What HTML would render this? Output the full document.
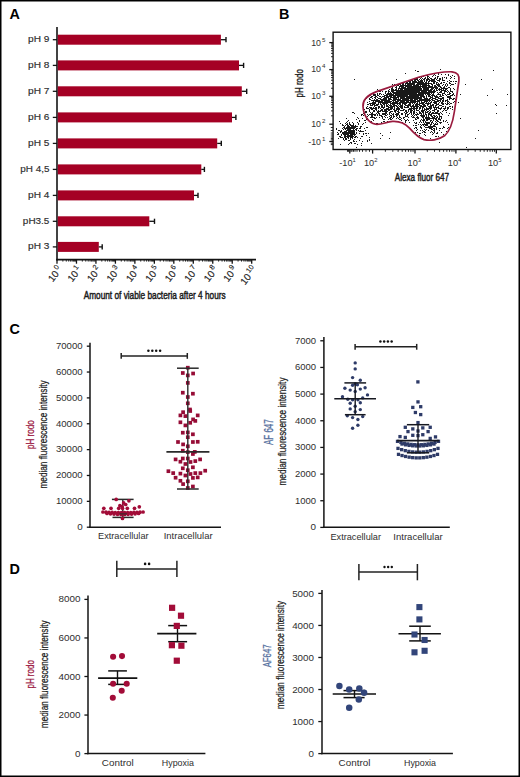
<!DOCTYPE html>
<html><head><meta charset="utf-8"><style>
html,body{margin:0;padding:0;background:#fff;}
.fig{position:relative;width:520px;height:777px;overflow:hidden;background:#fff;}
svg{position:absolute;left:0;top:0;}
svg text{font-family:"Liberation Sans", sans-serif;}
</style></head><body><div class="fig">
<svg width="520" height="777" viewBox="0 0 520 777">
<rect x="0.75" y="0.75" width="518.5" height="775.5" fill="none" stroke="#000" stroke-width="1.5"/>
<text x="9.40" y="19.40" font-size="14.4" fill="#000" font-weight="bold">A</text>
<line x1="57.00" y1="27.00" x2="57.00" y2="260.50" stroke="#141414" stroke-width="1.6"/>
<line x1="56.20" y1="259.60" x2="256.00" y2="259.60" stroke="#141414" stroke-width="1.8"/>
<rect x="57.8" y="34.70" width="163.10" height="10" fill="#a50024"/>
<line x1="220.90" y1="39.70" x2="226.00" y2="39.70" stroke="#111" stroke-width="1.3"/>
<line x1="226.00" y1="37.10" x2="226.00" y2="42.30" stroke="#111" stroke-width="1.4"/>
<line x1="52.80" y1="39.70" x2="57.00" y2="39.70" stroke="#141414" stroke-width="1.3"/>
<text x="28.09" y="42.20" font-size="8.5" fill="#2e2e2e" textLength="21.32" lengthAdjust="spacingAndGlyphs" stroke="#2e2e2e" stroke-width="0.15">pH 9</text>
<rect x="57.8" y="60.40" width="181.20" height="10" fill="#a50024"/>
<line x1="239.00" y1="65.40" x2="243.60" y2="65.40" stroke="#111" stroke-width="1.3"/>
<line x1="243.60" y1="62.80" x2="243.60" y2="68.00" stroke="#111" stroke-width="1.4"/>
<line x1="52.80" y1="65.40" x2="57.00" y2="65.40" stroke="#141414" stroke-width="1.3"/>
<text x="28.09" y="67.90" font-size="8.5" fill="#2e2e2e" textLength="21.32" lengthAdjust="spacingAndGlyphs" stroke="#2e2e2e" stroke-width="0.15">pH 8</text>
<rect x="57.8" y="86.30" width="184.00" height="10" fill="#a50024"/>
<line x1="241.80" y1="91.30" x2="246.70" y2="91.30" stroke="#111" stroke-width="1.3"/>
<line x1="246.70" y1="88.70" x2="246.70" y2="93.90" stroke="#111" stroke-width="1.4"/>
<line x1="52.80" y1="91.30" x2="57.00" y2="91.30" stroke="#141414" stroke-width="1.3"/>
<text x="28.09" y="93.80" font-size="8.5" fill="#2e2e2e" textLength="21.32" lengthAdjust="spacingAndGlyphs" stroke="#2e2e2e" stroke-width="0.15">pH 7</text>
<rect x="57.8" y="112.40" width="174.20" height="10" fill="#a50024"/>
<line x1="232.00" y1="117.40" x2="235.90" y2="117.40" stroke="#111" stroke-width="1.3"/>
<line x1="235.90" y1="114.80" x2="235.90" y2="120.00" stroke="#111" stroke-width="1.4"/>
<line x1="52.80" y1="117.40" x2="57.00" y2="117.40" stroke="#141414" stroke-width="1.3"/>
<text x="28.09" y="119.90" font-size="8.5" fill="#2e2e2e" textLength="21.32" lengthAdjust="spacingAndGlyphs" stroke="#2e2e2e" stroke-width="0.15">pH 6</text>
<rect x="57.8" y="138.40" width="159.40" height="10" fill="#a50024"/>
<line x1="217.20" y1="143.40" x2="221.30" y2="143.40" stroke="#111" stroke-width="1.3"/>
<line x1="221.30" y1="140.80" x2="221.30" y2="146.00" stroke="#111" stroke-width="1.4"/>
<line x1="52.80" y1="143.40" x2="57.00" y2="143.40" stroke="#141414" stroke-width="1.3"/>
<text x="28.09" y="145.90" font-size="8.5" fill="#2e2e2e" textLength="21.32" lengthAdjust="spacingAndGlyphs" stroke="#2e2e2e" stroke-width="0.15">pH 5</text>
<rect x="57.8" y="164.40" width="143.50" height="10" fill="#a50024"/>
<line x1="201.30" y1="169.40" x2="204.40" y2="169.40" stroke="#111" stroke-width="1.3"/>
<line x1="204.40" y1="166.80" x2="204.40" y2="172.00" stroke="#111" stroke-width="1.4"/>
<line x1="52.80" y1="169.40" x2="57.00" y2="169.40" stroke="#141414" stroke-width="1.3"/>
<text x="20.29" y="171.90" font-size="8.5" fill="#2e2e2e" textLength="29.12" lengthAdjust="spacingAndGlyphs" stroke="#2e2e2e" stroke-width="0.15">pH 4,5</text>
<rect x="57.8" y="190.40" width="136.20" height="10" fill="#a50024"/>
<line x1="194.00" y1="195.40" x2="198.00" y2="195.40" stroke="#111" stroke-width="1.3"/>
<line x1="198.00" y1="192.80" x2="198.00" y2="198.00" stroke="#111" stroke-width="1.4"/>
<line x1="52.80" y1="195.40" x2="57.00" y2="195.40" stroke="#141414" stroke-width="1.3"/>
<text x="28.09" y="197.90" font-size="8.5" fill="#2e2e2e" textLength="21.32" lengthAdjust="spacingAndGlyphs" stroke="#2e2e2e" stroke-width="0.15">pH 4</text>
<rect x="57.8" y="216.30" width="91.50" height="10" fill="#a50024"/>
<line x1="149.30" y1="221.30" x2="154.50" y2="221.30" stroke="#111" stroke-width="1.3"/>
<line x1="154.50" y1="218.70" x2="154.50" y2="223.90" stroke="#111" stroke-width="1.4"/>
<line x1="52.80" y1="221.30" x2="57.00" y2="221.30" stroke="#141414" stroke-width="1.3"/>
<text x="22.89" y="223.80" font-size="8.5" fill="#2e2e2e" textLength="26.52" lengthAdjust="spacingAndGlyphs" stroke="#2e2e2e" stroke-width="0.15">pH3.5</text>
<rect x="57.8" y="241.90" width="41.00" height="10" fill="#a50024"/>
<line x1="98.80" y1="246.90" x2="102.20" y2="246.90" stroke="#111" stroke-width="1.3"/>
<line x1="102.20" y1="244.30" x2="102.20" y2="249.50" stroke="#111" stroke-width="1.4"/>
<line x1="52.80" y1="246.90" x2="57.00" y2="246.90" stroke="#141414" stroke-width="1.3"/>
<text x="28.09" y="249.40" font-size="8.5" fill="#2e2e2e" textLength="21.32" lengthAdjust="spacingAndGlyphs" stroke="#2e2e2e" stroke-width="0.15">pH 3</text>
<line x1="57.00" y1="259.60" x2="57.00" y2="263.70" stroke="#141414" stroke-width="1.3"/>
<line x1="62.86" y1="259.60" x2="62.86" y2="261.60" stroke="#141414" stroke-width="0.9"/>
<line x1="66.29" y1="259.60" x2="66.29" y2="261.60" stroke="#141414" stroke-width="0.9"/>
<line x1="68.72" y1="259.60" x2="68.72" y2="261.60" stroke="#141414" stroke-width="0.9"/>
<line x1="70.61" y1="259.60" x2="70.61" y2="261.60" stroke="#141414" stroke-width="0.9"/>
<line x1="72.15" y1="259.60" x2="72.15" y2="261.60" stroke="#141414" stroke-width="0.9"/>
<line x1="73.45" y1="259.60" x2="73.45" y2="261.60" stroke="#141414" stroke-width="0.9"/>
<line x1="74.58" y1="259.60" x2="74.58" y2="261.60" stroke="#141414" stroke-width="0.9"/>
<line x1="75.58" y1="259.60" x2="75.58" y2="261.60" stroke="#141414" stroke-width="0.9"/>
<text transform="translate(62.80,269.60) rotate(-52)" x="0" y="0" font-size="9.8" fill="#222" stroke="#222" stroke-width="0.15" text-anchor="end">10<tspan font-size="7.2" dx="1.4" dy="-4.2">0</tspan></text>
<line x1="76.47" y1="259.60" x2="76.47" y2="263.70" stroke="#141414" stroke-width="1.3"/>
<line x1="82.33" y1="259.60" x2="82.33" y2="261.60" stroke="#141414" stroke-width="0.9"/>
<line x1="85.76" y1="259.60" x2="85.76" y2="261.60" stroke="#141414" stroke-width="0.9"/>
<line x1="88.19" y1="259.60" x2="88.19" y2="261.60" stroke="#141414" stroke-width="0.9"/>
<line x1="90.08" y1="259.60" x2="90.08" y2="261.60" stroke="#141414" stroke-width="0.9"/>
<line x1="91.62" y1="259.60" x2="91.62" y2="261.60" stroke="#141414" stroke-width="0.9"/>
<line x1="92.92" y1="259.60" x2="92.92" y2="261.60" stroke="#141414" stroke-width="0.9"/>
<line x1="94.05" y1="259.60" x2="94.05" y2="261.60" stroke="#141414" stroke-width="0.9"/>
<line x1="95.05" y1="259.60" x2="95.05" y2="261.60" stroke="#141414" stroke-width="0.9"/>
<text transform="translate(82.27,269.60) rotate(-52)" x="0" y="0" font-size="9.8" fill="#222" stroke="#222" stroke-width="0.15" text-anchor="end">10<tspan font-size="7.2" dx="1.4" dy="-4.2">1</tspan></text>
<line x1="95.94" y1="259.60" x2="95.94" y2="263.70" stroke="#141414" stroke-width="1.3"/>
<line x1="101.80" y1="259.60" x2="101.80" y2="261.60" stroke="#141414" stroke-width="0.9"/>
<line x1="105.23" y1="259.60" x2="105.23" y2="261.60" stroke="#141414" stroke-width="0.9"/>
<line x1="107.66" y1="259.60" x2="107.66" y2="261.60" stroke="#141414" stroke-width="0.9"/>
<line x1="109.55" y1="259.60" x2="109.55" y2="261.60" stroke="#141414" stroke-width="0.9"/>
<line x1="111.09" y1="259.60" x2="111.09" y2="261.60" stroke="#141414" stroke-width="0.9"/>
<line x1="112.39" y1="259.60" x2="112.39" y2="261.60" stroke="#141414" stroke-width="0.9"/>
<line x1="113.52" y1="259.60" x2="113.52" y2="261.60" stroke="#141414" stroke-width="0.9"/>
<line x1="114.52" y1="259.60" x2="114.52" y2="261.60" stroke="#141414" stroke-width="0.9"/>
<text transform="translate(101.74,269.60) rotate(-52)" x="0" y="0" font-size="9.8" fill="#222" stroke="#222" stroke-width="0.15" text-anchor="end">10<tspan font-size="7.2" dx="1.4" dy="-4.2">2</tspan></text>
<line x1="115.41" y1="259.60" x2="115.41" y2="263.70" stroke="#141414" stroke-width="1.3"/>
<line x1="121.27" y1="259.60" x2="121.27" y2="261.60" stroke="#141414" stroke-width="0.9"/>
<line x1="124.70" y1="259.60" x2="124.70" y2="261.60" stroke="#141414" stroke-width="0.9"/>
<line x1="127.13" y1="259.60" x2="127.13" y2="261.60" stroke="#141414" stroke-width="0.9"/>
<line x1="129.02" y1="259.60" x2="129.02" y2="261.60" stroke="#141414" stroke-width="0.9"/>
<line x1="130.56" y1="259.60" x2="130.56" y2="261.60" stroke="#141414" stroke-width="0.9"/>
<line x1="131.86" y1="259.60" x2="131.86" y2="261.60" stroke="#141414" stroke-width="0.9"/>
<line x1="132.99" y1="259.60" x2="132.99" y2="261.60" stroke="#141414" stroke-width="0.9"/>
<line x1="133.99" y1="259.60" x2="133.99" y2="261.60" stroke="#141414" stroke-width="0.9"/>
<text transform="translate(121.21,269.60) rotate(-52)" x="0" y="0" font-size="9.8" fill="#222" stroke="#222" stroke-width="0.15" text-anchor="end">10<tspan font-size="7.2" dx="1.4" dy="-4.2">3</tspan></text>
<line x1="134.88" y1="259.60" x2="134.88" y2="263.70" stroke="#141414" stroke-width="1.3"/>
<line x1="140.74" y1="259.60" x2="140.74" y2="261.60" stroke="#141414" stroke-width="0.9"/>
<line x1="144.17" y1="259.60" x2="144.17" y2="261.60" stroke="#141414" stroke-width="0.9"/>
<line x1="146.60" y1="259.60" x2="146.60" y2="261.60" stroke="#141414" stroke-width="0.9"/>
<line x1="148.49" y1="259.60" x2="148.49" y2="261.60" stroke="#141414" stroke-width="0.9"/>
<line x1="150.03" y1="259.60" x2="150.03" y2="261.60" stroke="#141414" stroke-width="0.9"/>
<line x1="151.33" y1="259.60" x2="151.33" y2="261.60" stroke="#141414" stroke-width="0.9"/>
<line x1="152.46" y1="259.60" x2="152.46" y2="261.60" stroke="#141414" stroke-width="0.9"/>
<line x1="153.46" y1="259.60" x2="153.46" y2="261.60" stroke="#141414" stroke-width="0.9"/>
<text transform="translate(140.68,269.60) rotate(-52)" x="0" y="0" font-size="9.8" fill="#222" stroke="#222" stroke-width="0.15" text-anchor="end">10<tspan font-size="7.2" dx="1.4" dy="-4.2">4</tspan></text>
<line x1="154.35" y1="259.60" x2="154.35" y2="263.70" stroke="#141414" stroke-width="1.3"/>
<line x1="160.21" y1="259.60" x2="160.21" y2="261.60" stroke="#141414" stroke-width="0.9"/>
<line x1="163.64" y1="259.60" x2="163.64" y2="261.60" stroke="#141414" stroke-width="0.9"/>
<line x1="166.07" y1="259.60" x2="166.07" y2="261.60" stroke="#141414" stroke-width="0.9"/>
<line x1="167.96" y1="259.60" x2="167.96" y2="261.60" stroke="#141414" stroke-width="0.9"/>
<line x1="169.50" y1="259.60" x2="169.50" y2="261.60" stroke="#141414" stroke-width="0.9"/>
<line x1="170.80" y1="259.60" x2="170.80" y2="261.60" stroke="#141414" stroke-width="0.9"/>
<line x1="171.93" y1="259.60" x2="171.93" y2="261.60" stroke="#141414" stroke-width="0.9"/>
<line x1="172.93" y1="259.60" x2="172.93" y2="261.60" stroke="#141414" stroke-width="0.9"/>
<text transform="translate(160.15,269.60) rotate(-52)" x="0" y="0" font-size="9.8" fill="#222" stroke="#222" stroke-width="0.15" text-anchor="end">10<tspan font-size="7.2" dx="1.4" dy="-4.2">5</tspan></text>
<line x1="173.82" y1="259.60" x2="173.82" y2="263.70" stroke="#141414" stroke-width="1.3"/>
<line x1="179.68" y1="259.60" x2="179.68" y2="261.60" stroke="#141414" stroke-width="0.9"/>
<line x1="183.11" y1="259.60" x2="183.11" y2="261.60" stroke="#141414" stroke-width="0.9"/>
<line x1="185.54" y1="259.60" x2="185.54" y2="261.60" stroke="#141414" stroke-width="0.9"/>
<line x1="187.43" y1="259.60" x2="187.43" y2="261.60" stroke="#141414" stroke-width="0.9"/>
<line x1="188.97" y1="259.60" x2="188.97" y2="261.60" stroke="#141414" stroke-width="0.9"/>
<line x1="190.27" y1="259.60" x2="190.27" y2="261.60" stroke="#141414" stroke-width="0.9"/>
<line x1="191.40" y1="259.60" x2="191.40" y2="261.60" stroke="#141414" stroke-width="0.9"/>
<line x1="192.40" y1="259.60" x2="192.40" y2="261.60" stroke="#141414" stroke-width="0.9"/>
<text transform="translate(179.62,269.60) rotate(-52)" x="0" y="0" font-size="9.8" fill="#222" stroke="#222" stroke-width="0.15" text-anchor="end">10<tspan font-size="7.2" dx="1.4" dy="-4.2">6</tspan></text>
<line x1="193.29" y1="259.60" x2="193.29" y2="263.70" stroke="#141414" stroke-width="1.3"/>
<line x1="199.15" y1="259.60" x2="199.15" y2="261.60" stroke="#141414" stroke-width="0.9"/>
<line x1="202.58" y1="259.60" x2="202.58" y2="261.60" stroke="#141414" stroke-width="0.9"/>
<line x1="205.01" y1="259.60" x2="205.01" y2="261.60" stroke="#141414" stroke-width="0.9"/>
<line x1="206.90" y1="259.60" x2="206.90" y2="261.60" stroke="#141414" stroke-width="0.9"/>
<line x1="208.44" y1="259.60" x2="208.44" y2="261.60" stroke="#141414" stroke-width="0.9"/>
<line x1="209.74" y1="259.60" x2="209.74" y2="261.60" stroke="#141414" stroke-width="0.9"/>
<line x1="210.87" y1="259.60" x2="210.87" y2="261.60" stroke="#141414" stroke-width="0.9"/>
<line x1="211.87" y1="259.60" x2="211.87" y2="261.60" stroke="#141414" stroke-width="0.9"/>
<text transform="translate(199.09,269.60) rotate(-52)" x="0" y="0" font-size="9.8" fill="#222" stroke="#222" stroke-width="0.15" text-anchor="end">10<tspan font-size="7.2" dx="1.4" dy="-4.2">7</tspan></text>
<line x1="212.76" y1="259.60" x2="212.76" y2="263.70" stroke="#141414" stroke-width="1.3"/>
<line x1="218.62" y1="259.60" x2="218.62" y2="261.60" stroke="#141414" stroke-width="0.9"/>
<line x1="222.05" y1="259.60" x2="222.05" y2="261.60" stroke="#141414" stroke-width="0.9"/>
<line x1="224.48" y1="259.60" x2="224.48" y2="261.60" stroke="#141414" stroke-width="0.9"/>
<line x1="226.37" y1="259.60" x2="226.37" y2="261.60" stroke="#141414" stroke-width="0.9"/>
<line x1="227.91" y1="259.60" x2="227.91" y2="261.60" stroke="#141414" stroke-width="0.9"/>
<line x1="229.21" y1="259.60" x2="229.21" y2="261.60" stroke="#141414" stroke-width="0.9"/>
<line x1="230.34" y1="259.60" x2="230.34" y2="261.60" stroke="#141414" stroke-width="0.9"/>
<line x1="231.34" y1="259.60" x2="231.34" y2="261.60" stroke="#141414" stroke-width="0.9"/>
<text transform="translate(218.56,269.60) rotate(-52)" x="0" y="0" font-size="9.8" fill="#222" stroke="#222" stroke-width="0.15" text-anchor="end">10<tspan font-size="7.2" dx="1.4" dy="-4.2">8</tspan></text>
<line x1="232.23" y1="259.60" x2="232.23" y2="263.70" stroke="#141414" stroke-width="1.3"/>
<line x1="238.09" y1="259.60" x2="238.09" y2="261.60" stroke="#141414" stroke-width="0.9"/>
<line x1="241.52" y1="259.60" x2="241.52" y2="261.60" stroke="#141414" stroke-width="0.9"/>
<line x1="243.95" y1="259.60" x2="243.95" y2="261.60" stroke="#141414" stroke-width="0.9"/>
<line x1="245.84" y1="259.60" x2="245.84" y2="261.60" stroke="#141414" stroke-width="0.9"/>
<line x1="247.38" y1="259.60" x2="247.38" y2="261.60" stroke="#141414" stroke-width="0.9"/>
<line x1="248.68" y1="259.60" x2="248.68" y2="261.60" stroke="#141414" stroke-width="0.9"/>
<line x1="249.81" y1="259.60" x2="249.81" y2="261.60" stroke="#141414" stroke-width="0.9"/>
<line x1="250.81" y1="259.60" x2="250.81" y2="261.60" stroke="#141414" stroke-width="0.9"/>
<text transform="translate(238.03,269.60) rotate(-52)" x="0" y="0" font-size="9.8" fill="#222" stroke="#222" stroke-width="0.15" text-anchor="end">10<tspan font-size="7.2" dx="1.4" dy="-4.2">9</tspan></text>
<line x1="251.70" y1="259.60" x2="251.70" y2="263.70" stroke="#141414" stroke-width="1.3"/>
<text transform="translate(257.50,269.60) rotate(-52)" x="0" y="0" font-size="9.8" fill="#222" stroke="#222" stroke-width="0.15" text-anchor="end">10<tspan font-size="7.2" dx="1.4" dy="-4.2">10</tspan></text>
<text x="83.67" y="298.50" font-size="10.5" fill="#1a1a1a" textLength="141.96" lengthAdjust="spacingAndGlyphs" stroke="#1a1a1a" stroke-width="0.45">Amount of viable bacteria after 4 hours</text>
<text x="278.90" y="19.40" font-size="14.4" fill="#000" font-weight="bold">B</text>
<rect x="333.1" y="32.2" width="177.8" height="117.3" fill="none" stroke="#111" stroke-width="1.4"/>
<line x1="329.30" y1="42.60" x2="333.10" y2="42.60" stroke="#141414" stroke-width="1.3"/>
<text x="321.0" y="45.60" font-size="8.8" fill="#2e2e2e" text-anchor="end">10</text>
<text x="321.9" y="41.70" font-size="6.2" fill="#2e2e2e">5</text>
<line x1="329.30" y1="69.60" x2="333.10" y2="69.60" stroke="#141414" stroke-width="1.3"/>
<text x="321.0" y="71.90" font-size="8.8" fill="#2e2e2e" text-anchor="end">10</text>
<text x="321.9" y="68.00" font-size="6.2" fill="#2e2e2e">4</text>
<line x1="329.30" y1="96.30" x2="333.10" y2="96.30" stroke="#141414" stroke-width="1.3"/>
<text x="321.0" y="98.50" font-size="8.8" fill="#2e2e2e" text-anchor="end">10</text>
<text x="321.9" y="94.60" font-size="6.2" fill="#2e2e2e">3</text>
<line x1="329.30" y1="124.20" x2="333.10" y2="124.20" stroke="#141414" stroke-width="1.3"/>
<text x="321.0" y="126.80" font-size="8.8" fill="#2e2e2e" text-anchor="end">10</text>
<text x="321.9" y="122.90" font-size="6.2" fill="#2e2e2e">2</text>
<line x1="329.30" y1="141.50" x2="333.10" y2="141.50" stroke="#141414" stroke-width="1.3"/>
<text x="321.0" y="144.50" font-size="8.8" fill="#2e2e2e" text-anchor="end">-10</text>
<text x="321.9" y="140.60" font-size="6.2" fill="#2e2e2e">1</text>
<line x1="331.00" y1="61.47" x2="333.00" y2="61.47" stroke="#141414" stroke-width="0.9"/>
<line x1="331.00" y1="56.72" x2="333.00" y2="56.72" stroke="#141414" stroke-width="0.9"/>
<line x1="331.00" y1="53.34" x2="333.00" y2="53.34" stroke="#141414" stroke-width="0.9"/>
<line x1="331.00" y1="50.73" x2="333.00" y2="50.73" stroke="#141414" stroke-width="0.9"/>
<line x1="331.00" y1="48.59" x2="333.00" y2="48.59" stroke="#141414" stroke-width="0.9"/>
<line x1="331.00" y1="46.78" x2="333.00" y2="46.78" stroke="#141414" stroke-width="0.9"/>
<line x1="331.00" y1="45.22" x2="333.00" y2="45.22" stroke="#141414" stroke-width="0.9"/>
<line x1="331.00" y1="43.84" x2="333.00" y2="43.84" stroke="#141414" stroke-width="0.9"/>
<line x1="331.00" y1="88.26" x2="333.00" y2="88.26" stroke="#141414" stroke-width="0.9"/>
<line x1="331.00" y1="83.56" x2="333.00" y2="83.56" stroke="#141414" stroke-width="0.9"/>
<line x1="331.00" y1="80.22" x2="333.00" y2="80.22" stroke="#141414" stroke-width="0.9"/>
<line x1="331.00" y1="77.64" x2="333.00" y2="77.64" stroke="#141414" stroke-width="0.9"/>
<line x1="331.00" y1="75.52" x2="333.00" y2="75.52" stroke="#141414" stroke-width="0.9"/>
<line x1="331.00" y1="73.74" x2="333.00" y2="73.74" stroke="#141414" stroke-width="0.9"/>
<line x1="331.00" y1="72.19" x2="333.00" y2="72.19" stroke="#141414" stroke-width="0.9"/>
<line x1="331.00" y1="70.82" x2="333.00" y2="70.82" stroke="#141414" stroke-width="0.9"/>
<line x1="331.00" y1="115.80" x2="333.00" y2="115.80" stroke="#141414" stroke-width="0.9"/>
<line x1="331.00" y1="110.89" x2="333.00" y2="110.89" stroke="#141414" stroke-width="0.9"/>
<line x1="331.00" y1="107.40" x2="333.00" y2="107.40" stroke="#141414" stroke-width="0.9"/>
<line x1="331.00" y1="104.70" x2="333.00" y2="104.70" stroke="#141414" stroke-width="0.9"/>
<line x1="331.00" y1="102.49" x2="333.00" y2="102.49" stroke="#141414" stroke-width="0.9"/>
<line x1="331.00" y1="100.62" x2="333.00" y2="100.62" stroke="#141414" stroke-width="0.9"/>
<line x1="331.00" y1="99.00" x2="333.00" y2="99.00" stroke="#141414" stroke-width="0.9"/>
<line x1="331.00" y1="97.58" x2="333.00" y2="97.58" stroke="#141414" stroke-width="0.9"/>
<line x1="330.80" y1="127.50" x2="333.00" y2="127.50" stroke="#141414" stroke-width="0.9"/>
<line x1="330.80" y1="130.50" x2="333.00" y2="130.50" stroke="#141414" stroke-width="0.9"/>
<line x1="330.80" y1="133.00" x2="333.00" y2="133.00" stroke="#141414" stroke-width="0.9"/>
<line x1="330.80" y1="135.00" x2="333.00" y2="135.00" stroke="#141414" stroke-width="0.9"/>
<line x1="330.80" y1="137.00" x2="333.00" y2="137.00" stroke="#141414" stroke-width="0.9"/>
<line x1="330.80" y1="138.60" x2="333.00" y2="138.60" stroke="#141414" stroke-width="0.9"/>
<line x1="330.80" y1="139.90" x2="333.00" y2="139.90" stroke="#141414" stroke-width="0.9"/>
<line x1="330.80" y1="143.20" x2="333.00" y2="143.20" stroke="#141414" stroke-width="0.9"/>
<line x1="330.80" y1="144.60" x2="333.00" y2="144.60" stroke="#141414" stroke-width="0.9"/>
<text transform="translate(302.60,83.35) rotate(-90)" x="0" y="0" font-size="11.6" fill="#1a1a1a" text-anchor="middle" textLength="28.46" lengthAdjust="spacingAndGlyphs" stroke="#1a1a1a" stroke-width="0.35">pH rodo</text>
<line x1="349.80" y1="149.50" x2="349.80" y2="153.60" stroke="#141414" stroke-width="1.3"/>
<line x1="372.60" y1="149.50" x2="372.60" y2="153.60" stroke="#141414" stroke-width="1.3"/>
<line x1="415.00" y1="149.50" x2="415.00" y2="153.60" stroke="#141414" stroke-width="1.3"/>
<line x1="455.90" y1="149.50" x2="455.90" y2="153.60" stroke="#141414" stroke-width="1.3"/>
<line x1="496.30" y1="149.50" x2="496.30" y2="153.60" stroke="#141414" stroke-width="1.3"/>
<line x1="385.36" y1="149.50" x2="385.36" y2="151.80" stroke="#141414" stroke-width="0.9"/>
<line x1="392.83" y1="149.50" x2="392.83" y2="151.80" stroke="#141414" stroke-width="0.9"/>
<line x1="398.13" y1="149.50" x2="398.13" y2="151.80" stroke="#141414" stroke-width="0.9"/>
<line x1="402.24" y1="149.50" x2="402.24" y2="151.80" stroke="#141414" stroke-width="0.9"/>
<line x1="405.59" y1="149.50" x2="405.59" y2="151.80" stroke="#141414" stroke-width="0.9"/>
<line x1="408.43" y1="149.50" x2="408.43" y2="151.80" stroke="#141414" stroke-width="0.9"/>
<line x1="410.89" y1="149.50" x2="410.89" y2="151.80" stroke="#141414" stroke-width="0.9"/>
<line x1="413.06" y1="149.50" x2="413.06" y2="151.80" stroke="#141414" stroke-width="0.9"/>
<line x1="427.31" y1="149.50" x2="427.31" y2="151.80" stroke="#141414" stroke-width="0.9"/>
<line x1="434.51" y1="149.50" x2="434.51" y2="151.80" stroke="#141414" stroke-width="0.9"/>
<line x1="439.62" y1="149.50" x2="439.62" y2="151.80" stroke="#141414" stroke-width="0.9"/>
<line x1="443.59" y1="149.50" x2="443.59" y2="151.80" stroke="#141414" stroke-width="0.9"/>
<line x1="446.83" y1="149.50" x2="446.83" y2="151.80" stroke="#141414" stroke-width="0.9"/>
<line x1="449.56" y1="149.50" x2="449.56" y2="151.80" stroke="#141414" stroke-width="0.9"/>
<line x1="451.94" y1="149.50" x2="451.94" y2="151.80" stroke="#141414" stroke-width="0.9"/>
<line x1="454.03" y1="149.50" x2="454.03" y2="151.80" stroke="#141414" stroke-width="0.9"/>
<line x1="468.06" y1="149.50" x2="468.06" y2="151.80" stroke="#141414" stroke-width="0.9"/>
<line x1="475.18" y1="149.50" x2="475.18" y2="151.80" stroke="#141414" stroke-width="0.9"/>
<line x1="480.22" y1="149.50" x2="480.22" y2="151.80" stroke="#141414" stroke-width="0.9"/>
<line x1="484.14" y1="149.50" x2="484.14" y2="151.80" stroke="#141414" stroke-width="0.9"/>
<line x1="487.34" y1="149.50" x2="487.34" y2="151.80" stroke="#141414" stroke-width="0.9"/>
<line x1="490.04" y1="149.50" x2="490.04" y2="151.80" stroke="#141414" stroke-width="0.9"/>
<line x1="492.38" y1="149.50" x2="492.38" y2="151.80" stroke="#141414" stroke-width="0.9"/>
<line x1="494.45" y1="149.50" x2="494.45" y2="151.80" stroke="#141414" stroke-width="0.9"/>
<line x1="347.50" y1="149.50" x2="347.50" y2="151.80" stroke="#141414" stroke-width="0.9"/>
<line x1="348.50" y1="149.50" x2="348.50" y2="151.80" stroke="#141414" stroke-width="0.9"/>
<line x1="351.00" y1="149.50" x2="351.00" y2="151.80" stroke="#141414" stroke-width="0.9"/>
<line x1="352.00" y1="149.50" x2="352.00" y2="151.80" stroke="#141414" stroke-width="0.9"/>
<line x1="353.50" y1="149.50" x2="353.50" y2="151.80" stroke="#141414" stroke-width="0.9"/>
<line x1="355.00" y1="149.50" x2="355.00" y2="151.80" stroke="#141414" stroke-width="0.9"/>
<line x1="357.00" y1="149.50" x2="357.00" y2="151.80" stroke="#141414" stroke-width="0.9"/>
<line x1="359.50" y1="149.50" x2="359.50" y2="151.80" stroke="#141414" stroke-width="0.9"/>
<line x1="362.50" y1="149.50" x2="362.50" y2="151.80" stroke="#141414" stroke-width="0.9"/>
<line x1="366.00" y1="149.50" x2="366.00" y2="151.80" stroke="#141414" stroke-width="0.9"/>
<line x1="369.50" y1="149.50" x2="369.50" y2="151.80" stroke="#141414" stroke-width="0.9"/>
<text x="339.30" y="166.2" font-size="9.2" fill="#2e2e2e">-10<tspan font-size="5.8" dy="-4.6">1</tspan></text>
<text x="363.90" y="166.2" font-size="9.2" fill="#2e2e2e">10<tspan font-size="5.8" dy="-4.6">2</tspan></text>
<text x="407.60" y="166.2" font-size="9.2" fill="#2e2e2e">10<tspan font-size="5.8" dy="-4.6">3</tspan></text>
<text x="447.80" y="166.2" font-size="9.2" fill="#2e2e2e">10<tspan font-size="5.8" dy="-4.6">4</tspan></text>
<text x="488.00" y="166.2" font-size="9.2" fill="#2e2e2e">10<tspan font-size="5.8" dy="-4.6">5</tspan></text>
<text x="394.75" y="180.50" font-size="10.8" fill="#1a1a1a" textLength="54.40" lengthAdjust="spacingAndGlyphs" stroke="#1a1a1a" stroke-width="0.45">Alexa fluor 647</text>
<path d="M426 85h1v1h-1zM426 92h1v1h-1zM404 89h1v1h-1zM405 92h1v1h-1zM417 88h1v1h-1zM411 95h1v1h-1zM420 92h1v1h-1zM389 94h1v1h-1zM429 87h1v1h-1zM420 93h1v1h-1zM409 91h1v1h-1zM408 96h1v1h-1zM417 94h1v1h-1zM420 85h1v1h-1zM408 89h1v1h-1zM407 85h1v1h-1zM400 91h1v1h-1zM393 95h1v1h-1zM414 82h1v1h-1zM404 95h1v1h-1zM388 96h1v1h-1zM402 94h1v1h-1zM404 87h1v1h-1zM394 84h1v1h-1zM394 98h1v1h-1zM412 93h1v1h-1zM421 86h1v1h-1zM407 88h1v1h-1zM401 90h1v1h-1zM415 87h1v1h-1zM418 84h1v1h-1zM418 92h1v1h-1zM420 78h1v1h-1zM408 88h1v1h-1zM401 90h1v1h-1zM415 90h1v1h-1zM411 80h1v1h-1zM425 92h1v1h-1zM397 97h1v1h-1zM404 96h1v1h-1zM403 99h1v1h-1zM389 91h1v1h-1zM417 90h1v1h-1zM404 99h1v1h-1zM428 91h1v1h-1zM419 84h1v1h-1zM418 87h1v1h-1zM416 90h1v1h-1zM419 77h1v1h-1zM394 90h1v1h-1zM417 84h1v1h-1zM420 96h1v1h-1zM389 91h1v1h-1zM417 97h1v1h-1zM408 90h1v1h-1zM417 78h1v1h-1zM409 103h1v1h-1zM409 84h1v1h-1zM415 92h1v1h-1zM403 101h1v1h-1zM417 85h1v1h-1zM408 83h1v1h-1zM418 94h1v1h-1zM405 91h1v1h-1zM421 80h1v1h-1zM416 82h1v1h-1zM408 88h1v1h-1zM419 93h1v1h-1zM425 84h1v1h-1zM432 87h1v1h-1zM395 103h1v1h-1zM423 94h1v1h-1zM418 96h1v1h-1zM411 96h1v1h-1zM397 84h1v1h-1zM427 92h1v1h-1zM396 95h1v1h-1zM417 87h1v1h-1zM424 80h1v1h-1zM405 85h1v1h-1zM395 93h1v1h-1zM412 82h1v1h-1zM427 80h1v1h-1zM433 80h1v1h-1zM391 99h1v1h-1zM403 90h1v1h-1zM418 87h1v1h-1zM431 92h1v1h-1zM415 86h1v1h-1zM403 95h1v1h-1zM412 83h1v1h-1zM411 91h1v1h-1zM408 91h1v1h-1zM402 93h1v1h-1zM414 86h1v1h-1zM413 83h1v1h-1zM409 88h1v1h-1zM407 88h1v1h-1zM397 99h1v1h-1zM406 96h1v1h-1zM423 79h1v1h-1zM409 93h1v1h-1zM393 91h1v1h-1zM427 88h1v1h-1zM416 85h1v1h-1zM433 75h1v1h-1zM413 95h1v1h-1zM406 93h1v1h-1zM392 87h1v1h-1zM440 79h1v1h-1zM399 86h1v1h-1zM402 90h1v1h-1zM418 91h1v1h-1zM403 100h1v1h-1zM407 88h1v1h-1zM408 98h1v1h-1zM414 95h1v1h-1zM423 84h1v1h-1zM408 81h1v1h-1zM422 91h1v1h-1zM407 94h1v1h-1zM418 101h1v1h-1zM388 104h1v1h-1zM395 98h1v1h-1zM422 96h1v1h-1zM402 86h1v1h-1zM418 89h1v1h-1zM416 86h1v1h-1zM428 95h1v1h-1zM421 90h1v1h-1zM411 97h1v1h-1zM401 87h1v1h-1zM403 96h1v1h-1zM404 89h1v1h-1zM398 94h1v1h-1zM405 95h1v1h-1zM410 91h1v1h-1zM412 84h1v1h-1zM409 98h1v1h-1zM389 98h1v1h-1zM410 90h1v1h-1zM414 93h1v1h-1zM422 83h1v1h-1zM420 98h1v1h-1zM403 93h1v1h-1zM403 94h1v1h-1zM434 85h1v1h-1zM418 82h1v1h-1zM430 78h1v1h-1zM436 84h1v1h-1zM402 94h1v1h-1zM417 96h1v1h-1zM416 91h1v1h-1zM415 82h1v1h-1zM418 91h1v1h-1zM414 93h1v1h-1zM414 94h1v1h-1zM394 96h1v1h-1zM407 84h1v1h-1zM404 98h1v1h-1zM411 85h1v1h-1zM406 94h1v1h-1zM415 79h1v1h-1zM421 91h1v1h-1zM413 84h1v1h-1zM416 94h1v1h-1zM414 99h1v1h-1zM407 97h1v1h-1zM407 84h1v1h-1zM403 86h1v1h-1zM414 84h1v1h-1zM412 93h1v1h-1zM418 90h1v1h-1zM395 95h1v1h-1zM421 88h1v1h-1zM403 95h1v1h-1zM403 95h1v1h-1zM411 99h1v1h-1zM404 91h1v1h-1zM414 90h1v1h-1zM396 86h1v1h-1zM400 89h1v1h-1zM424 79h1v1h-1zM411 91h1v1h-1zM398 99h1v1h-1zM410 87h1v1h-1zM392 92h1v1h-1zM431 81h1v1h-1zM393 95h1v1h-1zM415 85h1v1h-1zM417 90h1v1h-1zM394 96h1v1h-1zM414 90h1v1h-1zM423 90h1v1h-1zM416 88h1v1h-1zM414 89h1v1h-1zM424 96h1v1h-1zM412 89h1v1h-1zM416 93h1v1h-1zM409 90h1v1h-1zM417 85h1v1h-1zM399 90h1v1h-1zM419 83h1v1h-1zM405 91h1v1h-1zM397 90h1v1h-1zM414 86h1v1h-1zM432 91h1v1h-1zM421 86h1v1h-1zM406 97h1v1h-1zM419 89h1v1h-1zM406 95h1v1h-1zM408 87h1v1h-1zM412 90h1v1h-1zM387 111h1v1h-1zM414 93h1v1h-1zM400 98h1v1h-1zM403 93h1v1h-1zM395 99h1v1h-1zM391 88h1v1h-1zM398 88h1v1h-1zM421 89h1v1h-1zM431 89h1v1h-1zM410 87h1v1h-1zM423 85h1v1h-1zM407 88h1v1h-1zM388 94h1v1h-1zM411 83h1v1h-1zM414 80h1v1h-1zM405 90h1v1h-1zM412 79h1v1h-1zM416 82h1v1h-1zM400 89h1v1h-1zM392 88h1v1h-1zM408 91h1v1h-1zM407 88h1v1h-1zM406 90h1v1h-1zM420 81h1v1h-1zM429 80h1v1h-1zM406 93h1v1h-1zM419 89h1v1h-1zM421 84h1v1h-1zM419 89h1v1h-1zM423 87h1v1h-1zM406 91h1v1h-1zM421 96h1v1h-1zM433 81h1v1h-1zM420 89h1v1h-1zM404 94h1v1h-1zM417 86h1v1h-1zM423 79h1v1h-1zM416 92h1v1h-1zM404 92h1v1h-1zM428 85h1v1h-1zM396 93h1v1h-1zM416 88h1v1h-1zM409 85h1v1h-1zM397 95h1v1h-1zM422 76h1v1h-1zM414 88h1v1h-1zM395 85h1v1h-1zM417 86h1v1h-1zM406 94h1v1h-1zM388 94h1v1h-1zM402 89h1v1h-1zM414 91h1v1h-1zM417 86h1v1h-1zM412 87h1v1h-1zM410 87h1v1h-1zM418 96h1v1h-1zM409 93h1v1h-1zM425 88h1v1h-1zM410 82h1v1h-1zM415 92h1v1h-1zM415 81h1v1h-1zM399 95h1v1h-1zM401 85h1v1h-1zM431 95h1v1h-1zM412 79h1v1h-1zM409 97h1v1h-1zM416 92h1v1h-1zM413 87h1v1h-1zM405 99h1v1h-1zM415 94h1v1h-1zM425 82h1v1h-1zM403 85h1v1h-1zM391 89h1v1h-1zM407 86h1v1h-1zM409 100h1v1h-1zM412 89h1v1h-1zM397 92h1v1h-1zM415 86h1v1h-1zM453 81h1v1h-1zM397 97h1v1h-1zM413 83h1v1h-1zM409 98h1v1h-1zM411 83h1v1h-1zM389 93h1v1h-1zM398 95h1v1h-1zM418 97h1v1h-1zM409 87h1v1h-1zM430 86h1v1h-1zM404 98h1v1h-1zM413 92h1v1h-1zM446 86h1v1h-1zM403 97h1v1h-1zM400 93h1v1h-1zM411 93h1v1h-1zM411 94h1v1h-1zM420 86h1v1h-1zM414 97h1v1h-1zM412 84h1v1h-1zM443 89h1v1h-1zM426 87h1v1h-1zM377 94h1v1h-1zM409 92h1v1h-1zM402 98h1v1h-1zM417 84h1v1h-1zM409 94h1v1h-1zM433 83h1v1h-1zM421 86h1v1h-1zM421 86h1v1h-1zM414 94h1v1h-1zM408 83h1v1h-1zM414 86h1v1h-1zM426 89h1v1h-1zM415 81h1v1h-1zM404 82h1v1h-1zM426 88h1v1h-1zM413 89h1v1h-1zM409 89h1v1h-1zM401 92h1v1h-1zM402 86h1v1h-1zM407 107h1v1h-1zM377 93h1v1h-1zM422 84h1v1h-1zM415 80h1v1h-1zM407 88h1v1h-1zM425 94h1v1h-1zM416 88h1v1h-1zM416 91h1v1h-1zM381 94h1v1h-1zM410 100h1v1h-1zM417 88h1v1h-1zM427 78h1v1h-1zM433 88h1v1h-1zM426 83h1v1h-1zM398 96h1v1h-1zM385 97h1v1h-1zM417 89h1v1h-1zM411 90h1v1h-1zM420 81h1v1h-1zM407 82h1v1h-1zM414 94h1v1h-1zM393 93h1v1h-1zM416 89h1v1h-1zM405 88h1v1h-1zM414 81h1v1h-1zM411 97h1v1h-1zM413 84h1v1h-1zM410 87h1v1h-1zM417 79h1v1h-1zM415 85h1v1h-1zM404 89h1v1h-1zM403 90h1v1h-1zM431 83h1v1h-1zM408 86h1v1h-1zM421 83h1v1h-1zM415 88h1v1h-1zM404 93h1v1h-1zM402 91h1v1h-1zM414 98h1v1h-1zM414 89h1v1h-1zM418 88h1v1h-1zM395 90h1v1h-1zM405 96h1v1h-1zM408 84h1v1h-1zM427 76h1v1h-1zM382 91h1v1h-1zM416 91h1v1h-1zM403 85h1v1h-1zM417 95h1v1h-1zM405 91h1v1h-1zM412 80h1v1h-1zM428 83h1v1h-1zM417 97h1v1h-1zM414 83h1v1h-1zM413 81h1v1h-1zM402 94h1v1h-1zM419 94h1v1h-1zM409 95h1v1h-1zM401 90h1v1h-1zM410 90h1v1h-1zM408 92h1v1h-1zM421 93h1v1h-1zM413 101h1v1h-1zM404 90h1v1h-1zM429 92h1v1h-1zM421 84h1v1h-1zM426 88h1v1h-1zM416 82h1v1h-1zM408 85h1v1h-1zM406 93h1v1h-1zM406 85h1v1h-1zM423 91h1v1h-1zM411 86h1v1h-1zM393 94h1v1h-1zM410 89h1v1h-1zM394 92h1v1h-1zM413 89h1v1h-1zM398 99h1v1h-1zM400 110h1v1h-1zM410 82h1v1h-1zM410 91h1v1h-1zM391 93h1v1h-1zM418 82h1v1h-1zM436 84h1v1h-1zM392 89h1v1h-1zM431 83h1v1h-1zM404 98h1v1h-1zM409 91h1v1h-1zM394 96h1v1h-1zM424 80h1v1h-1zM417 90h1v1h-1zM402 93h1v1h-1zM407 88h1v1h-1zM395 100h1v1h-1zM405 83h1v1h-1zM422 90h1v1h-1zM390 93h1v1h-1zM404 85h1v1h-1zM412 88h1v1h-1zM422 84h1v1h-1zM427 89h1v1h-1zM403 83h1v1h-1zM402 90h1v1h-1zM415 85h1v1h-1zM408 99h1v1h-1zM405 84h1v1h-1zM424 91h1v1h-1zM427 75h1v1h-1zM414 90h1v1h-1zM408 89h1v1h-1zM418 89h1v1h-1zM388 91h1v1h-1zM440 89h1v1h-1zM419 88h1v1h-1zM411 84h1v1h-1zM409 94h1v1h-1zM380 93h1v1h-1zM418 83h1v1h-1zM428 78h1v1h-1zM404 98h1v1h-1zM421 97h1v1h-1zM417 82h1v1h-1zM393 95h1v1h-1zM423 91h1v1h-1zM429 96h1v1h-1zM410 90h1v1h-1zM420 90h1v1h-1zM412 91h1v1h-1zM423 87h1v1h-1zM397 97h1v1h-1zM421 83h1v1h-1zM406 93h1v1h-1zM385 92h1v1h-1zM410 93h1v1h-1zM399 93h1v1h-1zM414 86h1v1h-1zM395 85h1v1h-1zM425 94h1v1h-1zM403 97h1v1h-1zM416 93h1v1h-1zM403 87h1v1h-1zM406 88h1v1h-1zM427 94h1v1h-1zM414 92h1v1h-1zM405 86h1v1h-1zM396 93h1v1h-1zM424 86h1v1h-1zM419 86h1v1h-1zM405 85h1v1h-1zM415 95h1v1h-1zM399 95h1v1h-1zM398 91h1v1h-1zM399 83h1v1h-1zM414 85h1v1h-1zM414 88h1v1h-1zM403 96h1v1h-1zM418 85h1v1h-1zM421 92h1v1h-1zM413 89h1v1h-1zM421 82h1v1h-1zM407 83h1v1h-1zM414 80h1v1h-1zM410 88h1v1h-1zM420 88h1v1h-1zM398 100h1v1h-1zM427 85h1v1h-1zM400 85h1v1h-1zM412 102h1v1h-1zM395 95h1v1h-1zM417 86h1v1h-1zM425 84h1v1h-1zM421 79h1v1h-1zM421 90h1v1h-1zM393 96h1v1h-1zM404 100h1v1h-1zM407 96h1v1h-1zM401 97h1v1h-1zM425 92h1v1h-1zM412 87h1v1h-1zM409 87h1v1h-1zM416 87h1v1h-1zM398 85h1v1h-1zM400 91h1v1h-1zM400 90h1v1h-1zM417 91h1v1h-1zM414 88h1v1h-1zM423 86h1v1h-1zM397 101h1v1h-1zM411 85h1v1h-1zM395 93h1v1h-1zM402 84h1v1h-1zM421 83h1v1h-1zM423 86h1v1h-1zM421 79h1v1h-1zM411 91h1v1h-1zM409 92h1v1h-1zM421 79h1v1h-1zM406 91h1v1h-1zM416 94h1v1h-1zM426 84h1v1h-1zM407 93h1v1h-1zM404 95h1v1h-1zM410 88h1v1h-1zM419 93h1v1h-1zM417 90h1v1h-1zM411 84h1v1h-1zM418 90h1v1h-1zM393 99h1v1h-1zM402 96h1v1h-1zM411 85h1v1h-1zM400 95h1v1h-1zM397 101h1v1h-1zM397 94h1v1h-1zM401 98h1v1h-1zM410 97h1v1h-1zM399 92h1v1h-1zM414 92h1v1h-1zM430 83h1v1h-1zM410 95h1v1h-1zM425 85h1v1h-1zM413 86h1v1h-1zM397 93h1v1h-1zM407 90h1v1h-1zM400 94h1v1h-1zM420 89h1v1h-1zM395 87h1v1h-1zM425 82h1v1h-1zM418 89h1v1h-1zM388 98h1v1h-1zM420 87h1v1h-1zM432 99h1v1h-1zM403 98h1v1h-1zM422 86h1v1h-1zM391 99h1v1h-1zM415 96h1v1h-1zM392 97h1v1h-1zM414 79h1v1h-1zM390 96h1v1h-1zM380 98h1v1h-1zM418 100h1v1h-1zM406 100h1v1h-1zM420 86h1v1h-1zM413 94h1v1h-1zM406 89h1v1h-1zM418 89h1v1h-1zM431 90h1v1h-1zM396 94h1v1h-1zM419 93h1v1h-1zM414 88h1v1h-1zM393 92h1v1h-1zM429 83h1v1h-1zM432 81h1v1h-1zM399 92h1v1h-1zM433 91h1v1h-1zM409 83h1v1h-1zM406 81h1v1h-1zM428 85h1v1h-1zM416 98h1v1h-1zM416 94h1v1h-1zM430 92h1v1h-1zM427 92h1v1h-1zM420 83h1v1h-1zM394 95h1v1h-1zM423 83h1v1h-1zM401 96h1v1h-1zM410 81h1v1h-1zM407 83h1v1h-1zM396 95h1v1h-1zM431 91h1v1h-1zM402 107h1v1h-1zM411 98h1v1h-1zM406 82h1v1h-1zM394 95h1v1h-1zM412 95h1v1h-1zM406 82h1v1h-1zM416 85h1v1h-1zM415 86h1v1h-1zM405 91h1v1h-1zM413 88h1v1h-1zM407 94h1v1h-1zM418 94h1v1h-1zM409 90h1v1h-1zM404 96h1v1h-1zM413 100h1v1h-1zM413 83h1v1h-1zM435 77h1v1h-1zM406 94h1v1h-1zM417 99h1v1h-1zM428 86h1v1h-1zM388 102h1v1h-1zM390 94h1v1h-1zM398 98h1v1h-1zM408 87h1v1h-1zM440 86h1v1h-1zM416 91h1v1h-1zM425 88h1v1h-1zM410 98h1v1h-1zM384 103h1v1h-1zM383 94h1v1h-1zM424 91h1v1h-1zM410 80h1v1h-1zM397 99h1v1h-1zM427 101h1v1h-1zM394 98h1v1h-1zM425 89h1v1h-1zM428 86h1v1h-1zM403 97h1v1h-1zM397 91h1v1h-1zM421 91h1v1h-1zM398 92h1v1h-1zM420 85h1v1h-1zM397 94h1v1h-1zM420 87h1v1h-1zM409 81h1v1h-1zM409 103h1v1h-1zM400 94h1v1h-1zM411 80h1v1h-1zM390 102h1v1h-1zM407 91h1v1h-1zM406 92h1v1h-1zM420 92h1v1h-1zM395 89h1v1h-1zM407 91h1v1h-1zM398 95h1v1h-1zM428 91h1v1h-1zM429 81h1v1h-1zM408 89h1v1h-1zM401 95h1v1h-1zM410 88h1v1h-1zM402 91h1v1h-1zM407 92h1v1h-1zM427 80h1v1h-1zM417 97h1v1h-1zM411 85h1v1h-1zM415 89h1v1h-1zM410 89h1v1h-1zM419 84h1v1h-1zM422 90h1v1h-1zM408 97h1v1h-1zM414 98h1v1h-1zM439 86h1v1h-1zM415 86h1v1h-1zM410 95h1v1h-1zM432 76h1v1h-1zM411 90h1v1h-1zM399 96h1v1h-1zM419 91h1v1h-1zM399 87h1v1h-1zM403 84h1v1h-1zM417 98h1v1h-1zM408 88h1v1h-1zM399 84h1v1h-1zM403 85h1v1h-1zM404 92h1v1h-1zM426 93h1v1h-1zM402 92h1v1h-1zM406 98h1v1h-1zM435 85h1v1h-1zM405 94h1v1h-1zM429 91h1v1h-1zM425 84h1v1h-1zM409 92h1v1h-1zM394 92h1v1h-1zM415 85h1v1h-1zM419 91h1v1h-1zM421 83h1v1h-1zM412 90h1v1h-1zM423 82h1v1h-1zM427 85h1v1h-1zM398 90h1v1h-1zM429 91h1v1h-1zM413 90h1v1h-1zM404 92h1v1h-1zM409 100h1v1h-1zM420 81h1v1h-1zM412 90h1v1h-1zM410 93h1v1h-1zM409 94h1v1h-1zM405 93h1v1h-1zM392 90h1v1h-1zM423 96h1v1h-1zM400 94h1v1h-1zM406 90h1v1h-1zM402 86h1v1h-1zM403 94h1v1h-1zM418 85h1v1h-1zM414 86h1v1h-1zM403 93h1v1h-1zM400 94h1v1h-1zM404 87h1v1h-1zM424 93h1v1h-1zM411 84h1v1h-1zM412 83h1v1h-1zM407 92h1v1h-1zM408 91h1v1h-1zM413 89h1v1h-1zM389 93h1v1h-1zM429 85h1v1h-1zM401 89h1v1h-1zM402 83h1v1h-1zM427 89h1v1h-1zM412 84h1v1h-1zM411 88h1v1h-1zM405 95h1v1h-1zM392 95h1v1h-1zM417 104h1v1h-1zM422 78h1v1h-1zM399 88h1v1h-1zM426 86h1v1h-1zM399 100h1v1h-1zM402 91h1v1h-1zM414 80h1v1h-1zM412 96h1v1h-1zM417 83h1v1h-1zM402 91h1v1h-1zM400 97h1v1h-1zM388 92h1v1h-1zM396 91h1v1h-1zM399 95h1v1h-1zM394 93h1v1h-1zM414 90h1v1h-1zM401 87h1v1h-1zM387 95h1v1h-1zM438 76h1v1h-1zM399 84h1v1h-1zM398 103h1v1h-1zM426 88h1v1h-1zM425 91h1v1h-1zM396 88h1v1h-1zM393 94h1v1h-1zM399 92h1v1h-1zM422 78h1v1h-1zM408 93h1v1h-1zM400 88h1v1h-1zM410 89h1v1h-1zM422 78h1v1h-1zM396 99h1v1h-1zM407 95h1v1h-1zM395 96h1v1h-1zM434 78h1v1h-1zM431 81h1v1h-1zM423 93h1v1h-1zM409 88h1v1h-1zM419 89h1v1h-1zM386 97h1v1h-1zM412 83h1v1h-1zM397 102h1v1h-1zM403 93h1v1h-1zM406 90h1v1h-1zM415 79h1v1h-1zM419 89h1v1h-1zM414 91h1v1h-1zM400 93h1v1h-1zM417 83h1v1h-1zM410 92h1v1h-1zM426 92h1v1h-1zM400 94h1v1h-1zM381 107h1v1h-1zM406 96h1v1h-1zM437 87h1v1h-1zM418 95h1v1h-1zM407 87h1v1h-1zM420 84h1v1h-1zM417 91h1v1h-1zM417 91h1v1h-1zM407 99h1v1h-1zM413 95h1v1h-1zM413 90h1v1h-1zM403 93h1v1h-1zM397 92h1v1h-1zM412 87h1v1h-1zM421 84h1v1h-1zM419 92h1v1h-1zM416 86h1v1h-1zM416 86h1v1h-1zM441 82h1v1h-1zM413 86h1v1h-1zM422 85h1v1h-1zM412 91h1v1h-1zM413 87h1v1h-1zM423 87h1v1h-1zM431 86h1v1h-1zM418 101h1v1h-1zM412 90h1v1h-1zM397 94h1v1h-1zM421 77h1v1h-1zM409 94h1v1h-1zM391 97h1v1h-1zM408 89h1v1h-1zM391 97h1v1h-1zM401 100h1v1h-1zM410 88h1v1h-1zM399 88h1v1h-1zM425 94h1v1h-1zM394 96h1v1h-1zM414 88h1v1h-1zM421 101h1v1h-1zM428 87h1v1h-1zM421 86h1v1h-1zM414 91h1v1h-1zM411 88h1v1h-1zM410 92h1v1h-1zM424 88h1v1h-1zM402 89h1v1h-1zM416 87h1v1h-1zM410 92h1v1h-1zM414 91h1v1h-1zM409 94h1v1h-1zM437 88h1v1h-1zM404 94h1v1h-1zM414 92h1v1h-1zM413 87h1v1h-1zM417 87h1v1h-1zM418 94h1v1h-1zM423 89h1v1h-1zM398 112h1v1h-1zM408 80h1v1h-1zM399 102h1v1h-1zM411 80h1v1h-1zM398 96h1v1h-1zM402 102h1v1h-1zM412 98h1v1h-1zM426 81h1v1h-1zM416 81h1v1h-1zM412 81h1v1h-1zM428 89h1v1h-1zM399 91h1v1h-1zM387 96h1v1h-1zM406 92h1v1h-1zM408 93h1v1h-1zM426 89h1v1h-1zM436 84h1v1h-1zM393 85h1v1h-1zM442 90h1v1h-1zM422 94h1v1h-1zM414 85h1v1h-1zM439 81h1v1h-1zM411 87h1v1h-1zM405 89h1v1h-1zM412 89h1v1h-1zM394 92h1v1h-1zM415 82h1v1h-1zM411 95h1v1h-1zM414 86h1v1h-1zM417 96h1v1h-1zM398 92h1v1h-1zM425 82h1v1h-1zM400 95h1v1h-1zM422 92h1v1h-1zM391 90h1v1h-1zM415 87h1v1h-1zM403 100h1v1h-1zM410 84h1v1h-1zM402 87h1v1h-1zM386 97h1v1h-1zM396 87h1v1h-1zM416 79h1v1h-1zM394 96h1v1h-1zM387 100h1v1h-1zM401 96h1v1h-1zM409 92h1v1h-1zM402 85h1v1h-1zM402 96h1v1h-1zM422 93h1v1h-1zM421 83h1v1h-1zM421 92h1v1h-1zM399 91h1v1h-1zM412 90h1v1h-1zM409 92h1v1h-1zM392 86h1v1h-1zM423 95h1v1h-1zM411 85h1v1h-1zM405 91h1v1h-1zM426 83h1v1h-1zM420 90h1v1h-1zM421 89h1v1h-1zM425 86h1v1h-1zM421 95h1v1h-1zM396 95h1v1h-1zM406 89h1v1h-1zM418 71h1v1h-1zM401 91h1v1h-1zM411 88h1v1h-1zM414 84h1v1h-1zM426 81h1v1h-1zM427 89h1v1h-1zM423 92h1v1h-1zM411 100h1v1h-1zM423 93h1v1h-1zM416 84h1v1h-1zM409 92h1v1h-1zM425 78h1v1h-1zM417 92h1v1h-1zM402 94h1v1h-1zM425 83h1v1h-1zM408 90h1v1h-1zM417 87h1v1h-1zM392 91h1v1h-1zM412 97h1v1h-1zM404 109h1v1h-1zM401 97h1v1h-1zM390 101h1v1h-1zM436 84h1v1h-1zM408 88h1v1h-1zM417 101h1v1h-1zM423 84h1v1h-1zM410 92h1v1h-1zM416 87h1v1h-1zM396 97h1v1h-1zM413 89h1v1h-1zM407 94h1v1h-1zM415 81h1v1h-1zM413 89h1v1h-1zM397 101h1v1h-1zM388 90h1v1h-1zM398 89h1v1h-1zM421 95h1v1h-1zM416 91h1v1h-1zM417 94h1v1h-1zM380 99h1v1h-1zM402 85h1v1h-1zM405 83h1v1h-1zM404 94h1v1h-1zM416 95h1v1h-1zM407 82h1v1h-1zM395 87h1v1h-1zM400 89h1v1h-1zM412 89h1v1h-1zM410 82h1v1h-1zM413 102h1v1h-1zM438 86h1v1h-1zM407 89h1v1h-1zM411 87h1v1h-1zM402 105h1v1h-1zM410 103h1v1h-1zM416 85h1v1h-1zM418 90h1v1h-1zM411 97h1v1h-1zM413 82h1v1h-1zM410 86h1v1h-1zM391 103h1v1h-1zM372 96h1v1h-1zM437 80h1v1h-1zM418 80h1v1h-1zM409 86h1v1h-1zM391 99h1v1h-1zM395 89h1v1h-1zM424 78h1v1h-1zM377 95h1v1h-1zM409 100h1v1h-1zM421 88h1v1h-1zM411 86h1v1h-1zM419 88h1v1h-1zM410 92h1v1h-1zM438 83h1v1h-1zM395 95h1v1h-1zM413 88h1v1h-1zM428 90h1v1h-1zM408 83h1v1h-1zM424 92h1v1h-1zM404 89h1v1h-1zM429 92h1v1h-1zM428 82h1v1h-1zM429 87h1v1h-1zM405 90h1v1h-1zM399 99h1v1h-1zM399 99h1v1h-1zM410 96h1v1h-1zM418 92h1v1h-1zM414 79h1v1h-1zM413 90h1v1h-1zM409 84h1v1h-1zM412 92h1v1h-1zM410 90h1v1h-1zM406 83h1v1h-1zM416 82h1v1h-1zM410 83h1v1h-1zM412 84h1v1h-1zM402 91h1v1h-1zM416 92h1v1h-1zM411 97h1v1h-1zM385 91h1v1h-1zM415 85h1v1h-1zM410 99h1v1h-1zM423 91h1v1h-1zM409 91h1v1h-1zM412 83h1v1h-1zM411 90h1v1h-1zM404 88h1v1h-1zM393 106h1v1h-1zM432 84h1v1h-1zM393 96h1v1h-1zM405 85h1v1h-1zM417 82h1v1h-1zM414 85h1v1h-1zM416 84h1v1h-1zM419 86h1v1h-1zM426 88h1v1h-1zM414 90h1v1h-1zM446 86h1v1h-1zM397 85h1v1h-1zM413 90h1v1h-1zM407 92h1v1h-1zM406 100h1v1h-1zM414 87h1v1h-1zM428 87h1v1h-1zM401 87h1v1h-1zM403 94h1v1h-1zM419 89h1v1h-1zM416 84h1v1h-1zM433 81h1v1h-1zM422 86h1v1h-1zM414 92h1v1h-1zM405 84h1v1h-1zM414 94h1v1h-1zM408 88h1v1h-1zM397 104h1v1h-1zM413 97h1v1h-1zM408 88h1v1h-1zM407 87h1v1h-1zM409 104h1v1h-1zM431 88h1v1h-1zM419 90h1v1h-1zM421 84h1v1h-1zM403 91h1v1h-1zM400 97h1v1h-1zM408 94h1v1h-1zM412 84h1v1h-1zM408 97h1v1h-1zM409 92h1v1h-1zM420 81h1v1h-1zM415 94h1v1h-1zM399 92h1v1h-1zM407 95h1v1h-1zM402 89h1v1h-1zM413 91h1v1h-1zM409 92h1v1h-1zM416 79h1v1h-1zM411 90h1v1h-1zM396 79h1v1h-1zM403 91h1v1h-1zM413 93h1v1h-1zM417 91h1v1h-1zM422 93h1v1h-1zM407 84h1v1h-1zM397 102h1v1h-1zM429 94h1v1h-1zM412 82h1v1h-1zM414 84h1v1h-1zM413 85h1v1h-1zM398 93h1v1h-1zM407 91h1v1h-1zM423 89h1v1h-1zM411 88h1v1h-1zM373 94h1v1h-1zM409 95h1v1h-1zM414 87h1v1h-1zM427 92h1v1h-1zM420 90h1v1h-1zM439 80h1v1h-1zM429 91h1v1h-1zM427 90h1v1h-1zM421 84h1v1h-1zM420 84h1v1h-1zM418 91h1v1h-1zM404 90h1v1h-1zM420 97h1v1h-1zM416 90h1v1h-1zM405 92h1v1h-1zM410 92h1v1h-1zM406 86h1v1h-1zM413 88h1v1h-1zM405 87h1v1h-1zM408 94h1v1h-1zM390 92h1v1h-1zM405 90h1v1h-1zM414 80h1v1h-1zM410 86h1v1h-1zM410 94h1v1h-1zM411 90h1v1h-1zM428 82h1v1h-1zM400 101h1v1h-1zM421 86h1v1h-1zM392 92h1v1h-1zM407 97h1v1h-1zM410 80h1v1h-1zM401 95h1v1h-1zM411 83h1v1h-1zM418 83h1v1h-1zM396 90h1v1h-1zM410 90h1v1h-1zM406 91h1v1h-1zM388 97h1v1h-1zM409 91h1v1h-1zM403 99h1v1h-1zM428 94h1v1h-1zM401 96h1v1h-1zM431 88h1v1h-1zM404 89h1v1h-1zM431 78h1v1h-1zM418 91h1v1h-1zM416 88h1v1h-1zM421 92h1v1h-1zM418 77h1v1h-1zM431 99h1v1h-1zM429 77h1v1h-1zM407 91h1v1h-1zM397 99h1v1h-1zM405 88h1v1h-1zM413 81h1v1h-1zM407 91h1v1h-1zM403 93h1v1h-1zM407 89h1v1h-1zM417 95h1v1h-1zM392 102h1v1h-1zM419 87h1v1h-1zM393 93h1v1h-1zM408 89h1v1h-1zM402 89h1v1h-1zM408 98h1v1h-1zM399 94h1v1h-1zM397 91h1v1h-1zM407 89h1v1h-1zM399 96h1v1h-1zM438 80h1v1h-1zM406 92h1v1h-1zM403 91h1v1h-1zM406 98h1v1h-1zM400 99h1v1h-1zM407 89h1v1h-1zM415 92h1v1h-1zM392 92h1v1h-1zM412 94h1v1h-1zM397 95h1v1h-1zM411 93h1v1h-1zM414 88h1v1h-1zM416 90h1v1h-1zM416 91h1v1h-1zM400 84h1v1h-1zM419 82h1v1h-1zM404 85h1v1h-1zM417 97h1v1h-1zM419 89h1v1h-1zM407 92h1v1h-1zM396 94h1v1h-1zM417 85h1v1h-1zM396 89h1v1h-1zM401 97h1v1h-1zM397 91h1v1h-1zM422 95h1v1h-1zM409 91h1v1h-1zM384 97h1v1h-1zM419 86h1v1h-1zM434 83h1v1h-1zM431 84h1v1h-1zM406 99h1v1h-1zM415 102h1v1h-1zM415 82h1v1h-1zM421 88h1v1h-1zM412 93h1v1h-1zM396 88h1v1h-1zM418 84h1v1h-1zM417 85h1v1h-1zM407 94h1v1h-1zM413 88h1v1h-1zM410 89h1v1h-1zM417 88h1v1h-1zM420 88h1v1h-1zM420 100h1v1h-1zM409 91h1v1h-1zM396 98h1v1h-1zM417 85h1v1h-1zM427 87h1v1h-1zM433 82h1v1h-1zM410 89h1v1h-1zM409 85h1v1h-1zM426 81h1v1h-1zM428 88h1v1h-1zM415 93h1v1h-1zM419 90h1v1h-1zM401 88h1v1h-1zM418 89h1v1h-1zM410 95h1v1h-1zM409 90h1v1h-1zM405 93h1v1h-1zM388 102h1v1h-1zM400 90h1v1h-1zM416 94h1v1h-1zM409 87h1v1h-1zM407 94h1v1h-1zM415 86h1v1h-1zM419 89h1v1h-1zM422 95h1v1h-1zM400 89h1v1h-1zM410 86h1v1h-1zM406 89h1v1h-1zM401 94h1v1h-1zM397 109h1v1h-1zM408 87h1v1h-1zM434 80h1v1h-1zM407 82h1v1h-1zM407 87h1v1h-1zM406 91h1v1h-1zM431 79h1v1h-1zM398 89h1v1h-1zM402 93h1v1h-1zM408 86h1v1h-1zM411 96h1v1h-1zM425 92h1v1h-1zM393 89h1v1h-1zM410 88h1v1h-1zM429 85h1v1h-1zM406 95h1v1h-1zM406 81h1v1h-1zM400 92h1v1h-1zM450 93h1v1h-1zM413 102h1v1h-1zM417 92h1v1h-1zM410 87h1v1h-1zM396 115h1v1h-1zM429 86h1v1h-1zM418 94h1v1h-1zM420 105h1v1h-1zM427 93h1v1h-1zM432 104h1v1h-1zM376 99h1v1h-1zM425 103h1v1h-1zM400 89h1v1h-1zM413 83h1v1h-1zM398 93h1v1h-1zM399 104h1v1h-1zM429 86h1v1h-1zM410 85h1v1h-1zM413 111h1v1h-1zM406 91h1v1h-1zM415 97h1v1h-1zM415 101h1v1h-1zM370 108h1v1h-1zM400 107h1v1h-1zM412 105h1v1h-1zM428 93h1v1h-1zM442 100h1v1h-1zM396 98h1v1h-1zM446 77h1v1h-1zM417 100h1v1h-1zM421 86h1v1h-1zM406 105h1v1h-1zM403 101h1v1h-1zM439 85h1v1h-1zM413 105h1v1h-1zM415 104h1v1h-1zM445 85h1v1h-1zM388 108h1v1h-1zM413 104h1v1h-1zM413 93h1v1h-1zM444 77h1v1h-1zM416 105h1v1h-1zM426 79h1v1h-1zM434 86h1v1h-1zM429 87h1v1h-1zM405 110h1v1h-1zM363 104h1v1h-1zM391 107h1v1h-1zM416 88h1v1h-1zM431 97h1v1h-1zM376 117h1v1h-1zM387 121h1v1h-1zM415 99h1v1h-1zM427 98h1v1h-1zM433 87h1v1h-1zM428 88h1v1h-1zM413 101h1v1h-1zM449 113h1v1h-1zM423 104h1v1h-1zM409 91h1v1h-1zM419 100h1v1h-1zM431 87h1v1h-1zM419 95h1v1h-1zM412 83h1v1h-1zM390 108h1v1h-1zM420 80h1v1h-1zM418 101h1v1h-1zM450 90h1v1h-1zM418 106h1v1h-1zM421 119h1v1h-1zM400 86h1v1h-1zM425 82h1v1h-1zM409 89h1v1h-1zM402 96h1v1h-1zM448 97h1v1h-1zM447 84h1v1h-1zM406 95h1v1h-1zM394 93h1v1h-1zM435 85h1v1h-1zM400 98h1v1h-1zM409 85h1v1h-1zM433 91h1v1h-1zM394 111h1v1h-1zM417 101h1v1h-1zM432 79h1v1h-1zM427 103h1v1h-1zM409 108h1v1h-1zM426 82h1v1h-1zM408 85h1v1h-1zM405 102h1v1h-1zM408 89h1v1h-1zM437 77h1v1h-1zM405 111h1v1h-1zM420 106h1v1h-1zM403 109h1v1h-1zM443 103h1v1h-1zM416 107h1v1h-1zM428 81h1v1h-1zM430 105h1v1h-1zM406 102h1v1h-1zM430 98h1v1h-1zM438 107h1v1h-1zM397 109h1v1h-1zM434 108h1v1h-1zM410 96h1v1h-1zM426 87h1v1h-1zM392 104h1v1h-1zM419 79h1v1h-1zM405 100h1v1h-1zM430 92h1v1h-1zM414 93h1v1h-1zM415 106h1v1h-1zM395 94h1v1h-1zM422 110h1v1h-1zM397 96h1v1h-1zM425 99h1v1h-1zM411 84h1v1h-1zM408 94h1v1h-1zM428 92h1v1h-1zM395 111h1v1h-1zM439 108h1v1h-1zM383 119h1v1h-1zM441 74h1v1h-1zM420 97h1v1h-1zM411 98h1v1h-1zM401 96h1v1h-1zM428 100h1v1h-1zM418 114h1v1h-1zM412 94h1v1h-1zM439 102h1v1h-1zM413 113h1v1h-1zM409 89h1v1h-1zM430 112h1v1h-1zM441 107h1v1h-1zM414 101h1v1h-1zM425 113h1v1h-1zM418 100h1v1h-1zM433 104h1v1h-1zM446 95h1v1h-1zM397 95h1v1h-1zM415 101h1v1h-1zM415 96h1v1h-1zM426 89h1v1h-1zM440 78h1v1h-1zM414 90h1v1h-1zM416 85h1v1h-1zM441 102h1v1h-1zM402 103h1v1h-1zM406 94h1v1h-1zM412 86h1v1h-1zM423 103h1v1h-1zM404 93h1v1h-1zM452 99h1v1h-1zM403 100h1v1h-1zM414 102h1v1h-1zM436 90h1v1h-1zM432 99h1v1h-1zM419 107h1v1h-1zM422 91h1v1h-1zM431 93h1v1h-1zM421 114h1v1h-1zM426 88h1v1h-1zM405 120h1v1h-1zM416 93h1v1h-1zM384 102h1v1h-1zM395 87h1v1h-1zM393 96h1v1h-1zM434 74h1v1h-1zM406 95h1v1h-1zM424 102h1v1h-1zM399 103h1v1h-1zM410 93h1v1h-1zM408 90h1v1h-1zM398 96h1v1h-1zM427 79h1v1h-1zM382 96h1v1h-1zM433 113h1v1h-1zM465 84h1v1h-1zM398 94h1v1h-1zM418 104h1v1h-1zM413 92h1v1h-1zM384 107h1v1h-1zM423 82h1v1h-1zM402 86h1v1h-1zM386 122h1v1h-1zM384 100h1v1h-1zM405 84h1v1h-1zM435 106h1v1h-1zM411 110h1v1h-1zM395 110h1v1h-1zM404 117h1v1h-1zM416 94h1v1h-1zM371 115h1v1h-1zM428 102h1v1h-1zM421 93h1v1h-1zM371 117h1v1h-1zM436 89h1v1h-1zM386 112h1v1h-1zM411 101h1v1h-1zM385 109h1v1h-1zM376 96h1v1h-1zM391 97h1v1h-1zM389 89h1v1h-1zM414 107h1v1h-1zM404 98h1v1h-1zM404 98h1v1h-1zM409 113h1v1h-1zM413 106h1v1h-1zM398 101h1v1h-1zM416 105h1v1h-1zM395 102h1v1h-1zM447 84h1v1h-1zM393 113h1v1h-1zM426 88h1v1h-1zM400 102h1v1h-1zM424 105h1v1h-1zM426 101h1v1h-1zM428 87h1v1h-1zM445 103h1v1h-1zM402 114h1v1h-1zM422 95h1v1h-1zM400 105h1v1h-1zM393 116h1v1h-1zM445 90h1v1h-1zM414 97h1v1h-1zM428 91h1v1h-1zM437 84h1v1h-1zM415 91h1v1h-1zM408 104h1v1h-1zM413 95h1v1h-1zM426 80h1v1h-1zM415 98h1v1h-1zM433 106h1v1h-1zM377 89h1v1h-1zM398 95h1v1h-1zM440 98h1v1h-1zM420 97h1v1h-1zM419 97h1v1h-1zM416 96h1v1h-1zM434 92h1v1h-1zM411 89h1v1h-1zM383 121h1v1h-1zM416 87h1v1h-1zM447 99h1v1h-1zM434 92h1v1h-1zM406 101h1v1h-1zM412 93h1v1h-1zM415 93h1v1h-1zM433 90h1v1h-1zM405 115h1v1h-1zM397 99h1v1h-1zM405 107h1v1h-1zM419 101h1v1h-1zM421 100h1v1h-1zM407 98h1v1h-1zM431 101h1v1h-1zM396 106h1v1h-1zM414 100h1v1h-1zM401 98h1v1h-1zM440 98h1v1h-1zM411 107h1v1h-1zM395 100h1v1h-1zM415 96h1v1h-1zM397 107h1v1h-1zM423 85h1v1h-1zM433 100h1v1h-1zM436 99h1v1h-1zM398 113h1v1h-1zM415 108h1v1h-1zM413 105h1v1h-1zM437 87h1v1h-1zM447 100h1v1h-1zM393 117h1v1h-1zM440 99h1v1h-1zM429 93h1v1h-1zM440 120h1v1h-1zM446 88h1v1h-1zM420 86h1v1h-1zM419 107h1v1h-1zM422 81h1v1h-1zM415 119h1v1h-1zM427 105h1v1h-1zM382 123h1v1h-1zM450 98h1v1h-1zM406 105h1v1h-1zM421 83h1v1h-1zM419 91h1v1h-1zM419 103h1v1h-1zM416 96h1v1h-1zM417 102h1v1h-1zM383 102h1v1h-1zM402 94h1v1h-1zM438 94h1v1h-1zM398 112h1v1h-1zM395 105h1v1h-1zM451 77h1v1h-1zM432 76h1v1h-1zM450 108h1v1h-1zM411 88h1v1h-1zM417 89h1v1h-1zM427 87h1v1h-1zM428 103h1v1h-1zM411 92h1v1h-1zM390 112h1v1h-1zM402 106h1v1h-1zM384 97h1v1h-1zM444 90h1v1h-1zM404 89h1v1h-1zM411 98h1v1h-1zM422 104h1v1h-1zM414 96h1v1h-1zM422 87h1v1h-1zM402 98h1v1h-1zM386 106h1v1h-1zM448 91h1v1h-1zM400 84h1v1h-1zM401 108h1v1h-1zM404 100h1v1h-1zM415 98h1v1h-1zM429 96h1v1h-1zM394 103h1v1h-1zM418 92h1v1h-1zM402 103h1v1h-1zM438 97h1v1h-1zM393 109h1v1h-1zM416 98h1v1h-1zM424 84h1v1h-1zM390 109h1v1h-1zM413 87h1v1h-1zM415 91h1v1h-1zM400 104h1v1h-1zM410 101h1v1h-1zM436 103h1v1h-1zM421 105h1v1h-1zM408 105h1v1h-1zM409 96h1v1h-1zM422 95h1v1h-1zM436 88h1v1h-1zM434 110h1v1h-1zM429 98h1v1h-1zM441 83h1v1h-1zM383 100h1v1h-1zM391 119h1v1h-1zM370 104h1v1h-1zM430 97h1v1h-1zM373 114h1v1h-1zM416 109h1v1h-1zM425 86h1v1h-1zM390 111h1v1h-1zM402 104h1v1h-1zM411 107h1v1h-1zM431 107h1v1h-1zM386 108h1v1h-1zM419 94h1v1h-1zM429 103h1v1h-1zM412 84h1v1h-1zM417 99h1v1h-1zM433 82h1v1h-1zM414 86h1v1h-1zM408 84h1v1h-1zM403 85h1v1h-1zM428 102h1v1h-1zM411 108h1v1h-1zM426 96h1v1h-1zM419 108h1v1h-1zM434 92h1v1h-1zM398 99h1v1h-1zM412 88h1v1h-1zM422 104h1v1h-1zM424 104h1v1h-1zM438 104h1v1h-1zM418 89h1v1h-1zM429 91h1v1h-1zM445 74h1v1h-1zM432 104h1v1h-1zM397 111h1v1h-1zM389 112h1v1h-1zM426 95h1v1h-1zM406 99h1v1h-1zM418 93h1v1h-1zM414 110h1v1h-1zM435 85h1v1h-1zM438 100h1v1h-1zM394 108h1v1h-1zM416 88h1v1h-1zM404 87h1v1h-1zM388 99h1v1h-1zM425 94h1v1h-1zM407 87h1v1h-1zM424 102h1v1h-1zM439 96h1v1h-1zM428 76h1v1h-1zM395 114h1v1h-1zM441 105h1v1h-1zM407 97h1v1h-1zM416 103h1v1h-1zM406 98h1v1h-1zM413 92h1v1h-1zM460 94h1v1h-1zM406 95h1v1h-1zM411 108h1v1h-1zM423 114h1v1h-1zM418 96h1v1h-1zM377 97h1v1h-1zM406 111h1v1h-1zM410 100h1v1h-1zM395 105h1v1h-1zM394 97h1v1h-1zM411 116h1v1h-1zM406 85h1v1h-1zM385 113h1v1h-1zM401 95h1v1h-1zM424 110h1v1h-1zM411 99h1v1h-1zM391 115h1v1h-1zM407 101h1v1h-1zM409 89h1v1h-1zM426 97h1v1h-1zM401 91h1v1h-1zM416 95h1v1h-1zM428 104h1v1h-1zM393 90h1v1h-1zM410 97h1v1h-1zM425 91h1v1h-1zM407 114h1v1h-1zM388 109h1v1h-1zM397 93h1v1h-1zM423 105h1v1h-1zM435 96h1v1h-1zM407 112h1v1h-1zM404 92h1v1h-1zM406 89h1v1h-1zM412 106h1v1h-1zM394 100h1v1h-1zM415 92h1v1h-1zM417 104h1v1h-1zM411 92h1v1h-1zM399 117h1v1h-1zM401 97h1v1h-1zM400 102h1v1h-1zM427 77h1v1h-1zM436 83h1v1h-1zM418 95h1v1h-1zM443 95h1v1h-1zM408 102h1v1h-1zM411 111h1v1h-1zM417 98h1v1h-1zM404 100h1v1h-1zM411 88h1v1h-1zM421 95h1v1h-1zM406 93h1v1h-1zM394 109h1v1h-1zM411 96h1v1h-1zM413 104h1v1h-1zM411 90h1v1h-1zM429 107h1v1h-1zM410 104h1v1h-1zM414 117h1v1h-1zM444 87h1v1h-1zM431 88h1v1h-1zM412 101h1v1h-1zM395 100h1v1h-1zM402 91h1v1h-1zM420 97h1v1h-1zM428 93h1v1h-1zM454 78h1v1h-1zM407 96h1v1h-1zM413 88h1v1h-1zM407 102h1v1h-1zM410 85h1v1h-1zM412 117h1v1h-1zM394 105h1v1h-1zM434 102h1v1h-1zM412 86h1v1h-1zM437 94h1v1h-1zM404 100h1v1h-1zM421 106h1v1h-1zM428 103h1v1h-1zM375 94h1v1h-1zM393 117h1v1h-1zM422 80h1v1h-1zM419 111h1v1h-1zM381 109h1v1h-1zM397 91h1v1h-1zM397 111h1v1h-1zM405 102h1v1h-1zM438 80h1v1h-1zM401 95h1v1h-1zM451 91h1v1h-1zM405 87h1v1h-1zM398 94h1v1h-1zM447 107h1v1h-1zM428 86h1v1h-1zM440 94h1v1h-1zM450 91h1v1h-1zM436 101h1v1h-1zM438 100h1v1h-1zM398 99h1v1h-1zM426 107h1v1h-1zM415 90h1v1h-1zM433 112h1v1h-1zM406 103h1v1h-1zM430 80h1v1h-1zM452 92h1v1h-1zM431 113h1v1h-1zM427 87h1v1h-1zM425 101h1v1h-1zM428 84h1v1h-1zM416 91h1v1h-1zM406 102h1v1h-1zM419 102h1v1h-1zM417 101h1v1h-1zM388 109h1v1h-1zM426 120h1v1h-1zM411 88h1v1h-1zM412 79h1v1h-1zM406 107h1v1h-1zM424 97h1v1h-1zM421 81h1v1h-1zM407 119h1v1h-1zM418 90h1v1h-1zM424 80h1v1h-1zM429 98h1v1h-1zM400 110h1v1h-1zM410 83h1v1h-1zM392 92h1v1h-1zM458 81h1v1h-1zM398 99h1v1h-1zM400 102h1v1h-1zM423 88h1v1h-1zM401 86h1v1h-1zM371 108h1v1h-1zM413 106h1v1h-1zM398 112h1v1h-1zM402 95h1v1h-1zM386 113h1v1h-1zM399 108h1v1h-1zM409 95h1v1h-1zM411 96h1v1h-1zM393 106h1v1h-1zM398 105h1v1h-1zM413 89h1v1h-1zM410 98h1v1h-1zM389 101h1v1h-1zM428 106h1v1h-1zM416 86h1v1h-1zM399 112h1v1h-1zM419 101h1v1h-1zM411 100h1v1h-1zM416 105h1v1h-1zM417 83h1v1h-1zM421 100h1v1h-1zM412 87h1v1h-1zM411 86h1v1h-1zM391 111h1v1h-1zM409 92h1v1h-1zM372 108h1v1h-1zM374 118h1v1h-1zM404 91h1v1h-1zM410 106h1v1h-1zM446 112h1v1h-1zM424 93h1v1h-1zM435 102h1v1h-1zM409 108h1v1h-1zM416 84h1v1h-1zM429 79h1v1h-1zM422 96h1v1h-1zM415 99h1v1h-1zM397 107h1v1h-1zM398 109h1v1h-1zM389 112h1v1h-1zM424 109h1v1h-1zM407 97h1v1h-1zM405 116h1v1h-1zM421 102h1v1h-1zM404 107h1v1h-1zM431 91h1v1h-1zM450 97h1v1h-1zM419 89h1v1h-1zM403 110h1v1h-1zM390 118h1v1h-1zM447 81h1v1h-1zM418 87h1v1h-1zM390 98h1v1h-1zM432 92h1v1h-1zM385 112h1v1h-1zM408 110h1v1h-1zM415 118h1v1h-1zM412 117h1v1h-1zM394 108h1v1h-1zM455 81h1v1h-1zM402 90h1v1h-1zM423 105h1v1h-1zM415 104h1v1h-1zM384 105h1v1h-1zM403 100h1v1h-1zM417 96h1v1h-1zM407 100h1v1h-1zM421 100h1v1h-1zM407 100h1v1h-1zM420 85h1v1h-1zM369 114h1v1h-1zM426 100h1v1h-1zM408 120h1v1h-1zM406 112h1v1h-1zM394 105h1v1h-1zM420 82h1v1h-1zM453 81h1v1h-1zM396 90h1v1h-1zM401 102h1v1h-1zM425 106h1v1h-1zM422 107h1v1h-1zM406 111h1v1h-1zM410 100h1v1h-1zM410 111h1v1h-1zM424 93h1v1h-1zM445 90h1v1h-1zM430 94h1v1h-1zM420 78h1v1h-1zM415 93h1v1h-1zM394 100h1v1h-1zM417 91h1v1h-1zM443 103h1v1h-1zM400 106h1v1h-1zM430 86h1v1h-1zM415 79h1v1h-1zM413 107h1v1h-1zM404 109h1v1h-1zM393 90h1v1h-1zM445 84h1v1h-1zM439 102h1v1h-1zM413 91h1v1h-1zM418 101h1v1h-1zM378 101h1v1h-1zM384 116h1v1h-1zM399 91h1v1h-1zM406 86h1v1h-1zM388 92h1v1h-1zM427 90h1v1h-1zM418 81h1v1h-1zM416 97h1v1h-1zM384 114h1v1h-1zM414 115h1v1h-1zM412 95h1v1h-1zM376 117h1v1h-1zM447 85h1v1h-1zM426 100h1v1h-1zM411 116h1v1h-1zM447 104h1v1h-1zM436 99h1v1h-1zM421 95h1v1h-1zM420 105h1v1h-1zM428 96h1v1h-1zM440 92h1v1h-1zM416 101h1v1h-1zM415 118h1v1h-1zM420 84h1v1h-1zM412 88h1v1h-1zM409 109h1v1h-1zM417 110h1v1h-1zM414 113h1v1h-1zM419 93h1v1h-1zM416 99h1v1h-1zM417 106h1v1h-1zM412 101h1v1h-1zM423 99h1v1h-1zM405 104h1v1h-1zM432 96h1v1h-1zM383 108h1v1h-1zM419 102h1v1h-1zM417 82h1v1h-1zM389 102h1v1h-1zM402 88h1v1h-1zM437 90h1v1h-1zM409 93h1v1h-1zM399 109h1v1h-1zM416 85h1v1h-1zM413 91h1v1h-1zM426 98h1v1h-1zM455 101h1v1h-1zM416 106h1v1h-1zM417 102h1v1h-1zM401 102h1v1h-1zM411 95h1v1h-1zM414 103h1v1h-1zM429 99h1v1h-1zM424 97h1v1h-1zM398 98h1v1h-1zM400 86h1v1h-1zM436 83h1v1h-1zM395 101h1v1h-1zM423 83h1v1h-1zM444 92h1v1h-1zM421 81h1v1h-1zM417 94h1v1h-1zM439 94h1v1h-1zM423 105h1v1h-1zM414 101h1v1h-1zM414 112h1v1h-1zM432 86h1v1h-1zM424 87h1v1h-1zM445 100h1v1h-1zM405 92h1v1h-1zM407 99h1v1h-1zM400 85h1v1h-1zM422 108h1v1h-1zM403 110h1v1h-1zM428 86h1v1h-1zM414 80h1v1h-1zM397 107h1v1h-1zM384 121h1v1h-1zM445 108h1v1h-1zM413 101h1v1h-1zM416 96h1v1h-1zM405 99h1v1h-1zM420 94h1v1h-1zM375 97h1v1h-1zM375 102h1v1h-1zM384 107h1v1h-1zM410 83h1v1h-1zM422 82h1v1h-1zM426 108h1v1h-1zM409 93h1v1h-1zM393 114h1v1h-1zM431 105h1v1h-1zM408 100h1v1h-1zM416 107h1v1h-1zM412 97h1v1h-1zM402 93h1v1h-1zM400 102h1v1h-1zM403 103h1v1h-1zM391 108h1v1h-1zM418 98h1v1h-1zM409 96h1v1h-1zM435 103h1v1h-1zM380 108h1v1h-1zM433 88h1v1h-1zM415 108h1v1h-1zM407 90h1v1h-1zM399 103h1v1h-1zM403 118h1v1h-1zM387 108h1v1h-1zM434 107h1v1h-1zM409 98h1v1h-1zM425 90h1v1h-1zM428 92h1v1h-1zM403 96h1v1h-1zM408 97h1v1h-1zM406 97h1v1h-1zM435 101h1v1h-1zM417 102h1v1h-1zM416 96h1v1h-1zM424 87h1v1h-1zM422 130h1v1h-1zM450 85h1v1h-1zM401 118h1v1h-1zM433 80h1v1h-1zM437 84h1v1h-1zM397 117h1v1h-1zM426 83h1v1h-1zM415 87h1v1h-1zM429 93h1v1h-1zM390 99h1v1h-1zM417 95h1v1h-1zM396 106h1v1h-1zM410 109h1v1h-1zM440 92h1v1h-1zM412 102h1v1h-1zM393 121h1v1h-1zM392 102h1v1h-1zM426 75h1v1h-1zM398 93h1v1h-1zM389 118h1v1h-1zM432 88h1v1h-1zM416 91h1v1h-1zM418 93h1v1h-1zM404 119h1v1h-1zM440 91h1v1h-1zM410 96h1v1h-1zM376 104h1v1h-1zM390 95h1v1h-1zM411 99h1v1h-1zM428 96h1v1h-1zM400 100h1v1h-1zM406 113h1v1h-1zM450 76h1v1h-1zM409 80h1v1h-1zM402 97h1v1h-1zM415 102h1v1h-1zM423 95h1v1h-1zM428 85h1v1h-1zM402 100h1v1h-1zM429 86h1v1h-1zM406 93h1v1h-1zM419 98h1v1h-1zM401 106h1v1h-1zM397 97h1v1h-1zM390 118h1v1h-1zM417 97h1v1h-1zM409 102h1v1h-1zM407 96h1v1h-1zM394 109h1v1h-1zM394 110h1v1h-1zM404 109h1v1h-1zM420 88h1v1h-1zM421 103h1v1h-1zM400 98h1v1h-1zM419 98h1v1h-1zM448 96h1v1h-1zM420 113h1v1h-1zM449 83h1v1h-1zM418 86h1v1h-1zM438 93h1v1h-1zM408 114h1v1h-1zM434 89h1v1h-1zM412 80h1v1h-1zM412 115h1v1h-1zM381 122h1v1h-1zM392 118h1v1h-1zM432 84h1v1h-1zM427 109h1v1h-1zM441 103h1v1h-1zM421 110h1v1h-1zM417 95h1v1h-1zM407 115h1v1h-1zM406 105h1v1h-1zM404 98h1v1h-1zM397 96h1v1h-1zM397 107h1v1h-1zM432 79h1v1h-1zM423 102h1v1h-1zM402 104h1v1h-1zM401 87h1v1h-1zM433 98h1v1h-1zM424 108h1v1h-1zM418 100h1v1h-1zM387 94h1v1h-1zM404 96h1v1h-1zM396 114h1v1h-1zM375 98h1v1h-1zM429 90h1v1h-1zM411 112h1v1h-1zM405 99h1v1h-1zM394 99h1v1h-1zM430 102h1v1h-1zM425 99h1v1h-1zM426 81h1v1h-1zM386 91h1v1h-1zM416 96h1v1h-1zM412 80h1v1h-1zM440 89h1v1h-1zM417 108h1v1h-1zM412 98h1v1h-1zM407 105h1v1h-1zM438 85h1v1h-1zM427 99h1v1h-1zM421 102h1v1h-1zM420 108h1v1h-1zM437 120h1v1h-1zM406 105h1v1h-1zM394 96h1v1h-1zM376 100h1v1h-1zM431 80h1v1h-1zM425 103h1v1h-1zM426 99h1v1h-1zM416 103h1v1h-1zM444 91h1v1h-1zM401 120h1v1h-1zM439 102h1v1h-1zM401 114h1v1h-1zM403 95h1v1h-1zM390 103h1v1h-1zM411 86h1v1h-1zM406 95h1v1h-1zM421 97h1v1h-1zM399 91h1v1h-1zM386 101h1v1h-1zM430 115h1v1h-1zM436 90h1v1h-1zM422 80h1v1h-1zM408 87h1v1h-1zM420 96h1v1h-1zM385 117h1v1h-1zM407 100h1v1h-1zM437 101h1v1h-1zM423 99h1v1h-1zM394 93h1v1h-1zM432 104h1v1h-1zM409 96h1v1h-1zM432 113h1v1h-1zM386 102h1v1h-1zM403 101h1v1h-1zM417 92h1v1h-1zM418 95h1v1h-1zM425 100h1v1h-1zM412 97h1v1h-1zM413 112h1v1h-1zM423 100h1v1h-1zM434 109h1v1h-1zM386 109h1v1h-1zM411 113h1v1h-1zM413 112h1v1h-1zM416 97h1v1h-1zM439 118h1v1h-1zM425 101h1v1h-1zM381 107h1v1h-1zM399 103h1v1h-1zM403 101h1v1h-1zM409 104h1v1h-1zM399 92h1v1h-1zM404 103h1v1h-1zM405 95h1v1h-1zM414 117h1v1h-1zM382 117h1v1h-1zM413 125h1v1h-1zM424 101h1v1h-1zM438 113h1v1h-1zM417 105h1v1h-1zM396 95h1v1h-1zM417 99h1v1h-1zM430 109h1v1h-1zM417 103h1v1h-1zM393 102h1v1h-1zM412 100h1v1h-1zM410 93h1v1h-1zM386 101h1v1h-1zM387 93h1v1h-1zM438 103h1v1h-1zM377 123h1v1h-1zM416 97h1v1h-1zM405 88h1v1h-1zM438 89h1v1h-1zM431 115h1v1h-1zM394 92h1v1h-1zM434 87h1v1h-1zM402 98h1v1h-1zM452 95h1v1h-1zM439 78h1v1h-1zM413 102h1v1h-1zM425 87h1v1h-1zM416 95h1v1h-1zM393 93h1v1h-1zM434 98h1v1h-1zM420 92h1v1h-1zM427 89h1v1h-1zM436 104h1v1h-1zM440 94h1v1h-1zM439 116h1v1h-1zM413 104h1v1h-1zM415 100h1v1h-1zM421 98h1v1h-1zM420 126h1v1h-1zM413 113h1v1h-1zM446 86h1v1h-1zM423 100h1v1h-1zM446 83h1v1h-1zM402 110h1v1h-1zM411 95h1v1h-1zM404 97h1v1h-1zM408 106h1v1h-1zM413 114h1v1h-1zM414 108h1v1h-1zM408 109h1v1h-1zM446 89h1v1h-1zM400 102h1v1h-1zM403 100h1v1h-1zM429 100h1v1h-1zM429 113h1v1h-1zM405 110h1v1h-1zM425 77h1v1h-1zM388 108h1v1h-1zM405 100h1v1h-1zM447 96h1v1h-1zM367 114h1v1h-1zM404 82h1v1h-1zM429 85h1v1h-1zM410 97h1v1h-1zM397 103h1v1h-1zM376 109h1v1h-1zM393 117h1v1h-1zM414 98h1v1h-1zM402 96h1v1h-1zM413 98h1v1h-1zM411 100h1v1h-1zM422 107h1v1h-1zM381 100h1v1h-1zM416 127h1v1h-1zM410 108h1v1h-1zM398 105h1v1h-1zM382 135h1v1h-1zM421 84h1v1h-1zM426 87h1v1h-1zM455 81h1v1h-1zM428 99h1v1h-1zM442 85h1v1h-1zM427 103h1v1h-1zM406 98h1v1h-1zM427 109h1v1h-1zM394 110h1v1h-1zM413 82h1v1h-1zM412 99h1v1h-1zM391 94h1v1h-1zM435 91h1v1h-1zM434 92h1v1h-1zM429 118h1v1h-1zM427 92h1v1h-1zM438 74h1v1h-1zM412 101h1v1h-1zM386 96h1v1h-1zM402 122h1v1h-1zM428 102h1v1h-1zM423 113h1v1h-1zM386 104h1v1h-1zM434 81h1v1h-1zM418 100h1v1h-1zM438 76h1v1h-1zM431 83h1v1h-1zM404 94h1v1h-1zM415 97h1v1h-1zM396 88h1v1h-1zM392 84h1v1h-1zM413 114h1v1h-1zM421 91h1v1h-1zM438 89h1v1h-1zM400 110h1v1h-1zM428 99h1v1h-1zM412 92h1v1h-1zM408 96h1v1h-1zM439 108h1v1h-1zM411 113h1v1h-1zM441 98h1v1h-1zM413 117h1v1h-1zM392 86h1v1h-1zM428 96h1v1h-1zM387 105h1v1h-1zM412 103h1v1h-1zM416 105h1v1h-1zM410 103h1v1h-1zM373 93h1v1h-1zM389 105h1v1h-1zM424 98h1v1h-1zM423 93h1v1h-1zM397 107h1v1h-1zM421 102h1v1h-1zM422 111h1v1h-1zM433 95h1v1h-1zM441 92h1v1h-1zM410 103h1v1h-1zM443 98h1v1h-1zM431 93h1v1h-1zM395 102h1v1h-1zM413 113h1v1h-1zM427 76h1v1h-1zM408 109h1v1h-1zM427 101h1v1h-1zM424 99h1v1h-1zM396 108h1v1h-1zM395 95h1v1h-1zM421 94h1v1h-1zM393 95h1v1h-1zM422 109h1v1h-1zM433 100h1v1h-1zM415 101h1v1h-1zM367 118h1v1h-1zM435 91h1v1h-1zM431 81h1v1h-1zM445 107h1v1h-1zM432 100h1v1h-1zM384 107h1v1h-1zM442 97h1v1h-1zM425 109h1v1h-1zM435 105h1v1h-1zM414 106h1v1h-1zM413 108h1v1h-1zM409 98h1v1h-1zM447 103h1v1h-1zM422 107h1v1h-1zM414 109h1v1h-1zM387 94h1v1h-1zM425 103h1v1h-1zM417 105h1v1h-1zM420 106h1v1h-1zM421 77h1v1h-1zM415 102h1v1h-1zM415 89h1v1h-1zM417 102h1v1h-1zM427 94h1v1h-1zM430 103h1v1h-1zM415 93h1v1h-1zM396 94h1v1h-1zM431 99h1v1h-1zM430 91h1v1h-1zM391 94h1v1h-1zM417 132h1v1h-1zM374 108h1v1h-1zM413 97h1v1h-1zM398 93h1v1h-1zM401 101h1v1h-1zM434 96h1v1h-1zM397 113h1v1h-1zM395 97h1v1h-1zM410 105h1v1h-1zM429 106h1v1h-1zM424 90h1v1h-1zM404 101h1v1h-1zM403 83h1v1h-1zM413 90h1v1h-1zM403 88h1v1h-1zM401 110h1v1h-1zM394 103h1v1h-1zM432 110h1v1h-1zM411 102h1v1h-1zM427 100h1v1h-1zM401 105h1v1h-1zM411 88h1v1h-1zM425 113h1v1h-1zM421 96h1v1h-1zM416 78h1v1h-1zM420 90h1v1h-1zM408 89h1v1h-1zM429 107h1v1h-1zM411 116h1v1h-1zM414 122h1v1h-1zM425 88h1v1h-1zM426 85h1v1h-1zM437 96h1v1h-1zM405 73h1v1h-1zM408 94h1v1h-1zM429 103h1v1h-1zM423 86h1v1h-1zM444 88h1v1h-1zM439 81h1v1h-1zM434 113h1v1h-1zM399 93h1v1h-1zM373 103h1v1h-1zM421 98h1v1h-1zM413 107h1v1h-1zM409 105h1v1h-1zM393 113h1v1h-1zM399 115h1v1h-1zM414 112h1v1h-1zM413 102h1v1h-1zM415 94h1v1h-1zM411 100h1v1h-1zM427 120h1v1h-1zM416 109h1v1h-1zM396 114h1v1h-1zM400 119h1v1h-1zM421 111h1v1h-1zM439 118h1v1h-1zM414 91h1v1h-1zM406 105h1v1h-1zM420 107h1v1h-1zM384 119h1v1h-1zM395 102h1v1h-1zM402 86h1v1h-1zM412 98h1v1h-1zM406 95h1v1h-1zM409 100h1v1h-1zM396 118h1v1h-1zM406 110h1v1h-1zM415 87h1v1h-1zM378 103h1v1h-1zM393 109h1v1h-1zM411 113h1v1h-1zM440 91h1v1h-1zM427 98h1v1h-1zM437 76h1v1h-1zM436 87h1v1h-1zM403 94h1v1h-1zM413 102h1v1h-1zM392 104h1v1h-1zM432 84h1v1h-1zM423 84h1v1h-1zM425 98h1v1h-1zM424 89h1v1h-1zM426 108h1v1h-1zM418 100h1v1h-1zM418 95h1v1h-1zM438 101h1v1h-1zM396 92h1v1h-1zM398 114h1v1h-1zM411 92h1v1h-1zM437 100h1v1h-1zM416 91h1v1h-1zM407 91h1v1h-1zM423 76h1v1h-1zM416 99h1v1h-1zM381 115h1v1h-1zM391 91h1v1h-1zM410 100h1v1h-1zM402 90h1v1h-1zM428 116h1v1h-1zM450 83h1v1h-1zM408 117h1v1h-1zM414 122h1v1h-1zM400 103h1v1h-1zM402 106h1v1h-1zM415 86h1v1h-1zM402 113h1v1h-1zM392 111h1v1h-1zM425 99h1v1h-1zM411 94h1v1h-1zM394 93h1v1h-1zM401 107h1v1h-1zM411 109h1v1h-1zM429 95h1v1h-1zM439 88h1v1h-1zM389 101h1v1h-1zM437 99h1v1h-1zM419 113h1v1h-1zM420 95h1v1h-1zM428 85h1v1h-1zM424 78h1v1h-1zM391 109h1v1h-1zM405 100h1v1h-1zM403 117h1v1h-1zM444 88h1v1h-1zM438 73h1v1h-1zM424 83h1v1h-1zM423 97h1v1h-1zM404 102h1v1h-1zM443 82h1v1h-1zM437 85h1v1h-1zM425 78h1v1h-1zM407 85h1v1h-1zM406 95h1v1h-1zM410 92h1v1h-1zM437 90h1v1h-1zM393 93h1v1h-1zM421 113h1v1h-1zM433 102h1v1h-1zM447 94h1v1h-1zM427 112h1v1h-1zM426 110h1v1h-1zM435 78h1v1h-1zM427 98h1v1h-1zM423 104h1v1h-1zM408 111h1v1h-1zM389 113h1v1h-1zM439 85h1v1h-1zM411 114h1v1h-1zM401 102h1v1h-1zM428 89h1v1h-1zM399 106h1v1h-1zM389 102h1v1h-1zM402 96h1v1h-1zM414 100h1v1h-1zM428 123h1v1h-1zM425 99h1v1h-1zM432 94h1v1h-1zM411 95h1v1h-1zM422 100h1v1h-1zM409 88h1v1h-1zM405 107h1v1h-1zM423 99h1v1h-1zM421 98h1v1h-1zM449 93h1v1h-1zM425 93h1v1h-1zM404 109h1v1h-1zM427 101h1v1h-1zM412 106h1v1h-1zM443 90h1v1h-1zM387 117h1v1h-1zM402 101h1v1h-1zM407 115h1v1h-1zM416 97h1v1h-1zM416 112h1v1h-1zM387 111h1v1h-1zM381 109h1v1h-1zM415 88h1v1h-1zM443 97h1v1h-1zM442 94h1v1h-1zM408 102h1v1h-1zM424 100h1v1h-1zM400 105h1v1h-1zM386 98h1v1h-1zM433 80h1v1h-1zM429 101h1v1h-1zM409 103h1v1h-1zM413 116h1v1h-1zM437 113h1v1h-1zM423 105h1v1h-1zM411 107h1v1h-1zM422 103h1v1h-1zM415 100h1v1h-1zM405 95h1v1h-1zM434 101h1v1h-1zM408 107h1v1h-1zM394 106h1v1h-1zM447 90h1v1h-1zM440 101h1v1h-1zM427 105h1v1h-1zM414 101h1v1h-1zM417 95h1v1h-1zM391 113h1v1h-1zM417 107h1v1h-1zM427 119h1v1h-1zM408 91h1v1h-1zM424 101h1v1h-1zM398 95h1v1h-1zM416 93h1v1h-1zM413 95h1v1h-1zM403 101h1v1h-1zM389 101h1v1h-1zM410 110h1v1h-1zM414 95h1v1h-1zM399 86h1v1h-1zM431 95h1v1h-1zM405 111h1v1h-1zM431 93h1v1h-1zM428 96h1v1h-1zM401 96h1v1h-1zM437 82h1v1h-1zM390 107h1v1h-1zM420 85h1v1h-1zM414 94h1v1h-1zM425 85h1v1h-1zM386 106h1v1h-1zM396 114h1v1h-1zM399 103h1v1h-1zM418 110h1v1h-1zM417 102h1v1h-1zM414 98h1v1h-1zM407 92h1v1h-1zM402 104h1v1h-1zM386 95h1v1h-1zM409 109h1v1h-1zM419 83h1v1h-1zM428 79h1v1h-1zM402 93h1v1h-1zM428 76h1v1h-1zM390 108h1v1h-1zM425 87h1v1h-1zM393 101h1v1h-1zM420 103h1v1h-1zM396 102h1v1h-1zM405 105h1v1h-1zM442 101h1v1h-1zM402 104h1v1h-1zM423 89h1v1h-1zM420 107h1v1h-1zM422 106h1v1h-1zM426 119h1v1h-1zM432 116h1v1h-1zM392 104h1v1h-1zM419 112h1v1h-1zM421 99h1v1h-1zM400 92h1v1h-1zM422 104h1v1h-1zM400 117h1v1h-1zM406 116h1v1h-1zM406 92h1v1h-1zM433 110h1v1h-1zM434 95h1v1h-1zM404 104h1v1h-1zM407 116h1v1h-1zM430 90h1v1h-1zM434 82h1v1h-1zM435 86h1v1h-1zM392 94h1v1h-1zM437 97h1v1h-1zM420 96h1v1h-1zM424 104h1v1h-1zM376 123h1v1h-1zM408 109h1v1h-1zM414 110h1v1h-1zM410 112h1v1h-1zM407 100h1v1h-1zM406 93h1v1h-1zM413 107h1v1h-1zM400 97h1v1h-1zM409 90h1v1h-1zM402 93h1v1h-1zM413 96h1v1h-1zM419 99h1v1h-1zM444 86h1v1h-1zM396 93h1v1h-1zM445 94h1v1h-1zM397 100h1v1h-1zM391 117h1v1h-1zM430 96h1v1h-1zM391 119h1v1h-1zM430 94h1v1h-1zM421 102h1v1h-1zM404 102h1v1h-1zM400 98h1v1h-1zM423 99h1v1h-1zM419 107h1v1h-1zM411 90h1v1h-1zM420 86h1v1h-1zM388 92h1v1h-1zM427 88h1v1h-1zM413 95h1v1h-1zM397 114h1v1h-1zM399 116h1v1h-1zM405 92h1v1h-1zM380 104h1v1h-1zM440 96h1v1h-1zM428 86h1v1h-1zM393 100h1v1h-1zM446 95h1v1h-1zM421 98h1v1h-1zM392 94h1v1h-1zM371 97h1v1h-1zM381 97h1v1h-1zM436 95h1v1h-1zM417 91h1v1h-1zM386 94h1v1h-1zM425 91h1v1h-1zM410 108h1v1h-1zM405 114h1v1h-1zM408 114h1v1h-1zM405 102h1v1h-1zM444 91h1v1h-1zM397 106h1v1h-1zM408 107h1v1h-1zM439 96h1v1h-1zM437 80h1v1h-1zM394 97h1v1h-1zM449 82h1v1h-1zM435 99h1v1h-1zM385 102h1v1h-1zM443 80h1v1h-1zM390 117h1v1h-1zM430 108h1v1h-1zM390 96h1v1h-1zM381 107h1v1h-1zM432 104h1v1h-1zM420 92h1v1h-1zM415 108h1v1h-1zM412 83h1v1h-1zM411 97h1v1h-1zM411 106h1v1h-1zM399 119h1v1h-1zM427 104h1v1h-1zM409 82h1v1h-1zM404 85h1v1h-1zM401 93h1v1h-1zM411 108h1v1h-1zM389 114h1v1h-1zM411 110h1v1h-1zM398 111h1v1h-1zM435 85h1v1h-1zM395 100h1v1h-1zM403 92h1v1h-1zM416 106h1v1h-1zM424 81h1v1h-1zM422 96h1v1h-1zM414 100h1v1h-1zM411 91h1v1h-1zM420 100h1v1h-1zM401 113h1v1h-1zM430 89h1v1h-1zM420 93h1v1h-1zM387 97h1v1h-1zM400 96h1v1h-1zM426 87h1v1h-1zM385 101h1v1h-1zM414 110h1v1h-1zM427 83h1v1h-1zM410 102h1v1h-1zM421 105h1v1h-1zM398 91h1v1h-1zM404 106h1v1h-1zM402 84h1v1h-1zM422 87h1v1h-1zM414 97h1v1h-1zM450 89h1v1h-1zM422 92h1v1h-1zM416 90h1v1h-1zM412 101h1v1h-1zM405 121h1v1h-1zM413 89h1v1h-1zM394 104h1v1h-1zM423 95h1v1h-1zM440 95h1v1h-1zM426 97h1v1h-1zM406 101h1v1h-1zM417 118h1v1h-1zM422 94h1v1h-1zM436 96h1v1h-1zM407 102h1v1h-1zM404 95h1v1h-1zM435 99h1v1h-1zM423 107h1v1h-1zM417 80h1v1h-1zM399 100h1v1h-1zM411 100h1v1h-1zM431 87h1v1h-1zM409 94h1v1h-1zM414 111h1v1h-1zM426 120h1v1h-1zM424 106h1v1h-1zM397 97h1v1h-1zM414 90h1v1h-1zM453 98h1v1h-1zM417 107h1v1h-1zM424 109h1v1h-1zM391 116h1v1h-1zM435 105h1v1h-1zM427 87h1v1h-1zM426 86h1v1h-1zM407 89h1v1h-1zM420 96h1v1h-1zM412 97h1v1h-1zM429 94h1v1h-1zM410 87h1v1h-1zM428 95h1v1h-1zM392 114h1v1h-1zM408 101h1v1h-1zM411 99h1v1h-1zM426 90h1v1h-1zM412 108h1v1h-1zM455 83h1v1h-1zM398 110h1v1h-1zM406 96h1v1h-1zM398 107h1v1h-1zM408 110h1v1h-1zM404 98h1v1h-1zM388 110h1v1h-1zM396 105h1v1h-1zM452 92h1v1h-1zM408 99h1v1h-1zM431 97h1v1h-1zM411 97h1v1h-1zM426 103h1v1h-1zM412 106h1v1h-1zM401 92h1v1h-1zM408 92h1v1h-1zM415 102h1v1h-1zM430 97h1v1h-1zM437 96h1v1h-1zM390 106h1v1h-1zM377 111h1v1h-1zM413 109h1v1h-1zM411 89h1v1h-1zM422 81h1v1h-1zM436 102h1v1h-1zM399 95h1v1h-1zM453 93h1v1h-1zM416 90h1v1h-1zM378 98h1v1h-1zM435 107h1v1h-1zM418 96h1v1h-1zM414 83h1v1h-1zM384 105h1v1h-1zM407 98h1v1h-1zM416 95h1v1h-1zM411 101h1v1h-1zM422 83h1v1h-1zM435 88h1v1h-1zM442 93h1v1h-1zM438 97h1v1h-1zM411 100h1v1h-1zM442 80h1v1h-1zM433 107h1v1h-1zM406 89h1v1h-1zM387 102h1v1h-1zM373 111h1v1h-1zM418 101h1v1h-1zM401 102h1v1h-1zM411 90h1v1h-1zM429 92h1v1h-1zM390 132h1v1h-1zM417 94h1v1h-1zM422 102h1v1h-1zM403 83h1v1h-1zM405 103h1v1h-1zM387 114h1v1h-1zM411 96h1v1h-1zM406 120h1v1h-1zM424 104h1v1h-1zM432 98h1v1h-1zM419 90h1v1h-1zM419 104h1v1h-1zM424 89h1v1h-1zM424 89h1v1h-1zM431 108h1v1h-1zM430 100h1v1h-1zM408 109h1v1h-1zM414 100h1v1h-1zM425 112h1v1h-1zM433 79h1v1h-1zM397 115h1v1h-1zM413 101h1v1h-1zM381 105h1v1h-1zM398 84h1v1h-1zM383 104h1v1h-1zM434 90h1v1h-1zM424 85h1v1h-1zM398 118h1v1h-1zM423 106h1v1h-1zM426 91h1v1h-1zM448 97h1v1h-1zM428 93h1v1h-1zM417 100h1v1h-1zM410 94h1v1h-1zM448 127h1v1h-1zM416 128h1v1h-1zM427 120h1v1h-1zM437 110h1v1h-1zM437 123h1v1h-1zM415 127h1v1h-1zM421 125h1v1h-1zM428 113h1v1h-1zM422 110h1v1h-1zM423 111h1v1h-1zM426 110h1v1h-1zM427 127h1v1h-1zM437 121h1v1h-1zM437 132h1v1h-1zM426 127h1v1h-1zM433 113h1v1h-1zM426 124h1v1h-1zM447 122h1v1h-1zM414 107h1v1h-1zM438 108h1v1h-1zM425 113h1v1h-1zM426 129h1v1h-1zM440 116h1v1h-1zM427 108h1v1h-1zM436 119h1v1h-1zM440 123h1v1h-1zM424 109h1v1h-1zM445 134h1v1h-1zM439 113h1v1h-1zM427 127h1v1h-1zM430 124h1v1h-1zM423 113h1v1h-1zM431 118h1v1h-1zM435 119h1v1h-1zM437 116h1v1h-1zM430 125h1v1h-1zM424 119h1v1h-1zM423 105h1v1h-1zM421 119h1v1h-1zM426 109h1v1h-1zM433 117h1v1h-1zM424 120h1v1h-1zM423 118h1v1h-1zM420 127h1v1h-1zM433 118h1v1h-1zM426 114h1v1h-1zM415 132h1v1h-1zM437 124h1v1h-1zM437 117h1v1h-1zM429 119h1v1h-1zM426 115h1v1h-1zM428 119h1v1h-1zM421 111h1v1h-1zM436 133h1v1h-1zM440 128h1v1h-1zM437 100h1v1h-1zM430 111h1v1h-1zM430 118h1v1h-1zM433 113h1v1h-1zM442 101h1v1h-1zM422 124h1v1h-1zM428 109h1v1h-1zM423 124h1v1h-1zM419 122h1v1h-1zM431 131h1v1h-1zM437 111h1v1h-1zM420 133h1v1h-1zM436 109h1v1h-1zM434 131h1v1h-1zM432 127h1v1h-1zM439 122h1v1h-1zM423 110h1v1h-1zM441 132h1v1h-1zM426 125h1v1h-1zM433 105h1v1h-1zM416 98h1v1h-1zM436 113h1v1h-1zM429 112h1v1h-1zM424 124h1v1h-1zM420 120h1v1h-1zM430 121h1v1h-1zM439 114h1v1h-1zM433 126h1v1h-1zM426 114h1v1h-1zM422 106h1v1h-1zM420 99h1v1h-1zM426 123h1v1h-1zM416 114h1v1h-1zM425 105h1v1h-1zM437 111h1v1h-1zM428 115h1v1h-1zM427 124h1v1h-1zM424 101h1v1h-1zM434 115h1v1h-1zM433 125h1v1h-1zM440 122h1v1h-1zM423 125h1v1h-1zM419 135h1v1h-1zM423 112h1v1h-1zM418 114h1v1h-1zM428 127h1v1h-1zM425 132h1v1h-1zM421 122h1v1h-1zM428 116h1v1h-1zM436 109h1v1h-1zM434 124h1v1h-1zM423 122h1v1h-1zM429 110h1v1h-1zM431 115h1v1h-1zM434 111h1v1h-1zM425 124h1v1h-1zM418 118h1v1h-1zM431 129h1v1h-1zM420 130h1v1h-1zM425 122h1v1h-1zM426 129h1v1h-1zM436 127h1v1h-1zM424 131h1v1h-1zM430 115h1v1h-1zM426 124h1v1h-1zM424 134h1v1h-1zM435 124h1v1h-1zM424 116h1v1h-1zM432 121h1v1h-1zM430 138h1v1h-1zM413 116h1v1h-1zM415 114h1v1h-1zM431 116h1v1h-1zM430 107h1v1h-1zM424 106h1v1h-1zM424 119h1v1h-1zM426 114h1v1h-1zM423 131h1v1h-1zM428 114h1v1h-1zM428 108h1v1h-1zM421 113h1v1h-1zM440 109h1v1h-1zM436 129h1v1h-1zM425 113h1v1h-1zM446 131h1v1h-1zM448 124h1v1h-1zM438 136h1v1h-1zM438 118h1v1h-1zM424 126h1v1h-1zM426 102h1v1h-1zM416 115h1v1h-1zM425 113h1v1h-1zM436 129h1v1h-1zM425 118h1v1h-1zM415 125h1v1h-1zM441 113h1v1h-1zM444 109h1v1h-1zM440 119h1v1h-1zM416 130h1v1h-1zM435 119h1v1h-1zM422 132h1v1h-1zM427 117h1v1h-1zM434 116h1v1h-1zM441 116h1v1h-1zM423 117h1v1h-1zM426 114h1v1h-1zM418 117h1v1h-1zM428 113h1v1h-1zM421 111h1v1h-1zM424 132h1v1h-1zM434 126h1v1h-1zM428 117h1v1h-1zM429 114h1v1h-1zM431 107h1v1h-1zM435 124h1v1h-1zM439 114h1v1h-1zM419 135h1v1h-1zM415 105h1v1h-1zM432 122h1v1h-1zM434 129h1v1h-1zM439 115h1v1h-1zM435 136h1v1h-1zM442 128h1v1h-1zM432 127h1v1h-1zM423 112h1v1h-1zM436 128h1v1h-1zM421 128h1v1h-1zM423 121h1v1h-1zM432 134h1v1h-1zM426 122h1v1h-1zM436 101h1v1h-1zM425 122h1v1h-1zM443 134h1v1h-1zM420 115h1v1h-1zM434 126h1v1h-1zM425 114h1v1h-1zM440 119h1v1h-1zM424 97h1v1h-1zM435 105h1v1h-1zM403 117h1v1h-1zM422 115h1v1h-1zM442 104h1v1h-1zM430 125h1v1h-1zM429 122h1v1h-1zM436 112h1v1h-1zM448 103h1v1h-1zM420 124h1v1h-1zM428 115h1v1h-1zM425 125h1v1h-1zM434 129h1v1h-1zM423 116h1v1h-1zM416 117h1v1h-1zM416 125h1v1h-1zM434 117h1v1h-1zM430 103h1v1h-1zM435 124h1v1h-1zM416 122h1v1h-1zM421 114h1v1h-1zM424 123h1v1h-1zM435 116h1v1h-1zM432 116h1v1h-1zM427 125h1v1h-1zM420 108h1v1h-1zM430 106h1v1h-1zM425 117h1v1h-1zM436 108h1v1h-1zM443 126h1v1h-1zM429 113h1v1h-1zM419 105h1v1h-1zM448 115h1v1h-1zM434 100h1v1h-1zM433 130h1v1h-1zM429 118h1v1h-1zM430 124h1v1h-1zM429 123h1v1h-1zM431 120h1v1h-1zM416 110h1v1h-1zM423 125h1v1h-1zM428 116h1v1h-1zM430 112h1v1h-1zM430 102h1v1h-1zM432 129h1v1h-1zM414 117h1v1h-1zM421 115h1v1h-1zM423 103h1v1h-1zM430 126h1v1h-1zM427 118h1v1h-1zM444 127h1v1h-1zM425 118h1v1h-1zM427 112h1v1h-1zM416 123h1v1h-1zM443 106h1v1h-1zM429 106h1v1h-1zM428 118h1v1h-1zM423 125h1v1h-1zM429 128h1v1h-1zM426 118h1v1h-1zM438 118h1v1h-1zM422 120h1v1h-1zM425 117h1v1h-1zM424 115h1v1h-1zM433 123h1v1h-1zM431 115h1v1h-1zM436 117h1v1h-1zM433 128h1v1h-1zM433 120h1v1h-1zM429 114h1v1h-1zM436 124h1v1h-1zM432 117h1v1h-1zM431 124h1v1h-1zM416 112h1v1h-1zM425 112h1v1h-1zM423 107h1v1h-1zM414 128h1v1h-1zM439 130h1v1h-1zM440 128h1v1h-1zM437 121h1v1h-1zM433 120h1v1h-1zM441 117h1v1h-1zM415 123h1v1h-1zM439 117h1v1h-1zM412 110h1v1h-1zM430 127h1v1h-1zM429 126h1v1h-1zM433 123h1v1h-1zM434 118h1v1h-1zM434 115h1v1h-1zM423 119h1v1h-1zM423 120h1v1h-1zM422 109h1v1h-1zM430 115h1v1h-1zM426 110h1v1h-1zM416 127h1v1h-1zM436 108h1v1h-1zM419 109h1v1h-1zM425 111h1v1h-1zM423 120h1v1h-1zM422 111h1v1h-1zM433 133h1v1h-1zM423 124h1v1h-1zM417 99h1v1h-1zM423 120h1v1h-1zM420 121h1v1h-1zM416 108h1v1h-1zM436 118h1v1h-1zM438 119h1v1h-1zM417 113h1v1h-1zM441 118h1v1h-1zM443 121h1v1h-1zM417 114h1v1h-1zM432 118h1v1h-1zM426 109h1v1h-1zM435 123h1v1h-1zM405 113h1v1h-1zM433 128h1v1h-1zM425 135h1v1h-1zM432 132h1v1h-1zM436 115h1v1h-1zM409 122h1v1h-1zM428 116h1v1h-1zM428 122h1v1h-1zM433 112h1v1h-1zM438 110h1v1h-1zM435 118h1v1h-1zM422 112h1v1h-1zM434 128h1v1h-1zM422 124h1v1h-1zM435 121h1v1h-1zM427 117h1v1h-1zM427 117h1v1h-1zM430 126h1v1h-1zM416 119h1v1h-1zM426 118h1v1h-1zM419 133h1v1h-1zM436 120h1v1h-1zM439 116h1v1h-1zM417 117h1v1h-1zM410 129h1v1h-1zM430 114h1v1h-1zM424 115h1v1h-1zM421 127h1v1h-1zM447 128h1v1h-1zM425 130h1v1h-1zM420 112h1v1h-1zM426 122h1v1h-1zM431 114h1v1h-1zM441 122h1v1h-1zM431 106h1v1h-1zM418 117h1v1h-1zM425 127h1v1h-1zM443 120h1v1h-1zM415 99h1v1h-1zM428 126h1v1h-1zM438 121h1v1h-1zM431 116h1v1h-1zM427 118h1v1h-1zM421 116h1v1h-1zM430 128h1v1h-1zM433 118h1v1h-1zM430 106h1v1h-1zM437 112h1v1h-1zM430 132h1v1h-1zM439 128h1v1h-1zM430 125h1v1h-1zM436 112h1v1h-1zM426 123h1v1h-1zM443 127h1v1h-1zM439 119h1v1h-1zM434 124h1v1h-1zM421 128h1v1h-1zM430 127h1v1h-1zM405 122h1v1h-1zM426 122h1v1h-1zM430 109h1v1h-1zM422 116h1v1h-1zM430 125h1v1h-1zM434 132h1v1h-1zM443 120h1v1h-1zM429 127h1v1h-1zM416 119h1v1h-1zM410 111h1v1h-1zM427 122h1v1h-1zM436 122h1v1h-1zM438 111h1v1h-1zM429 112h1v1h-1zM423 119h1v1h-1zM423 115h1v1h-1zM427 123h1v1h-1zM429 108h1v1h-1zM433 125h1v1h-1zM430 114h1v1h-1zM445 121h1v1h-1zM430 106h1v1h-1zM433 126h1v1h-1zM437 120h1v1h-1zM436 136h1v1h-1zM423 105h1v1h-1zM416 104h1v1h-1zM418 124h1v1h-1zM432 126h1v1h-1zM433 104h1v1h-1zM431 123h1v1h-1zM435 126h1v1h-1zM439 130h1v1h-1zM423 120h1v1h-1zM449 106h1v1h-1zM450 103h1v1h-1zM435 136h1v1h-1zM427 122h1v1h-1zM431 127h1v1h-1zM417 116h1v1h-1zM429 117h1v1h-1zM422 117h1v1h-1zM428 111h1v1h-1zM426 116h1v1h-1zM445 110h1v1h-1zM422 115h1v1h-1zM431 128h1v1h-1zM426 119h1v1h-1zM441 113h1v1h-1zM437 133h1v1h-1zM417 129h1v1h-1zM421 119h1v1h-1zM431 105h1v1h-1zM424 129h1v1h-1zM432 129h1v1h-1zM429 114h1v1h-1zM420 130h1v1h-1zM426 112h1v1h-1zM433 117h1v1h-1zM428 115h1v1h-1zM430 120h1v1h-1zM432 118h1v1h-1zM428 130h1v1h-1zM440 116h1v1h-1zM419 122h1v1h-1zM433 119h1v1h-1zM425 121h1v1h-1zM432 112h1v1h-1zM436 118h1v1h-1zM434 130h1v1h-1zM434 125h1v1h-1zM435 109h1v1h-1zM433 115h1v1h-1zM427 111h1v1h-1zM435 113h1v1h-1zM437 113h1v1h-1zM436 109h1v1h-1zM431 122h1v1h-1zM431 126h1v1h-1zM413 120h1v1h-1zM422 115h1v1h-1zM427 120h1v1h-1zM376 107h1v1h-1zM393 105h1v1h-1zM405 98h1v1h-1zM389 114h1v1h-1zM380 90h1v1h-1zM384 103h1v1h-1zM382 113h1v1h-1zM370 117h1v1h-1zM381 102h1v1h-1zM380 110h1v1h-1zM382 106h1v1h-1zM382 106h1v1h-1zM377 101h1v1h-1zM407 106h1v1h-1zM372 115h1v1h-1zM381 116h1v1h-1zM371 109h1v1h-1zM381 106h1v1h-1zM399 109h1v1h-1zM374 105h1v1h-1zM370 107h1v1h-1zM390 115h1v1h-1zM374 99h1v1h-1zM377 112h1v1h-1zM379 115h1v1h-1zM384 113h1v1h-1zM368 115h1v1h-1zM396 109h1v1h-1zM371 103h1v1h-1zM386 111h1v1h-1zM386 97h1v1h-1zM404 90h1v1h-1zM387 102h1v1h-1zM389 95h1v1h-1zM376 99h1v1h-1zM380 101h1v1h-1zM382 102h1v1h-1zM393 103h1v1h-1zM372 100h1v1h-1zM386 100h1v1h-1zM411 98h1v1h-1zM373 108h1v1h-1zM365 111h1v1h-1zM379 111h1v1h-1zM382 106h1v1h-1zM400 104h1v1h-1zM388 108h1v1h-1zM394 102h1v1h-1zM376 107h1v1h-1zM381 99h1v1h-1zM386 105h1v1h-1zM376 113h1v1h-1zM385 100h1v1h-1zM382 114h1v1h-1zM384 101h1v1h-1zM371 114h1v1h-1zM365 120h1v1h-1zM397 103h1v1h-1zM383 102h1v1h-1zM383 108h1v1h-1zM408 97h1v1h-1zM392 97h1v1h-1zM389 110h1v1h-1zM374 94h1v1h-1zM388 110h1v1h-1zM384 99h1v1h-1zM382 111h1v1h-1zM396 98h1v1h-1zM393 115h1v1h-1zM388 100h1v1h-1zM394 102h1v1h-1zM385 103h1v1h-1zM378 106h1v1h-1zM386 102h1v1h-1zM384 106h1v1h-1zM378 100h1v1h-1zM384 119h1v1h-1zM390 98h1v1h-1zM387 108h1v1h-1zM377 115h1v1h-1zM376 105h1v1h-1zM387 109h1v1h-1zM372 103h1v1h-1zM383 98h1v1h-1zM381 99h1v1h-1zM372 114h1v1h-1zM374 100h1v1h-1zM384 111h1v1h-1zM382 99h1v1h-1zM396 103h1v1h-1zM384 109h1v1h-1zM379 91h1v1h-1zM387 108h1v1h-1zM378 103h1v1h-1zM398 91h1v1h-1zM378 110h1v1h-1zM375 108h1v1h-1zM378 108h1v1h-1zM394 100h1v1h-1zM376 101h1v1h-1zM374 97h1v1h-1zM388 102h1v1h-1zM393 95h1v1h-1zM378 102h1v1h-1zM390 105h1v1h-1zM377 111h1v1h-1zM397 104h1v1h-1zM373 108h1v1h-1zM380 103h1v1h-1zM380 111h1v1h-1zM375 114h1v1h-1zM381 101h1v1h-1zM389 100h1v1h-1zM373 100h1v1h-1zM401 98h1v1h-1zM384 101h1v1h-1zM389 116h1v1h-1zM377 115h1v1h-1zM380 96h1v1h-1zM392 107h1v1h-1zM372 105h1v1h-1zM373 95h1v1h-1zM375 108h1v1h-1zM369 103h1v1h-1zM389 105h1v1h-1zM375 109h1v1h-1zM398 97h1v1h-1zM372 117h1v1h-1zM379 106h1v1h-1zM382 99h1v1h-1zM371 96h1v1h-1zM375 101h1v1h-1zM382 105h1v1h-1zM374 108h1v1h-1zM386 110h1v1h-1zM403 101h1v1h-1zM390 93h1v1h-1zM392 100h1v1h-1zM382 118h1v1h-1zM378 101h1v1h-1zM394 106h1v1h-1zM378 98h1v1h-1zM372 104h1v1h-1zM387 106h1v1h-1zM384 103h1v1h-1zM383 111h1v1h-1zM388 102h1v1h-1zM386 97h1v1h-1zM385 100h1v1h-1zM395 100h1v1h-1zM382 105h1v1h-1zM375 107h1v1h-1zM390 97h1v1h-1zM403 96h1v1h-1zM382 118h1v1h-1zM397 99h1v1h-1zM383 113h1v1h-1zM367 104h1v1h-1zM374 108h1v1h-1zM373 102h1v1h-1zM391 89h1v1h-1zM383 100h1v1h-1zM378 111h1v1h-1zM385 112h1v1h-1zM398 108h1v1h-1zM381 100h1v1h-1zM375 103h1v1h-1zM384 96h1v1h-1zM375 107h1v1h-1zM388 108h1v1h-1zM392 103h1v1h-1zM383 99h1v1h-1zM379 107h1v1h-1zM384 104h1v1h-1zM369 110h1v1h-1zM398 99h1v1h-1zM406 100h1v1h-1zM382 99h1v1h-1zM368 108h1v1h-1zM364 109h1v1h-1zM380 98h1v1h-1zM383 114h1v1h-1zM378 113h1v1h-1zM396 113h1v1h-1zM383 103h1v1h-1zM372 104h1v1h-1zM387 105h1v1h-1zM371 113h1v1h-1zM381 115h1v1h-1zM373 100h1v1h-1zM385 102h1v1h-1zM377 91h1v1h-1zM376 104h1v1h-1zM386 109h1v1h-1zM388 108h1v1h-1zM388 119h1v1h-1zM394 106h1v1h-1zM372 104h1v1h-1zM385 98h1v1h-1zM399 102h1v1h-1zM385 115h1v1h-1zM391 96h1v1h-1zM381 105h1v1h-1zM388 101h1v1h-1zM386 109h1v1h-1zM388 100h1v1h-1zM394 102h1v1h-1zM384 104h1v1h-1zM390 104h1v1h-1zM372 116h1v1h-1zM372 98h1v1h-1zM379 93h1v1h-1zM396 91h1v1h-1zM374 104h1v1h-1zM379 106h1v1h-1zM390 106h1v1h-1zM378 107h1v1h-1zM370 108h1v1h-1zM389 98h1v1h-1zM372 109h1v1h-1zM384 95h1v1h-1zM387 100h1v1h-1zM372 103h1v1h-1zM387 106h1v1h-1zM379 94h1v1h-1zM372 104h1v1h-1zM384 102h1v1h-1zM385 109h1v1h-1zM383 100h1v1h-1zM388 101h1v1h-1zM375 102h1v1h-1zM368 104h1v1h-1zM373 120h1v1h-1zM373 110h1v1h-1zM378 100h1v1h-1zM386 104h1v1h-1zM379 94h1v1h-1zM373 107h1v1h-1zM392 106h1v1h-1zM379 114h1v1h-1zM365 99h1v1h-1zM374 95h1v1h-1zM384 111h1v1h-1zM384 104h1v1h-1zM380 91h1v1h-1zM385 93h1v1h-1zM384 110h1v1h-1zM375 118h1v1h-1zM366 107h1v1h-1zM379 96h1v1h-1zM379 113h1v1h-1zM395 92h1v1h-1zM379 100h1v1h-1zM385 99h1v1h-1zM382 100h1v1h-1zM366 111h1v1h-1zM388 96h1v1h-1zM378 106h1v1h-1zM370 114h1v1h-1zM388 110h1v1h-1zM396 110h1v1h-1zM381 102h1v1h-1zM377 94h1v1h-1zM376 107h1v1h-1zM378 107h1v1h-1zM394 104h1v1h-1zM382 101h1v1h-1zM387 106h1v1h-1zM386 96h1v1h-1zM386 115h1v1h-1zM388 104h1v1h-1zM384 104h1v1h-1zM369 111h1v1h-1zM375 109h1v1h-1zM390 107h1v1h-1zM387 105h1v1h-1zM386 102h1v1h-1zM373 117h1v1h-1zM383 96h1v1h-1zM398 109h1v1h-1zM381 99h1v1h-1zM396 105h1v1h-1zM389 96h1v1h-1zM388 93h1v1h-1zM374 99h1v1h-1zM374 99h1v1h-1zM377 114h1v1h-1zM393 98h1v1h-1zM393 97h1v1h-1zM371 100h1v1h-1zM370 107h1v1h-1zM383 104h1v1h-1zM396 105h1v1h-1zM384 99h1v1h-1zM387 95h1v1h-1zM387 103h1v1h-1zM389 109h1v1h-1zM382 109h1v1h-1zM385 97h1v1h-1zM388 100h1v1h-1zM382 107h1v1h-1zM398 97h1v1h-1zM370 97h1v1h-1zM379 106h1v1h-1zM373 104h1v1h-1zM393 104h1v1h-1zM394 107h1v1h-1zM374 103h1v1h-1zM381 97h1v1h-1zM377 100h1v1h-1zM370 112h1v1h-1zM374 106h1v1h-1zM386 108h1v1h-1zM387 101h1v1h-1zM376 110h1v1h-1zM381 101h1v1h-1zM389 98h1v1h-1zM396 101h1v1h-1zM385 103h1v1h-1zM374 104h1v1h-1zM367 108h1v1h-1zM384 110h1v1h-1zM378 101h1v1h-1zM374 94h1v1h-1zM376 108h1v1h-1zM379 117h1v1h-1zM385 111h1v1h-1zM387 95h1v1h-1zM375 109h1v1h-1zM402 108h1v1h-1zM397 107h1v1h-1zM382 116h1v1h-1zM386 109h1v1h-1zM374 110h1v1h-1zM375 101h1v1h-1zM375 100h1v1h-1zM370 95h1v1h-1zM387 94h1v1h-1zM380 102h1v1h-1zM385 111h1v1h-1zM385 111h1v1h-1zM381 109h1v1h-1zM399 109h1v1h-1zM380 102h1v1h-1zM373 101h1v1h-1zM372 119h1v1h-1zM376 109h1v1h-1zM384 102h1v1h-1zM385 109h1v1h-1zM384 99h1v1h-1zM380 115h1v1h-1zM385 95h1v1h-1zM386 100h1v1h-1zM370 105h1v1h-1zM386 102h1v1h-1zM385 95h1v1h-1zM381 110h1v1h-1zM394 106h1v1h-1zM383 104h1v1h-1zM376 110h1v1h-1zM391 99h1v1h-1zM401 107h1v1h-1zM370 103h1v1h-1zM380 98h1v1h-1zM391 101h1v1h-1zM388 102h1v1h-1zM393 104h1v1h-1zM396 106h1v1h-1zM367 119h1v1h-1zM387 94h1v1h-1zM374 108h1v1h-1zM374 115h1v1h-1zM388 110h1v1h-1zM366 107h1v1h-1zM383 103h1v1h-1zM367 106h1v1h-1zM404 112h1v1h-1zM377 104h1v1h-1zM383 107h1v1h-1zM369 99h1v1h-1zM378 112h1v1h-1zM395 101h1v1h-1zM384 102h1v1h-1zM371 105h1v1h-1zM377 105h1v1h-1zM385 122h1v1h-1zM400 105h1v1h-1zM382 109h1v1h-1zM386 99h1v1h-1zM391 93h1v1h-1zM403 86h1v1h-1zM388 99h1v1h-1zM372 108h1v1h-1zM373 108h1v1h-1zM397 92h1v1h-1zM387 108h1v1h-1zM363 105h1v1h-1zM379 113h1v1h-1zM378 104h1v1h-1zM379 106h1v1h-1zM388 99h1v1h-1zM388 99h1v1h-1zM396 102h1v1h-1zM365 112h1v1h-1zM386 109h1v1h-1zM379 101h1v1h-1zM370 99h1v1h-1zM391 106h1v1h-1zM371 116h1v1h-1zM368 104h1v1h-1zM398 99h1v1h-1zM386 101h1v1h-1zM391 105h1v1h-1zM397 108h1v1h-1zM369 101h1v1h-1zM396 105h1v1h-1zM385 114h1v1h-1zM389 107h1v1h-1zM389 98h1v1h-1zM387 94h1v1h-1zM379 106h1v1h-1zM384 113h1v1h-1zM385 110h1v1h-1zM395 112h1v1h-1zM396 102h1v1h-1zM372 102h1v1h-1zM405 104h1v1h-1zM387 103h1v1h-1zM399 96h1v1h-1zM380 103h1v1h-1zM400 105h1v1h-1zM388 110h1v1h-1zM388 109h1v1h-1zM390 119h1v1h-1zM367 102h1v1h-1zM368 115h1v1h-1zM382 99h1v1h-1zM379 98h1v1h-1zM392 108h1v1h-1zM385 100h1v1h-1zM395 102h1v1h-1zM375 103h1v1h-1zM386 103h1v1h-1zM375 95h1v1h-1zM372 113h1v1h-1zM367 116h1v1h-1zM381 104h1v1h-1zM375 115h1v1h-1zM378 112h1v1h-1zM375 115h1v1h-1zM374 117h1v1h-1zM409 91h1v1h-1zM384 110h1v1h-1zM369 107h1v1h-1zM382 110h1v1h-1zM382 103h1v1h-1zM371 121h1v1h-1zM395 114h1v1h-1zM373 107h1v1h-1zM388 107h1v1h-1zM378 108h1v1h-1zM375 109h1v1h-1zM415 104h1v1h-1zM375 100h1v1h-1zM365 99h1v1h-1zM379 113h1v1h-1zM373 110h1v1h-1zM392 100h1v1h-1zM386 100h1v1h-1zM369 98h1v1h-1zM399 100h1v1h-1zM378 95h1v1h-1zM369 109h1v1h-1zM393 105h1v1h-1zM388 100h1v1h-1zM374 114h1v1h-1zM372 112h1v1h-1zM381 107h1v1h-1zM374 102h1v1h-1zM387 100h1v1h-1zM384 98h1v1h-1zM371 107h1v1h-1zM381 110h1v1h-1zM393 93h1v1h-1zM376 109h1v1h-1zM388 102h1v1h-1zM376 107h1v1h-1zM387 109h1v1h-1zM378 112h1v1h-1zM385 100h1v1h-1zM374 111h1v1h-1zM374 104h1v1h-1zM398 84h1v1h-1zM394 116h1v1h-1zM370 108h1v1h-1zM393 100h1v1h-1zM382 114h1v1h-1zM396 105h1v1h-1zM368 104h1v1h-1zM381 106h1v1h-1zM378 108h1v1h-1zM375 105h1v1h-1zM401 102h1v1h-1zM381 99h1v1h-1zM377 99h1v1h-1zM366 108h1v1h-1zM396 116h1v1h-1zM391 95h1v1h-1zM381 107h1v1h-1zM366 98h1v1h-1zM385 93h1v1h-1zM381 102h1v1h-1zM369 114h1v1h-1zM403 102h1v1h-1zM390 105h1v1h-1zM374 115h1v1h-1zM375 109h1v1h-1zM389 99h1v1h-1zM393 96h1v1h-1zM388 101h1v1h-1zM388 106h1v1h-1zM378 103h1v1h-1zM402 99h1v1h-1zM379 102h1v1h-1zM434 103h1v1h-1zM431 89h1v1h-1zM434 95h1v1h-1zM458 102h1v1h-1zM451 91h1v1h-1zM443 106h1v1h-1zM440 112h1v1h-1zM449 80h1v1h-1zM438 114h1v1h-1zM452 91h1v1h-1zM443 88h1v1h-1zM449 94h1v1h-1zM435 112h1v1h-1zM443 101h1v1h-1zM448 108h1v1h-1zM435 109h1v1h-1zM435 109h1v1h-1zM448 107h1v1h-1zM427 100h1v1h-1zM453 102h1v1h-1zM436 82h1v1h-1zM450 95h1v1h-1zM441 96h1v1h-1zM442 98h1v1h-1zM450 88h1v1h-1zM434 91h1v1h-1zM447 108h1v1h-1zM444 93h1v1h-1zM449 97h1v1h-1zM434 117h1v1h-1zM442 100h1v1h-1zM435 107h1v1h-1zM438 101h1v1h-1zM451 103h1v1h-1zM452 109h1v1h-1zM433 94h1v1h-1zM440 105h1v1h-1zM441 91h1v1h-1zM433 92h1v1h-1zM438 103h1v1h-1zM432 89h1v1h-1zM433 94h1v1h-1zM424 85h1v1h-1zM447 102h1v1h-1zM447 92h1v1h-1zM436 79h1v1h-1zM426 92h1v1h-1zM430 109h1v1h-1zM451 91h1v1h-1zM442 100h1v1h-1zM441 96h1v1h-1zM442 79h1v1h-1zM448 91h1v1h-1zM441 108h1v1h-1zM446 104h1v1h-1zM445 91h1v1h-1zM437 88h1v1h-1zM451 95h1v1h-1zM456 81h1v1h-1zM451 98h1v1h-1zM442 78h1v1h-1zM448 87h1v1h-1zM432 105h1v1h-1zM434 95h1v1h-1zM433 88h1v1h-1zM436 97h1v1h-1zM449 92h1v1h-1zM434 98h1v1h-1zM436 107h1v1h-1zM428 94h1v1h-1zM435 77h1v1h-1zM426 100h1v1h-1zM449 87h1v1h-1zM440 108h1v1h-1zM450 106h1v1h-1zM454 95h1v1h-1zM446 100h1v1h-1zM444 80h1v1h-1zM442 77h1v1h-1zM437 92h1v1h-1zM422 99h1v1h-1zM443 110h1v1h-1zM435 88h1v1h-1zM432 85h1v1h-1zM436 86h1v1h-1zM441 87h1v1h-1zM448 97h1v1h-1zM432 80h1v1h-1zM430 104h1v1h-1zM451 81h1v1h-1zM446 120h1v1h-1zM448 94h1v1h-1zM439 96h1v1h-1zM429 77h1v1h-1zM453 99h1v1h-1zM452 75h1v1h-1zM436 105h1v1h-1zM445 88h1v1h-1zM451 98h1v1h-1zM452 106h1v1h-1zM446 110h1v1h-1zM439 108h1v1h-1zM437 104h1v1h-1zM441 89h1v1h-1zM436 83h1v1h-1zM447 104h1v1h-1zM443 99h1v1h-1zM439 90h1v1h-1zM432 95h1v1h-1zM443 106h1v1h-1zM439 105h1v1h-1zM445 89h1v1h-1zM433 81h1v1h-1zM448 75h1v1h-1zM441 90h1v1h-1zM435 81h1v1h-1zM441 87h1v1h-1zM452 94h1v1h-1zM431 102h1v1h-1zM437 97h1v1h-1zM451 95h1v1h-1zM445 106h1v1h-1zM450 103h1v1h-1zM446 91h1v1h-1zM455 101h1v1h-1zM440 89h1v1h-1zM433 95h1v1h-1zM436 102h1v1h-1zM442 101h1v1h-1zM434 79h1v1h-1zM442 102h1v1h-1zM440 83h1v1h-1zM439 98h1v1h-1zM442 103h1v1h-1zM439 79h1v1h-1zM451 84h1v1h-1zM443 104h1v1h-1zM449 99h1v1h-1zM442 106h1v1h-1zM438 89h1v1h-1zM425 83h1v1h-1zM430 89h1v1h-1zM449 96h1v1h-1zM449 98h1v1h-1zM438 106h1v1h-1zM419 98h1v1h-1zM448 97h1v1h-1zM441 99h1v1h-1zM448 101h1v1h-1zM441 89h1v1h-1zM454 101h1v1h-1zM447 88h1v1h-1zM439 89h1v1h-1zM437 107h1v1h-1zM423 105h1v1h-1zM447 109h1v1h-1zM447 96h1v1h-1zM437 96h1v1h-1zM442 111h1v1h-1zM435 88h1v1h-1zM439 84h1v1h-1zM448 74h1v1h-1zM438 83h1v1h-1zM449 104h1v1h-1zM440 87h1v1h-1zM443 84h1v1h-1zM439 100h1v1h-1zM453 84h1v1h-1zM443 87h1v1h-1zM435 87h1v1h-1zM443 100h1v1h-1zM453 88h1v1h-1zM445 90h1v1h-1zM433 93h1v1h-1zM435 75h1v1h-1zM433 93h1v1h-1zM454 76h1v1h-1zM444 82h1v1h-1zM450 90h1v1h-1zM450 96h1v1h-1zM439 92h1v1h-1zM452 107h1v1h-1zM441 96h1v1h-1zM445 101h1v1h-1zM424 90h1v1h-1zM441 88h1v1h-1zM438 113h1v1h-1zM435 77h1v1h-1zM444 108h1v1h-1zM430 87h1v1h-1zM439 102h1v1h-1zM419 81h1v1h-1zM440 100h1v1h-1zM435 98h1v1h-1zM443 88h1v1h-1zM447 102h1v1h-1zM415 106h1v1h-1zM438 98h1v1h-1zM431 89h1v1h-1zM453 94h1v1h-1zM450 81h1v1h-1zM443 84h1v1h-1zM443 97h1v1h-1zM442 95h1v1h-1zM441 103h1v1h-1zM447 97h1v1h-1zM447 101h1v1h-1zM440 94h1v1h-1zM435 102h1v1h-1zM438 84h1v1h-1zM435 97h1v1h-1zM442 101h1v1h-1zM440 100h1v1h-1zM429 86h1v1h-1zM432 97h1v1h-1zM454 98h1v1h-1zM439 94h1v1h-1zM452 99h1v1h-1zM432 110h1v1h-1zM449 102h1v1h-1zM443 93h1v1h-1zM438 98h1v1h-1zM426 117h1v1h-1zM454 89h1v1h-1zM443 108h1v1h-1zM442 88h1v1h-1zM450 78h1v1h-1zM433 88h1v1h-1zM455 99h1v1h-1zM450 93h1v1h-1zM447 88h1v1h-1zM346 134h1v1h-1zM345 131h1v1h-1zM348 136h1v1h-1zM352 130h1v1h-1zM343 133h1v1h-1zM347 134h1v1h-1zM354 131h1v1h-1zM356 130h1v1h-1zM345 129h1v1h-1zM340 131h1v1h-1zM348 132h1v1h-1zM347 136h1v1h-1zM354 132h1v1h-1zM353 129h1v1h-1zM349 127h1v1h-1zM345 128h1v1h-1zM350 133h1v1h-1zM344 132h1v1h-1zM344 137h1v1h-1zM348 131h1v1h-1zM358 130h1v1h-1zM357 137h1v1h-1zM355 136h1v1h-1zM341 137h1v1h-1zM351 126h1v1h-1zM345 131h1v1h-1zM351 132h1v1h-1zM353 132h1v1h-1zM352 122h1v1h-1zM345 132h1v1h-1zM344 131h1v1h-1zM352 136h1v1h-1zM354 131h1v1h-1zM345 132h1v1h-1zM344 131h1v1h-1zM348 127h1v1h-1zM346 134h1v1h-1zM353 140h1v1h-1zM354 127h1v1h-1zM352 138h1v1h-1zM346 139h1v1h-1zM344 126h1v1h-1zM347 126h1v1h-1zM349 128h1v1h-1zM353 127h1v1h-1zM351 128h1v1h-1zM347 127h1v1h-1zM351 130h1v1h-1zM352 133h1v1h-1zM348 135h1v1h-1zM344 131h1v1h-1zM351 127h1v1h-1zM353 134h1v1h-1zM352 134h1v1h-1zM344 128h1v1h-1zM351 133h1v1h-1zM349 127h1v1h-1zM348 128h1v1h-1zM348 132h1v1h-1zM346 130h1v1h-1zM346 136h1v1h-1zM350 131h1v1h-1zM349 132h1v1h-1zM349 136h1v1h-1zM343 125h1v1h-1zM350 134h1v1h-1zM356 136h1v1h-1zM344 131h1v1h-1zM349 136h1v1h-1zM349 127h1v1h-1zM350 128h1v1h-1zM352 126h1v1h-1zM346 138h1v1h-1zM353 128h1v1h-1zM352 134h1v1h-1zM347 124h1v1h-1zM352 135h1v1h-1zM355 126h1v1h-1zM356 128h1v1h-1zM348 120h1v1h-1zM353 126h1v1h-1zM349 135h1v1h-1zM345 125h1v1h-1zM360 138h1v1h-1zM354 141h1v1h-1zM353 131h1v1h-1zM348 125h1v1h-1zM350 130h1v1h-1zM347 132h1v1h-1zM358 123h1v1h-1zM347 129h1v1h-1zM349 132h1v1h-1zM353 133h1v1h-1zM349 123h1v1h-1zM353 131h1v1h-1zM350 132h1v1h-1zM349 136h1v1h-1zM349 133h1v1h-1zM340 136h1v1h-1zM354 134h1v1h-1zM352 128h1v1h-1zM351 143h1v1h-1zM350 134h1v1h-1zM344 133h1v1h-1zM349 130h1v1h-1zM345 138h1v1h-1zM346 132h1v1h-1zM343 134h1v1h-1zM347 132h1v1h-1zM354 131h1v1h-1zM351 125h1v1h-1zM345 129h1v1h-1zM345 139h1v1h-1zM354 133h1v1h-1zM348 128h1v1h-1zM353 128h1v1h-1zM357 128h1v1h-1zM354 130h1v1h-1zM344 131h1v1h-1zM338 138h1v1h-1zM356 133h1v1h-1zM343 139h1v1h-1zM342 124h1v1h-1zM346 131h1v1h-1zM347 123h1v1h-1zM352 122h1v1h-1zM346 132h1v1h-1zM345 123h1v1h-1zM353 132h1v1h-1zM344 127h1v1h-1zM361 136h1v1h-1zM342 137h1v1h-1zM349 124h1v1h-1zM354 135h1v1h-1zM349 131h1v1h-1zM341 134h1v1h-1zM349 129h1v1h-1zM354 137h1v1h-1zM345 136h1v1h-1zM341 131h1v1h-1zM349 124h1v1h-1zM339 121h1v1h-1zM351 136h1v1h-1zM352 132h1v1h-1zM350 125h1v1h-1zM344 127h1v1h-1zM354 143h1v1h-1zM355 126h1v1h-1zM354 133h1v1h-1zM347 137h1v1h-1zM351 142h1v1h-1zM346 133h1v1h-1zM355 134h1v1h-1zM347 126h1v1h-1zM343 133h1v1h-1zM348 131h1v1h-1zM351 127h1v1h-1zM348 126h1v1h-1zM348 137h1v1h-1zM344 136h1v1h-1zM349 143h1v1h-1zM348 130h1v1h-1zM349 122h1v1h-1zM348 140h1v1h-1zM348 134h1v1h-1zM345 139h1v1h-1zM357 128h1v1h-1zM341 130h1v1h-1zM350 138h1v1h-1zM354 128h1v1h-1zM341 131h1v1h-1zM341 131h1v1h-1zM352 135h1v1h-1zM361 136h1v1h-1zM354 128h1v1h-1zM347 136h1v1h-1zM346 131h1v1h-1zM346 131h1v1h-1zM343 132h1v1h-1zM346 136h1v1h-1zM353 131h1v1h-1zM347 134h1v1h-1zM350 128h1v1h-1zM352 125h1v1h-1zM346 127h1v1h-1zM347 133h1v1h-1zM350 132h1v1h-1zM345 132h1v1h-1zM349 126h1v1h-1zM352 128h1v1h-1zM349 132h1v1h-1zM341 135h1v1h-1zM350 134h1v1h-1zM348 130h1v1h-1zM349 129h1v1h-1zM343 125h1v1h-1zM349 129h1v1h-1zM348 137h1v1h-1zM346 131h1v1h-1zM345 129h1v1h-1zM348 133h1v1h-1zM340 144h1v1h-1zM350 130h1v1h-1zM346 127h1v1h-1zM353 124h1v1h-1zM340 123h1v1h-1zM346 133h1v1h-1zM350 133h1v1h-1zM350 129h1v1h-1zM347 133h1v1h-1zM353 134h1v1h-1zM346 128h1v1h-1zM351 133h1v1h-1zM348 135h1v1h-1zM347 125h1v1h-1zM345 131h1v1h-1zM345 132h1v1h-1zM346 124h1v1h-1zM350 142h1v1h-1zM346 136h1v1h-1zM344 140h1v1h-1zM351 125h1v1h-1zM349 131h1v1h-1zM351 137h1v1h-1zM349 129h1v1h-1zM356 141h1v1h-1zM352 127h1v1h-1zM350 131h1v1h-1zM351 130h1v1h-1zM353 124h1v1h-1zM349 131h1v1h-1zM352 132h1v1h-1zM348 127h1v1h-1zM356 129h1v1h-1zM348 136h1v1h-1zM352 134h1v1h-1zM347 135h1v1h-1zM348 137h1v1h-1zM352 131h1v1h-1zM336 128h1v1h-1zM340 132h1v1h-1zM348 132h1v1h-1zM343 129h1v1h-1zM351 133h1v1h-1zM351 133h1v1h-1zM347 136h1v1h-1zM352 127h1v1h-1zM340 137h1v1h-1zM348 131h1v1h-1zM353 125h1v1h-1zM355 137h1v1h-1zM351 134h1v1h-1zM356 132h1v1h-1zM351 127h1v1h-1zM348 135h1v1h-1zM350 127h1v1h-1zM360 127h1v1h-1zM359 131h1v1h-1zM351 136h1v1h-1zM351 132h1v1h-1zM351 132h1v1h-1zM342 128h1v1h-1zM346 136h1v1h-1zM349 130h1v1h-1zM345 134h1v1h-1zM348 144h1v1h-1zM343 133h1v1h-1zM348 127h1v1h-1zM353 125h1v1h-1zM349 127h1v1h-1zM352 127h1v1h-1zM348 133h1v1h-1zM345 138h1v1h-1zM349 132h1v1h-1zM341 130h1v1h-1zM345 134h1v1h-1zM347 128h1v1h-1zM346 131h1v1h-1zM350 136h1v1h-1zM345 137h1v1h-1zM353 130h1v1h-1zM352 130h1v1h-1zM349 129h1v1h-1zM346 133h1v1h-1zM343 138h1v1h-1zM351 132h1v1h-1zM347 126h1v1h-1zM361 136h1v1h-1zM353 136h1v1h-1zM355 137h1v1h-1zM344 135h1v1h-1zM348 130h1v1h-1zM346 127h1v1h-1zM338 134h1v1h-1zM350 130h1v1h-1zM347 132h1v1h-1zM347 137h1v1h-1zM350 124h1v1h-1zM353 124h1v1h-1zM351 125h1v1h-1zM356 128h1v1h-1zM346 131h1v1h-1zM352 133h1v1h-1zM345 128h1v1h-1zM347 137h1v1h-1zM354 130h1v1h-1zM351 135h1v1h-1zM350 139h1v1h-1zM350 137h1v1h-1zM352 130h1v1h-1zM354 131h1v1h-1zM351 134h1v1h-1zM347 135h1v1h-1zM352 126h1v1h-1zM349 127h1v1h-1zM350 129h1v1h-1zM349 136h1v1h-1zM353 133h1v1h-1zM350 131h1v1h-1zM347 125h1v1h-1zM342 125h1v1h-1zM343 133h1v1h-1zM350 127h1v1h-1zM346 136h1v1h-1zM353 128h1v1h-1zM349 132h1v1h-1zM350 135h1v1h-1zM348 134h1v1h-1zM360 131h1v1h-1zM353 141h1v1h-1zM351 131h1v1h-1zM352 134h1v1h-1zM338 130h1v1h-1zM345 136h1v1h-1zM354 137h1v1h-1zM354 137h1v1h-1zM345 133h1v1h-1zM339 136h1v1h-1zM343 127h1v1h-1zM346 131h1v1h-1zM354 132h1v1h-1zM337 134h1v1h-1zM354 132h1v1h-1zM350 127h1v1h-1zM347 121h1v1h-1zM348 133h1v1h-1zM360 130h1v1h-1zM352 135h1v1h-1zM346 127h1v1h-1zM338 133h1v1h-1zM350 125h1v1h-1zM341 134h1v1h-1zM348 129h1v1h-1zM344 134h1v1h-1zM344 137h1v1h-1zM349 130h1v1h-1zM359 133h1v1h-1zM345 131h1v1h-1zM337 132h1v1h-1zM361 131h1v1h-1zM352 131h1v1h-1zM348 138h1v1h-1zM350 138h1v1h-1zM355 143h1v1h-1zM353 134h1v1h-1zM350 134h1v1h-1zM356 147h1v1h-1zM352 122h1v1h-1zM363 133h1v1h-1zM341 134h1v1h-1zM347 135h1v1h-1zM355 127h1v1h-1zM355 129h1v1h-1zM346 122h1v1h-1zM359 128h1v1h-1zM356 119h1v1h-1zM362 136h1v1h-1zM347 130h1v1h-1zM358 124h1v1h-1zM349 140h1v1h-1zM352 131h1v1h-1zM355 125h1v1h-1zM346 134h1v1h-1zM347 128h1v1h-1zM362 118h1v1h-1zM342 132h1v1h-1zM353 141h1v1h-1zM359 120h1v1h-1zM360 128h1v1h-1zM348 136h1v1h-1zM342 133h1v1h-1zM357 137h1v1h-1zM345 129h1v1h-1zM349 140h1v1h-1zM344 131h1v1h-1zM339 130h1v1h-1zM345 134h1v1h-1zM347 129h1v1h-1zM336 129h1v1h-1zM359 128h1v1h-1zM347 126h1v1h-1zM361 126h1v1h-1zM357 122h1v1h-1zM345 135h1v1h-1zM349 133h1v1h-1zM346 118h1v1h-1zM357 137h1v1h-1zM362 131h1v1h-1zM358 118h1v1h-1zM352 132h1v1h-1zM359 120h1v1h-1zM369 137h1v1h-1zM365 116h1v1h-1zM359 140h1v1h-1zM354 139h1v1h-1zM369 139h1v1h-1zM366 112h1v1h-1zM367 140h1v1h-1zM369 140h1v1h-1zM359 121h1v1h-1zM352 137h1v1h-1zM371 143h1v1h-1zM362 131h1v1h-1zM361 145h1v1h-1zM364 114h1v1h-1zM356 128h1v1h-1zM366 135h1v1h-1zM366 133h1v1h-1zM364 120h1v1h-1zM366 119h1v1h-1zM363 134h1v1h-1zM355 129h1v1h-1zM371 116h1v1h-1zM363 123h1v1h-1zM362 124h1v1h-1zM371 113h1v1h-1zM363 131h1v1h-1zM353 112h1v1h-1zM368 133h1v1h-1zM352 112h1v1h-1zM353 123h1v1h-1zM357 117h1v1h-1zM356 126h1v1h-1zM366 127h1v1h-1zM370 122h1v1h-1zM364 128h1v1h-1zM365 122h1v1h-1zM362 141h1v1h-1zM357 126h1v1h-1zM362 114h1v1h-1zM354 126h1v1h-1zM360 127h1v1h-1zM360 126h1v1h-1zM367 127h1v1h-1zM365 130h1v1h-1zM352 128h1v1h-1zM357 144h1v1h-1zM363 115h1v1h-1zM361 143h1v1h-1zM354 113h1v1h-1zM352 125h1v1h-1zM365 133h1v1h-1zM361 114h1v1h-1zM358 123h1v1h-1zM363 113h1v1h-1zM361 115h1v1h-1zM351 133h1v1h-1zM481 79h1v1h-1zM507 94h1v1h-1zM375 96h1v1h-1zM442 114h1v1h-1zM466 147h1v1h-1zM452 84h1v1h-1zM415 70h1v1h-1zM417 71h1v1h-1zM439 142h1v1h-1zM478 130h1v1h-1zM389 138h1v1h-1zM492 89h1v1h-1zM440 69h1v1h-1zM506 105h1v1h-1zM496 105h1v1h-1zM495 104h1v1h-1zM446 78h1v1h-1zM367 141h1v1h-1zM487 95h1v1h-1zM404 119h1v1h-1zM496 113h1v1h-1zM475 138h1v1h-1zM380 133h1v1h-1zM493 70h1v1h-1zM354 79h1v1h-1zM460 118h1v1h-1zM417 105h1v1h-1zM380 138h1v1h-1zM437 78h1v1h-1z" fill="#000" fill-opacity="0.9"/>
<path d="M363.0 106.3 C362.6 100.0 366.5 95.5 376.5 91.6 L418.5 77.2 C432.0 73.6 446.0 71.6 452.0 71.8 C457.5 72.2 459.8 75.4 458.9 81.0 L454.4 111.5 C452.6 124.0 450.2 131.0 444.5 135.8 C438.5 140.2 430 141 424.0 139.6 C418.0 137.8 414.0 133.2 409.2 127.8 C404.5 122.8 399.5 121.0 392.5 121.4 C386 122 381 125 375.5 124.2 C368.5 122.8 363.4 115.5 363.0 106.3 Z" fill="none" stroke="#9a1b3e" stroke-width="1.7"/>
<text x="9.40" y="333.50" font-size="14.4" fill="#000" font-weight="bold">C</text>
<line x1="90.00" y1="342.80" x2="90.00" y2="528.00" stroke="#141414" stroke-width="1.5"/>
<line x1="89.30" y1="527.20" x2="221.00" y2="527.20" stroke="#141414" stroke-width="1.5"/>
<line x1="86.80" y1="527.20" x2="90.00" y2="527.20" stroke="#141414" stroke-width="1.3"/>
<text x="82.65" y="530.00" font-size="9.0" fill="#2e2e2e" text-anchor="end" textLength="5.50" lengthAdjust="spacingAndGlyphs">0</text>
<line x1="86.80" y1="501.34" x2="90.00" y2="501.34" stroke="#141414" stroke-width="1.3"/>
<text x="82.65" y="504.14" font-size="9.0" fill="#2e2e2e" text-anchor="end" textLength="26.70" lengthAdjust="spacingAndGlyphs">10000</text>
<line x1="86.80" y1="475.48" x2="90.00" y2="475.48" stroke="#141414" stroke-width="1.3"/>
<text x="82.65" y="478.28" font-size="9.0" fill="#2e2e2e" text-anchor="end" textLength="26.70" lengthAdjust="spacingAndGlyphs">20000</text>
<line x1="86.80" y1="449.62" x2="90.00" y2="449.62" stroke="#141414" stroke-width="1.3"/>
<text x="82.65" y="452.42" font-size="9.0" fill="#2e2e2e" text-anchor="end" textLength="26.70" lengthAdjust="spacingAndGlyphs">30000</text>
<line x1="86.80" y1="423.76" x2="90.00" y2="423.76" stroke="#141414" stroke-width="1.3"/>
<text x="82.65" y="426.56" font-size="9.0" fill="#2e2e2e" text-anchor="end" textLength="26.70" lengthAdjust="spacingAndGlyphs">40000</text>
<line x1="86.80" y1="397.90" x2="90.00" y2="397.90" stroke="#141414" stroke-width="1.3"/>
<text x="82.65" y="400.70" font-size="9.0" fill="#2e2e2e" text-anchor="end" textLength="26.70" lengthAdjust="spacingAndGlyphs">50000</text>
<line x1="86.80" y1="372.04" x2="90.00" y2="372.04" stroke="#141414" stroke-width="1.3"/>
<text x="82.65" y="374.84" font-size="9.0" fill="#2e2e2e" text-anchor="end" textLength="26.70" lengthAdjust="spacingAndGlyphs">60000</text>
<line x1="86.80" y1="346.18" x2="90.00" y2="346.18" stroke="#141414" stroke-width="1.3"/>
<text x="82.65" y="348.98" font-size="9.0" fill="#2e2e2e" text-anchor="end" textLength="26.70" lengthAdjust="spacingAndGlyphs">70000</text>
<text transform="translate(33.60,434.70) rotate(-90)" x="0" y="0" font-size="11.4" fill="#9c1843" text-anchor="middle" textLength="28.84" lengthAdjust="spacingAndGlyphs" stroke="#9c1843" stroke-width="0.3">pH rodo</text>
<text transform="translate(46.90,434.45) rotate(-90)" x="0" y="0" font-size="11.6" fill="#1c1c1c" text-anchor="middle" textLength="108.06" lengthAdjust="spacingAndGlyphs" stroke="#1c1c1c" stroke-width="0.25">median fluorescence intensity</text>
<text x="123.30" y="539.20" font-size="9.2" fill="#2e2e2e" text-anchor="middle" textLength="50.52" lengthAdjust="spacingAndGlyphs">Extracellular</text>
<text x="188.15" y="539.20" font-size="9.2" fill="#2e2e2e" text-anchor="middle" textLength="48.82" lengthAdjust="spacingAndGlyphs">Intracellular</text>
<line x1="121.20" y1="355.90" x2="187.30" y2="355.90" stroke="#222" stroke-width="1.5"/>
<line x1="121.20" y1="353.00" x2="121.20" y2="358.80" stroke="#222" stroke-width="1.5"/>
<line x1="187.30" y1="353.00" x2="187.30" y2="358.80" stroke="#222" stroke-width="1.5"/>
<circle cx="148.40" cy="350.7" r="1.25" fill="#111"/>
<circle cx="152.30" cy="350.7" r="1.25" fill="#111"/>
<circle cx="156.20" cy="350.7" r="1.25" fill="#111"/>
<circle cx="160.10" cy="350.7" r="1.25" fill="#111"/>
<rect x="185.95" y="365.85" width="3.7" height="3.7" fill="#960c36"/>
<rect x="180.95" y="371.15" width="3.7" height="3.7" fill="#960c36"/>
<rect x="191.25" y="371.65" width="3.7" height="3.7" fill="#960c36"/>
<rect x="185.95" y="373.55" width="3.7" height="3.7" fill="#960c36"/>
<rect x="185.95" y="381.05" width="3.7" height="3.7" fill="#960c36"/>
<rect x="180.95" y="390.85" width="3.7" height="3.7" fill="#960c36"/>
<rect x="191.05" y="391.85" width="3.7" height="3.7" fill="#960c36"/>
<rect x="185.95" y="395.15" width="3.7" height="3.7" fill="#960c36"/>
<rect x="185.95" y="401.45" width="3.7" height="3.7" fill="#960c36"/>
<rect x="188.15" y="407.65" width="3.7" height="3.7" fill="#960c36"/>
<rect x="188.35" y="409.15" width="3.7" height="3.7" fill="#960c36"/>
<rect x="181.25" y="410.35" width="3.7" height="3.7" fill="#960c36"/>
<rect x="178.55" y="413.55" width="3.7" height="3.7" fill="#960c36"/>
<rect x="183.55" y="414.25" width="3.7" height="3.7" fill="#960c36"/>
<rect x="195.85" y="413.55" width="3.7" height="3.7" fill="#960c36"/>
<rect x="191.25" y="417.55" width="3.7" height="3.7" fill="#960c36"/>
<rect x="193.45" y="419.05" width="3.7" height="3.7" fill="#960c36"/>
<rect x="178.55" y="420.45" width="3.7" height="3.7" fill="#960c36"/>
<rect x="188.35" y="420.95" width="3.7" height="3.7" fill="#960c36"/>
<rect x="183.55" y="423.55" width="3.7" height="3.7" fill="#960c36"/>
<rect x="180.95" y="430.85" width="3.7" height="3.7" fill="#960c36"/>
<rect x="185.95" y="430.55" width="3.7" height="3.7" fill="#960c36"/>
<rect x="191.05" y="432.45" width="3.7" height="3.7" fill="#960c36"/>
<rect x="185.95" y="435.35" width="3.7" height="3.7" fill="#960c36"/>
<rect x="176.15" y="440.15" width="3.7" height="3.7" fill="#960c36"/>
<rect x="191.05" y="440.15" width="3.7" height="3.7" fill="#960c36"/>
<rect x="195.85" y="439.95" width="3.7" height="3.7" fill="#960c36"/>
<rect x="181.25" y="442.55" width="3.7" height="3.7" fill="#960c36"/>
<rect x="185.95" y="444.45" width="3.7" height="3.7" fill="#960c36"/>
<rect x="180.95" y="448.85" width="3.7" height="3.7" fill="#960c36"/>
<rect x="185.95" y="450.25" width="3.7" height="3.7" fill="#960c36"/>
<rect x="192.95" y="450.05" width="3.7" height="3.7" fill="#960c36"/>
<rect x="191.05" y="452.15" width="3.7" height="3.7" fill="#960c36"/>
<rect x="173.75" y="457.55" width="3.7" height="3.7" fill="#960c36"/>
<rect x="180.95" y="456.65" width="3.7" height="3.7" fill="#960c36"/>
<rect x="185.95" y="456.65" width="3.7" height="3.7" fill="#960c36"/>
<rect x="178.55" y="459.85" width="3.7" height="3.7" fill="#960c36"/>
<rect x="188.65" y="460.15" width="3.7" height="3.7" fill="#960c36"/>
<rect x="193.45" y="459.25" width="3.7" height="3.7" fill="#960c36"/>
<rect x="198.25" y="457.55" width="3.7" height="3.7" fill="#960c36"/>
<rect x="183.55" y="462.15" width="3.7" height="3.7" fill="#960c36"/>
<rect x="180.95" y="466.45" width="3.7" height="3.7" fill="#960c36"/>
<rect x="191.05" y="465.45" width="3.7" height="3.7" fill="#960c36"/>
<rect x="185.95" y="468.35" width="3.7" height="3.7" fill="#960c36"/>
<rect x="166.55" y="469.35" width="3.7" height="3.7" fill="#960c36"/>
<rect x="203.35" y="468.85" width="3.7" height="3.7" fill="#960c36"/>
<rect x="171.35" y="471.25" width="3.7" height="3.7" fill="#960c36"/>
<rect x="178.55" y="471.75" width="3.7" height="3.7" fill="#960c36"/>
<rect x="188.65" y="472.15" width="3.7" height="3.7" fill="#960c36"/>
<rect x="193.45" y="471.25" width="3.7" height="3.7" fill="#960c36"/>
<rect x="198.55" y="471.25" width="3.7" height="3.7" fill="#960c36"/>
<rect x="183.55" y="473.65" width="3.7" height="3.7" fill="#960c36"/>
<rect x="173.75" y="475.85" width="3.7" height="3.7" fill="#960c36"/>
<rect x="191.05" y="476.05" width="3.7" height="3.7" fill="#960c36"/>
<rect x="195.85" y="475.55" width="3.7" height="3.7" fill="#960c36"/>
<rect x="178.55" y="478.95" width="3.7" height="3.7" fill="#960c36"/>
<rect x="185.95" y="479.45" width="3.7" height="3.7" fill="#960c36"/>
<rect x="181.25" y="482.25" width="3.7" height="3.7" fill="#960c36"/>
<rect x="185.95" y="486.15" width="3.7" height="3.7" fill="#960c36"/>
<rect x="191.05" y="484.65" width="3.7" height="3.7" fill="#960c36"/>
<line x1="187.80" y1="368.20" x2="187.80" y2="489.00" stroke="#2a2a2a" stroke-width="1.4"/>
<line x1="177.00" y1="368.20" x2="198.70" y2="368.20" stroke="#2a2a2a" stroke-width="1.5"/>
<line x1="177.00" y1="489.00" x2="198.70" y2="489.00" stroke="#2a2a2a" stroke-width="1.5"/>
<line x1="166.40" y1="451.90" x2="209.40" y2="451.90" stroke="#2a2a2a" stroke-width="1.6"/>
<line x1="122.80" y1="499.40" x2="122.80" y2="517.40" stroke="#2a2a2a" stroke-width="1.4"/>
<line x1="111.90" y1="499.40" x2="133.60" y2="499.40" stroke="#2a2a2a" stroke-width="1.5"/>
<line x1="112.50" y1="517.40" x2="133.60" y2="517.40" stroke="#2a2a2a" stroke-width="1.5"/>
<circle cx="116.20" cy="499.40" r="1.85" fill="#a20c38"/>
<circle cx="128.90" cy="500.80" r="1.85" fill="#a20c38"/>
<circle cx="123.60" cy="502.90" r="1.85" fill="#a20c38"/>
<circle cx="125.70" cy="504.50" r="1.85" fill="#a20c38"/>
<circle cx="119.90" cy="505.60" r="1.85" fill="#a20c38"/>
<circle cx="122.00" cy="506.60" r="1.85" fill="#a20c38"/>
<circle cx="103.80" cy="508.30" r="1.85" fill="#a20c38"/>
<circle cx="111.00" cy="508.30" r="1.85" fill="#a20c38"/>
<circle cx="118.70" cy="508.30" r="1.85" fill="#a20c38"/>
<circle cx="122.50" cy="508.30" r="1.85" fill="#a20c38"/>
<circle cx="127.30" cy="508.30" r="1.85" fill="#a20c38"/>
<circle cx="134.50" cy="508.30" r="1.85" fill="#a20c38"/>
<circle cx="139.30" cy="506.80" r="1.85" fill="#a20c38"/>
<circle cx="122.50" cy="518.40" r="1.85" fill="#a20c38"/>
<circle cx="102.90" cy="512.00" r="1.85" fill="#a20c38"/>
<circle cx="105.99" cy="512.17" r="1.85" fill="#a20c38"/>
<circle cx="109.08" cy="512.32" r="1.85" fill="#a20c38"/>
<circle cx="112.18" cy="512.43" r="1.85" fill="#a20c38"/>
<circle cx="115.27" cy="512.51" r="1.85" fill="#a20c38"/>
<circle cx="118.36" cy="512.57" r="1.85" fill="#a20c38"/>
<circle cx="121.45" cy="512.60" r="1.85" fill="#a20c38"/>
<circle cx="124.55" cy="512.60" r="1.85" fill="#a20c38"/>
<circle cx="127.64" cy="512.56" r="1.85" fill="#a20c38"/>
<circle cx="130.73" cy="512.50" r="1.85" fill="#a20c38"/>
<circle cx="133.82" cy="512.42" r="1.85" fill="#a20c38"/>
<circle cx="136.92" cy="512.30" r="1.85" fill="#a20c38"/>
<circle cx="140.01" cy="512.15" r="1.85" fill="#a20c38"/>
<circle cx="143.10" cy="511.98" r="1.85" fill="#a20c38"/>
<circle cx="107.00" cy="513.43" r="1.85" fill="#a20c38"/>
<circle cx="110.51" cy="513.81" r="1.85" fill="#a20c38"/>
<circle cx="114.02" cy="514.10" r="1.85" fill="#a20c38"/>
<circle cx="117.53" cy="514.29" r="1.85" fill="#a20c38"/>
<circle cx="121.04" cy="514.39" r="1.85" fill="#a20c38"/>
<circle cx="124.56" cy="514.39" r="1.85" fill="#a20c38"/>
<circle cx="128.07" cy="514.29" r="1.85" fill="#a20c38"/>
<circle cx="131.58" cy="514.10" r="1.85" fill="#a20c38"/>
<circle cx="135.09" cy="513.81" r="1.85" fill="#a20c38"/>
<circle cx="138.60" cy="513.43" r="1.85" fill="#a20c38"/>
<line x1="119.50" y1="513.90" x2="127.00" y2="513.90" stroke="#3a2a2a" stroke-width="1.2"/>
<line x1="323.90" y1="337.00" x2="323.90" y2="528.00" stroke="#141414" stroke-width="1.5"/>
<line x1="323.20" y1="527.30" x2="449.80" y2="527.30" stroke="#141414" stroke-width="1.5"/>
<line x1="320.30" y1="527.40" x2="323.90" y2="527.40" stroke="#141414" stroke-width="1.3"/>
<text x="316.06" y="530.30" font-size="9.1" fill="#2e2e2e" text-anchor="end" textLength="5.50" lengthAdjust="spacingAndGlyphs">0</text>
<line x1="320.30" y1="500.74" x2="323.90" y2="500.74" stroke="#141414" stroke-width="1.3"/>
<text x="316.06" y="503.64" font-size="9.1" fill="#2e2e2e" text-anchor="end" textLength="21.10" lengthAdjust="spacingAndGlyphs">1000</text>
<line x1="320.30" y1="474.08" x2="323.90" y2="474.08" stroke="#141414" stroke-width="1.3"/>
<text x="316.06" y="476.98" font-size="9.1" fill="#2e2e2e" text-anchor="end" textLength="21.10" lengthAdjust="spacingAndGlyphs">2000</text>
<line x1="320.30" y1="447.42" x2="323.90" y2="447.42" stroke="#141414" stroke-width="1.3"/>
<text x="316.06" y="450.32" font-size="9.1" fill="#2e2e2e" text-anchor="end" textLength="21.10" lengthAdjust="spacingAndGlyphs">3000</text>
<line x1="320.30" y1="420.76" x2="323.90" y2="420.76" stroke="#141414" stroke-width="1.3"/>
<text x="316.06" y="423.66" font-size="9.1" fill="#2e2e2e" text-anchor="end" textLength="21.10" lengthAdjust="spacingAndGlyphs">4000</text>
<line x1="320.30" y1="394.10" x2="323.90" y2="394.10" stroke="#141414" stroke-width="1.3"/>
<text x="316.06" y="397.00" font-size="9.1" fill="#2e2e2e" text-anchor="end" textLength="21.10" lengthAdjust="spacingAndGlyphs">5000</text>
<line x1="320.30" y1="367.44" x2="323.90" y2="367.44" stroke="#141414" stroke-width="1.3"/>
<text x="316.06" y="370.34" font-size="9.1" fill="#2e2e2e" text-anchor="end" textLength="21.10" lengthAdjust="spacingAndGlyphs">6000</text>
<line x1="320.30" y1="340.78" x2="323.90" y2="340.78" stroke="#141414" stroke-width="1.3"/>
<text x="316.06" y="343.68" font-size="9.1" fill="#2e2e2e" text-anchor="end" textLength="21.10" lengthAdjust="spacingAndGlyphs">7000</text>
<text transform="translate(273.20,432.15) rotate(-90)" x="0" y="0" font-size="12.0" fill="#56709e" text-anchor="middle" textLength="25.90" lengthAdjust="spacingAndGlyphs" stroke="#56709e" stroke-width="0.3">AF 647</text>
<text transform="translate(286.00,431.50) rotate(-90)" x="0" y="0" font-size="11.6" fill="#1c1c1c" text-anchor="middle" textLength="107.96" lengthAdjust="spacingAndGlyphs" stroke="#1c1c1c" stroke-width="0.25">median fluorescence intensity</text>
<text x="355.70" y="539.70" font-size="9.5" fill="#2e2e2e" text-anchor="middle" textLength="50.55" lengthAdjust="spacingAndGlyphs">Extracellular</text>
<text x="418.00" y="539.70" font-size="9.5" fill="#2e2e2e" text-anchor="middle" textLength="49.35" lengthAdjust="spacingAndGlyphs">Intracellular</text>
<line x1="355.10" y1="346.70" x2="416.70" y2="346.70" stroke="#222" stroke-width="1.5"/>
<line x1="355.10" y1="343.90" x2="355.10" y2="349.70" stroke="#222" stroke-width="1.5"/>
<line x1="416.70" y1="343.90" x2="416.70" y2="349.70" stroke="#222" stroke-width="1.5"/>
<circle cx="380.40" cy="341.5" r="1.25" fill="#111"/>
<circle cx="384.15" cy="341.5" r="1.25" fill="#111"/>
<circle cx="387.90" cy="341.5" r="1.25" fill="#111"/>
<circle cx="391.65" cy="341.5" r="1.25" fill="#111"/>
<circle cx="355.20" cy="362.90" r="1.7" fill="#2e3b68"/>
<circle cx="355.20" cy="368.90" r="1.7" fill="#2e3b68"/>
<circle cx="352.60" cy="377.60" r="1.7" fill="#2e3b68"/>
<circle cx="360.30" cy="380.20" r="1.7" fill="#2e3b68"/>
<circle cx="352.60" cy="385.30" r="1.7" fill="#2e3b68"/>
<circle cx="357.40" cy="384.80" r="1.7" fill="#2e3b68"/>
<circle cx="355.20" cy="383.80" r="1.7" fill="#2e3b68"/>
<circle cx="344.90" cy="388.20" r="1.7" fill="#2e3b68"/>
<circle cx="365.10" cy="387.70" r="1.7" fill="#2e3b68"/>
<circle cx="350.20" cy="390.10" r="1.7" fill="#2e3b68"/>
<circle cx="360.30" cy="389.10" r="1.7" fill="#2e3b68"/>
<circle cx="355.20" cy="391.50" r="1.7" fill="#2e3b68"/>
<circle cx="367.50" cy="394.90" r="1.7" fill="#2e3b68"/>
<circle cx="342.50" cy="396.80" r="1.7" fill="#2e3b68"/>
<circle cx="347.80" cy="399.30" r="1.7" fill="#2e3b68"/>
<circle cx="352.60" cy="399.80" r="1.7" fill="#2e3b68"/>
<circle cx="357.90" cy="399.80" r="1.7" fill="#2e3b68"/>
<circle cx="362.70" cy="397.90" r="1.7" fill="#2e3b68"/>
<circle cx="350.20" cy="403.20" r="1.7" fill="#2e3b68"/>
<circle cx="360.30" cy="402.70" r="1.7" fill="#2e3b68"/>
<circle cx="355.20" cy="406.30" r="1.7" fill="#2e3b68"/>
<circle cx="350.20" cy="408.90" r="1.7" fill="#2e3b68"/>
<circle cx="360.30" cy="409.60" r="1.7" fill="#2e3b68"/>
<circle cx="355.20" cy="411.80" r="1.7" fill="#2e3b68"/>
<circle cx="347.30" cy="415.70" r="1.7" fill="#2e3b68"/>
<circle cx="362.70" cy="416.60" r="1.7" fill="#2e3b68"/>
<circle cx="352.60" cy="417.60" r="1.7" fill="#2e3b68"/>
<circle cx="357.90" cy="419.50" r="1.7" fill="#2e3b68"/>
<circle cx="357.90" cy="425.30" r="1.7" fill="#2e3b68"/>
<circle cx="352.60" cy="428.20" r="1.7" fill="#2e3b68"/>
<line x1="355.20" y1="382.90" x2="355.20" y2="414.70" stroke="#161820" stroke-width="1.4"/>
<line x1="344.40" y1="382.90" x2="366.10" y2="382.90" stroke="#161820" stroke-width="1.5"/>
<line x1="344.90" y1="414.70" x2="365.60" y2="414.70" stroke="#161820" stroke-width="1.5"/>
<line x1="334.30" y1="398.80" x2="376.00" y2="398.80" stroke="#161820" stroke-width="1.6"/>
<rect x="416.25" y="380.25" width="3.3" height="3.3" fill="#2e3b68"/>
<rect x="416.35" y="400.25" width="3.3" height="3.3" fill="#2e3b68"/>
<rect x="411.15" y="405.75" width="3.3" height="3.3" fill="#2e3b68"/>
<rect x="419.05" y="405.05" width="3.3" height="3.3" fill="#2e3b68"/>
<rect x="413.75" y="410.85" width="3.3" height="3.3" fill="#2e3b68"/>
<rect x="419.05" y="412.95" width="3.3" height="3.3" fill="#2e3b68"/>
<rect x="416.35" y="420.95" width="3.3" height="3.3" fill="#2e3b68"/>
<rect x="403.65" y="425.65" width="3.3" height="3.3" fill="#2e3b68"/>
<rect x="428.55" y="425.65" width="3.3" height="3.3" fill="#2e3b68"/>
<rect x="411.15" y="427.25" width="3.3" height="3.3" fill="#2e3b68"/>
<rect x="421.15" y="426.25" width="3.3" height="3.3" fill="#2e3b68"/>
<rect x="406.35" y="429.95" width="3.3" height="3.3" fill="#2e3b68"/>
<rect x="416.35" y="429.35" width="3.3" height="3.3" fill="#2e3b68"/>
<rect x="426.45" y="429.95" width="3.3" height="3.3" fill="#2e3b68"/>
<rect x="411.15" y="433.65" width="3.3" height="3.3" fill="#2e3b68"/>
<rect x="416.35" y="433.95" width="3.3" height="3.3" fill="#2e3b68"/>
<rect x="421.15" y="433.05" width="3.3" height="3.3" fill="#2e3b68"/>
<rect x="398.35" y="434.95" width="3.3" height="3.3" fill="#2e3b68"/>
<rect x="403.65" y="435.75" width="3.3" height="3.3" fill="#2e3b68"/>
<rect x="433.85" y="435.25" width="3.3" height="3.3" fill="#2e3b68"/>
<rect x="428.55" y="436.75" width="3.3" height="3.3" fill="#2e3b68"/>
<rect x="395.85" y="439.72" width="3.3" height="3.3" fill="#2e3b68"/>
<rect x="399.27" y="440.77" width="3.3" height="3.3" fill="#2e3b68"/>
<rect x="402.68" y="441.63" width="3.3" height="3.3" fill="#2e3b68"/>
<rect x="406.10" y="442.29" width="3.3" height="3.3" fill="#2e3b68"/>
<rect x="409.52" y="442.77" width="3.3" height="3.3" fill="#2e3b68"/>
<rect x="412.93" y="443.05" width="3.3" height="3.3" fill="#2e3b68"/>
<rect x="416.35" y="443.15" width="3.3" height="3.3" fill="#2e3b68"/>
<rect x="419.77" y="443.05" width="3.3" height="3.3" fill="#2e3b68"/>
<rect x="423.18" y="442.77" width="3.3" height="3.3" fill="#2e3b68"/>
<rect x="426.60" y="442.29" width="3.3" height="3.3" fill="#2e3b68"/>
<rect x="430.02" y="441.63" width="3.3" height="3.3" fill="#2e3b68"/>
<rect x="433.43" y="440.77" width="3.3" height="3.3" fill="#2e3b68"/>
<rect x="436.85" y="439.72" width="3.3" height="3.3" fill="#2e3b68"/>
<rect x="400.35" y="442.38" width="3.3" height="3.3" fill="#2e3b68"/>
<rect x="403.91" y="443.16" width="3.3" height="3.3" fill="#2e3b68"/>
<rect x="407.46" y="443.74" width="3.3" height="3.3" fill="#2e3b68"/>
<rect x="411.02" y="444.13" width="3.3" height="3.3" fill="#2e3b68"/>
<rect x="414.57" y="444.33" width="3.3" height="3.3" fill="#2e3b68"/>
<rect x="418.13" y="444.33" width="3.3" height="3.3" fill="#2e3b68"/>
<rect x="421.68" y="444.13" width="3.3" height="3.3" fill="#2e3b68"/>
<rect x="425.24" y="443.74" width="3.3" height="3.3" fill="#2e3b68"/>
<rect x="428.79" y="443.16" width="3.3" height="3.3" fill="#2e3b68"/>
<rect x="432.35" y="442.38" width="3.3" height="3.3" fill="#2e3b68"/>
<rect x="396.35" y="446.74" width="3.3" height="3.3" fill="#2e3b68"/>
<rect x="399.99" y="448.00" width="3.3" height="3.3" fill="#2e3b68"/>
<rect x="403.62" y="449.01" width="3.3" height="3.3" fill="#2e3b68"/>
<rect x="407.26" y="449.76" width="3.3" height="3.3" fill="#2e3b68"/>
<rect x="410.90" y="450.27" width="3.3" height="3.3" fill="#2e3b68"/>
<rect x="414.53" y="450.52" width="3.3" height="3.3" fill="#2e3b68"/>
<rect x="418.17" y="450.52" width="3.3" height="3.3" fill="#2e3b68"/>
<rect x="421.80" y="450.27" width="3.3" height="3.3" fill="#2e3b68"/>
<rect x="425.44" y="449.76" width="3.3" height="3.3" fill="#2e3b68"/>
<rect x="429.08" y="449.01" width="3.3" height="3.3" fill="#2e3b68"/>
<rect x="432.71" y="448.00" width="3.3" height="3.3" fill="#2e3b68"/>
<rect x="436.35" y="446.74" width="3.3" height="3.3" fill="#2e3b68"/>
<rect x="396.85" y="452.71" width="3.3" height="3.3" fill="#2e3b68"/>
<rect x="400.40" y="453.88" width="3.3" height="3.3" fill="#2e3b68"/>
<rect x="403.94" y="454.82" width="3.3" height="3.3" fill="#2e3b68"/>
<rect x="407.49" y="455.52" width="3.3" height="3.3" fill="#2e3b68"/>
<rect x="411.03" y="455.99" width="3.3" height="3.3" fill="#2e3b68"/>
<rect x="414.58" y="456.22" width="3.3" height="3.3" fill="#2e3b68"/>
<rect x="418.12" y="456.22" width="3.3" height="3.3" fill="#2e3b68"/>
<rect x="421.67" y="455.99" width="3.3" height="3.3" fill="#2e3b68"/>
<rect x="425.21" y="455.52" width="3.3" height="3.3" fill="#2e3b68"/>
<rect x="428.76" y="454.82" width="3.3" height="3.3" fill="#2e3b68"/>
<rect x="432.30" y="453.88" width="3.3" height="3.3" fill="#2e3b68"/>
<rect x="435.85" y="452.71" width="3.3" height="3.3" fill="#2e3b68"/>
<line x1="418.00" y1="424.70" x2="418.00" y2="452.80" stroke="#161820" stroke-width="1.4"/>
<line x1="406.90" y1="424.70" x2="429.20" y2="424.70" stroke="#161820" stroke-width="1.5"/>
<line x1="396.90" y1="440.60" x2="439.20" y2="440.60" stroke="#161820" stroke-width="1.6"/>
<line x1="406.90" y1="452.80" x2="429.20" y2="452.80" stroke="#161820" stroke-width="1.5"/>
<text x="9.40" y="573.70" font-size="14.4" fill="#000" font-weight="bold">D</text>
<line x1="88.00" y1="595.50" x2="88.00" y2="754.30" stroke="#141414" stroke-width="1.5"/>
<line x1="87.30" y1="753.60" x2="205.40" y2="753.60" stroke="#141414" stroke-width="1.5"/>
<line x1="84.40" y1="753.60" x2="88.00" y2="753.60" stroke="#141414" stroke-width="1.3"/>
<text x="80.46" y="756.60" font-size="9.2" fill="#2e2e2e" text-anchor="end" textLength="5.50" lengthAdjust="spacingAndGlyphs">0</text>
<line x1="84.40" y1="715.05" x2="88.00" y2="715.05" stroke="#141414" stroke-width="1.3"/>
<text x="80.46" y="718.05" font-size="9.2" fill="#2e2e2e" text-anchor="end" textLength="22.00" lengthAdjust="spacingAndGlyphs">2000</text>
<line x1="84.40" y1="676.50" x2="88.00" y2="676.50" stroke="#141414" stroke-width="1.3"/>
<text x="80.46" y="679.50" font-size="9.2" fill="#2e2e2e" text-anchor="end" textLength="22.00" lengthAdjust="spacingAndGlyphs">4000</text>
<line x1="84.40" y1="637.95" x2="88.00" y2="637.95" stroke="#141414" stroke-width="1.3"/>
<text x="80.46" y="640.95" font-size="9.2" fill="#2e2e2e" text-anchor="end" textLength="22.00" lengthAdjust="spacingAndGlyphs">6000</text>
<line x1="84.40" y1="599.40" x2="88.00" y2="599.40" stroke="#141414" stroke-width="1.3"/>
<text x="80.46" y="602.40" font-size="9.2" fill="#2e2e2e" text-anchor="end" textLength="22.00" lengthAdjust="spacingAndGlyphs">8000</text>
<text transform="translate(34.20,674.35) rotate(-90)" x="0" y="0" font-size="11.4" fill="#9c1843" text-anchor="middle" textLength="28.44" lengthAdjust="spacingAndGlyphs" stroke="#9c1843" stroke-width="0.3">pH rodo</text>
<text transform="translate(47.70,674.25) rotate(-90)" x="0" y="0" font-size="11.6" fill="#1c1c1c" text-anchor="middle" textLength="107.66" lengthAdjust="spacingAndGlyphs" stroke="#1c1c1c" stroke-width="0.25">median fluorescence intensity</text>
<text x="117.75" y="765.80" font-size="9.6" fill="#2e2e2e" text-anchor="middle" textLength="31.76" lengthAdjust="spacingAndGlyphs">Control</text>
<text x="177.85" y="765.80" font-size="9.6" fill="#2e2e2e" text-anchor="middle" textLength="32.06" lengthAdjust="spacingAndGlyphs">Hypoxia</text>
<line x1="116.80" y1="568.90" x2="176.90" y2="568.90" stroke="#222" stroke-width="1.5"/>
<line x1="116.80" y1="560.70" x2="116.80" y2="577.10" stroke="#222" stroke-width="1.5"/>
<line x1="176.90" y1="560.70" x2="176.90" y2="577.10" stroke="#222" stroke-width="1.5"/>
<circle cx="145.10" cy="563.9" r="1.3" fill="#111"/>
<circle cx="149.10" cy="563.9" r="1.3" fill="#111"/>
<line x1="117.50" y1="670.90" x2="117.50" y2="684.40" stroke="#111" stroke-width="1.4"/>
<line x1="108.20" y1="670.90" x2="126.90" y2="670.90" stroke="#111" stroke-width="1.5"/>
<line x1="108.20" y1="684.40" x2="126.90" y2="684.40" stroke="#111" stroke-width="1.5"/>
<line x1="98.10" y1="678.10" x2="137.30" y2="678.10" stroke="#111" stroke-width="1.6"/>
<circle cx="113.1" cy="656.7" r="3.05" fill="#a20c38"/>
<circle cx="122.0" cy="656.1" r="3.05" fill="#a20c38"/>
<circle cx="113.1" cy="683.8" r="3.05" fill="#a20c38"/>
<circle cx="126.7" cy="683.8" r="3.05" fill="#a20c38"/>
<circle cx="121.7" cy="690.7" r="3.05" fill="#a20c38"/>
<circle cx="112.8" cy="697.7" r="3.05" fill="#a20c38"/>
<line x1="177.50" y1="625.60" x2="177.50" y2="641.70" stroke="#111" stroke-width="1.4"/>
<line x1="168.20" y1="625.60" x2="187.10" y2="625.60" stroke="#111" stroke-width="1.5"/>
<line x1="168.20" y1="641.70" x2="187.10" y2="641.70" stroke="#111" stroke-width="1.5"/>
<line x1="157.20" y1="633.60" x2="196.40" y2="633.60" stroke="#111" stroke-width="1.6"/>
<rect x="169.00" y="604.70" width="6.2" height="6.2" fill="#a20c38"/>
<rect x="177.90" y="612.60" width="6.2" height="6.2" fill="#a20c38"/>
<rect x="173.70" y="622.80" width="6.2" height="6.2" fill="#a20c38"/>
<rect x="168.80" y="642.10" width="6.2" height="6.2" fill="#a20c38"/>
<rect x="178.30" y="642.60" width="6.2" height="6.2" fill="#a20c38"/>
<rect x="173.70" y="657.60" width="6.2" height="6.2" fill="#a20c38"/>
<line x1="322.00" y1="590.00" x2="322.00" y2="754.30" stroke="#141414" stroke-width="1.5"/>
<line x1="321.30" y1="753.60" x2="452.90" y2="753.60" stroke="#141414" stroke-width="1.5"/>
<line x1="318.30" y1="753.60" x2="322.00" y2="753.60" stroke="#141414" stroke-width="1.3"/>
<text x="313.96" y="756.70" font-size="9.2" fill="#2e2e2e" text-anchor="end" textLength="5.45" lengthAdjust="spacingAndGlyphs">0</text>
<line x1="318.30" y1="721.56" x2="322.00" y2="721.56" stroke="#141414" stroke-width="1.3"/>
<text x="313.96" y="724.66" font-size="9.2" fill="#2e2e2e" text-anchor="end" textLength="21.80" lengthAdjust="spacingAndGlyphs">1000</text>
<line x1="318.30" y1="689.52" x2="322.00" y2="689.52" stroke="#141414" stroke-width="1.3"/>
<text x="313.96" y="692.62" font-size="9.2" fill="#2e2e2e" text-anchor="end" textLength="21.80" lengthAdjust="spacingAndGlyphs">2000</text>
<line x1="318.30" y1="657.48" x2="322.00" y2="657.48" stroke="#141414" stroke-width="1.3"/>
<text x="313.96" y="660.58" font-size="9.2" fill="#2e2e2e" text-anchor="end" textLength="21.80" lengthAdjust="spacingAndGlyphs">3000</text>
<line x1="318.30" y1="625.44" x2="322.00" y2="625.44" stroke="#141414" stroke-width="1.3"/>
<text x="313.96" y="628.54" font-size="9.2" fill="#2e2e2e" text-anchor="end" textLength="21.80" lengthAdjust="spacingAndGlyphs">4000</text>
<line x1="318.30" y1="593.40" x2="322.00" y2="593.40" stroke="#141414" stroke-width="1.3"/>
<text x="313.96" y="596.50" font-size="9.2" fill="#2e2e2e" text-anchor="end" textLength="21.80" lengthAdjust="spacingAndGlyphs">5000</text>
<text transform="translate(270.70,655.90) rotate(-90)" x="0" y="0" font-size="11.6" fill="#56709e" text-anchor="middle" textLength="22.96" lengthAdjust="spacingAndGlyphs" stroke="#56709e" stroke-width="0.3">AF647</text>
<text transform="translate(284.40,654.95) rotate(-90)" x="0" y="0" font-size="11.6" fill="#1c1c1c" text-anchor="middle" textLength="108.26" lengthAdjust="spacingAndGlyphs" stroke="#1c1c1c" stroke-width="0.25">median fluorescence intensity</text>
<text x="354.50" y="766.20" font-size="9.6" fill="#2e2e2e" text-anchor="middle" textLength="31.76" lengthAdjust="spacingAndGlyphs">Control</text>
<text x="420.00" y="766.20" font-size="9.6" fill="#2e2e2e" text-anchor="middle" textLength="32.06" lengthAdjust="spacingAndGlyphs">Hypoxia</text>
<line x1="358.90" y1="572.00" x2="417.40" y2="572.00" stroke="#222" stroke-width="1.5"/>
<line x1="358.90" y1="564.00" x2="358.90" y2="580.30" stroke="#222" stroke-width="1.5"/>
<line x1="417.40" y1="564.00" x2="417.40" y2="580.30" stroke="#222" stroke-width="1.5"/>
<circle cx="384.50" cy="567.0" r="1.2" fill="#111"/>
<circle cx="388.15" cy="567.0" r="1.2" fill="#111"/>
<circle cx="391.80" cy="567.0" r="1.2" fill="#111"/>
<line x1="354.50" y1="690.60" x2="354.50" y2="697.60" stroke="#111" stroke-width="1.4"/>
<line x1="343.50" y1="690.60" x2="365.00" y2="690.60" stroke="#111" stroke-width="1.5"/>
<line x1="343.50" y1="697.60" x2="364.60" y2="697.60" stroke="#111" stroke-width="1.5"/>
<line x1="332.70" y1="694.00" x2="376.00" y2="694.00" stroke="#111" stroke-width="1.6"/>
<circle cx="339.4" cy="686.1" r="3.25" fill="#32457a"/>
<circle cx="349.2" cy="689.4" r="3.25" fill="#32457a"/>
<circle cx="359.3" cy="688.5" r="3.25" fill="#32457a"/>
<circle cx="364.1" cy="692.8" r="3.25" fill="#32457a"/>
<circle cx="358.8" cy="699.5" r="3.25" fill="#32457a"/>
<circle cx="349.2" cy="707.7" r="3.25" fill="#32457a"/>
<line x1="420.00" y1="626.20" x2="420.00" y2="640.90" stroke="#111" stroke-width="1.4"/>
<line x1="409.20" y1="626.20" x2="430.80" y2="626.20" stroke="#111" stroke-width="1.5"/>
<line x1="409.20" y1="640.90" x2="430.80" y2="640.90" stroke="#111" stroke-width="1.5"/>
<line x1="398.50" y1="633.80" x2="440.90" y2="633.80" stroke="#111" stroke-width="1.6"/>
<rect x="416.35" y="604.05" width="6.1" height="6.1" fill="#32457a"/>
<rect x="416.35" y="616.35" width="6.1" height="6.1" fill="#32457a"/>
<rect x="411.45" y="631.45" width="6.1" height="6.1" fill="#32457a"/>
<rect x="421.55" y="636.95" width="6.1" height="6.1" fill="#32457a"/>
<rect x="411.45" y="649.25" width="6.1" height="6.1" fill="#32457a"/>
<rect x="421.55" y="647.75" width="6.1" height="6.1" fill="#32457a"/>
</svg></div></body></html>
